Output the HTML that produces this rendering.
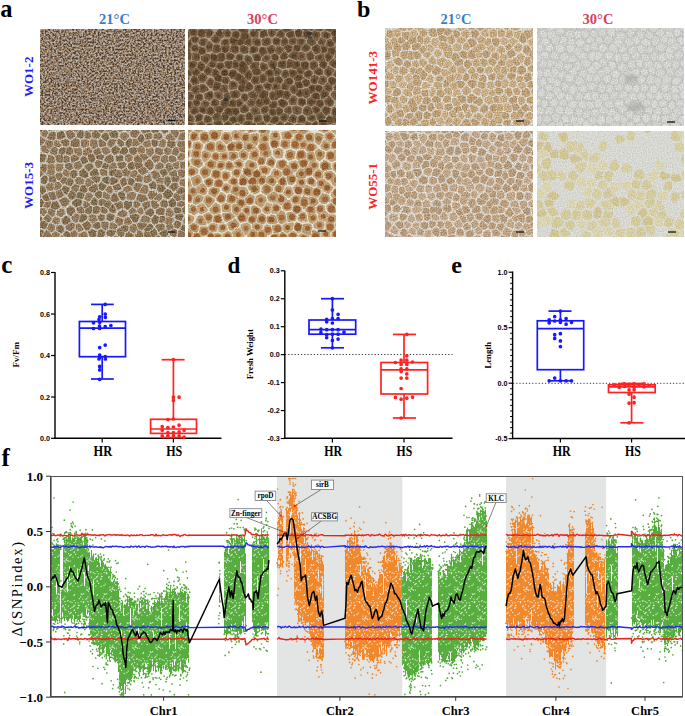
<!DOCTYPE html>
<html><head><meta charset="utf-8"><style>
html,body{margin:0;padding:0;background:#fff;width:685px;height:716px;overflow:hidden}
svg{display:block}
</style></head><body>
<svg width="685" height="716" viewBox="0 0 685 716">
<rect width="685" height="716" fill="#fff"/>
<filter id="sm" x="-50%" y="-50%" width="200%" height="200%"><feGaussianBlur stdDeviation="2.2"/></filter>
<filter id="nzA" x="40" y="29" width="145" height="96" filterUnits="userSpaceOnUse" color-interpolation-filters="sRGB"><feTurbulence type="fractalNoise" baseFrequency="0.55" numOctaves="2" seed="5"/><feColorMatrix type="matrix" values="2.4 0 0 0 -0.7 2.4 0 0 0 -0.7 2.4 0 0 0 -0.7 0 0 0 0 1"/><feComponentTransfer><feFuncR type="table" tableValues="0.30 0.46 0.58 0.66 0.74"/><feFuncG type="table" tableValues="0.22 0.36 0.49 0.61 0.71"/><feFuncB type="table" tableValues="0.16 0.27 0.39 0.56 0.70"/></feComponentTransfer></filter><rect x="40" y="29" width="145" height="96" filter="url(#nzA)"/><line x1="168" y1="120.5" x2="175.5" y2="120.5" stroke="#111" stroke-width="1.3"/>
<clipPath id="c2"><rect x="188" y="29" width="148" height="96"/></clipPath>
<filter id="Fc2" filterUnits="userSpaceOnUse" x="182" y="23" width="160" height="108" color-interpolation-filters="sRGB"><feTurbulence type="fractalNoise" baseFrequency="0.15" numOctaves="2" seed="2" result="t"/><feDisplacementMap in="SourceGraphic" in2="t" scale="2" xChannelSelector="R" yChannelSelector="G" result="d"/><feGaussianBlur in="d" stdDeviation="0.6" result="b"/><feTurbulence type="fractalNoise" baseFrequency="0.7" numOctaves="1" seed="13" result="n"/><feColorMatrix in="n" type="matrix" values="1 0 0 0 0 1 0 0 0 0 1 0 0 0 0 0 0 0 0 1" result="g"/><feComposite in="b" in2="g" operator="arithmetic" k1="0" k2="1" k3="0.3" k4="-0.15"/></filter>
<g clip-path="url(#c2)"><g filter="url(#Fc2)"><rect x="182" y="23" width="160" height="108" fill="#a89e8c"/>
<path fill="#745a3e" stroke="#745a3e" stroke-width="2.8" stroke-linejoin="round" d="M275.1 23.7l4.3 2.5-0.2 1.9-2.6 1.6-4.2-3.1 0.3-1.2zM285.6 31.4l-2.3-2.7 0.2-1.9 1.4-1 4.3 1.1 1.5 2.4zM303.7 24l-1.9 1.4-0.5 1.5 2.1 1.9 4.3 0.5-3.4-5.2zM312.6 23.4l-5 1 3.2 4.7 0.7 0.3 1.7-1 0.2-3.9zM329.5 24.9l2.2 0.4 0.3 2.1-1.9 3.4-4.1-1.6 1.2-3.6zM232.8 35.7l4.6 1.8 0.6-0.9 0.4-2.8-1.7-1.9-3 1zM304.7 31.8l-1.1 4.9 2.5 1 3.1-3.1 0.6-1.9-0.8-0.4zM206.4 40.3l-2.5 4.6-3.2-0.7-0.7-1.3 1.3-2.8 3.5-0.4zM217.9 42.1l1.3-2.3-4-4.4-3.1 3.9 2.4 2.6zM249.7 38.6l-2.7 1.8-1.9 2.9 4.2 1.8 1-1.2-0.2-4.9zM259 40.2l-0.3-0.3-5.1-0.5 0.2 4.6 5.1 1.2 0.7-0.6zM269.8 39.9l0.3 3.1-3.6 2-3-0.6-0.5-4.4 5.1-1.3zM273.8 39.8l1.9-1.2 3.7 1.2-0.5 4.3-2.8 0.1-1.9-1.4zM293.2 43.6l1.6-1.4 0.7-2.8-0.7-0.6-4.5 1.2-0.3 2.6zM328.7 46.2l-1.5-1.8 1.1-3.1 2.2-1.2 2.8 3.9-0.6 1.2zM337.3 37.4l-3.6 0-0.3 1.1 2.5 3.7 4.1-1.3 0.4-0.9zM185.5 54l-2.4-3.6 2.1-2 3.7 1.4 0.6 1.1zM192.9 49.8l-0.5-1 1.7-2.8 2.4-0.3 0.6 1.2-0.7 3.8-3.2-0.7zM227.1 50.9l1.3-4-6 0.1 0.6 3.8 2.3 1.1zM272 46.2l2 1.5-0.9 3.9-2.3 1.5-1.6-0.7-1-4.1zM286.1 49.6l2.3 2 2.8-1.9 0-3.1-3.1-0.9-2.7 2.2zM294.7 49.6l3.5 0.7 0.8-0.6 0.2-1.7-2.8-3-1.7 1.5zM189.9 58.9l0.6-5.1-0.3-0.2-3.6 2.8 0.2 2.4 1.4 0.7zM232.8 57.8l0.7-2-4.4-2.1-1.7 1.1 0.2 3.6 3.9 0.5zM259.1 59.9l0.3-0.3 0.3-2.1-1.6-2.9-4.5 1.1 1.7 4.2zM277.1 56.5l-2.4-1.7-2.2 1.4 0.4 2.1 3.7 1.5 0.9-0.9zM322.4 55.2l1.4 5-5.5-0.2-1.6-1.4 0.6-2.2 2.9-1.4zM328.2 60.6l-0.9-0.7-1.4-4.7 1.8-1.2 3.9 2.6-0.1 0.5zM338.9 59.7l3.5-2.7 0.5-2.6-0.1-0.2-5-0.1-1.9 2-0.1 0.5zM191.3 62.2l4.5 0.5-0.8 3.4-3.4 2.4-1.9-1.4-0.2-4.2zM220.2 69.1l-3.1-2.4 1.2-2.3 0.7-0.5 3.2-0.1 1.4 3.5zM239.8 66.9l6.7-1-3.3-4-2.7 1.8zM257.8 63.2l-4.1 0.1-2.7 3.2 0.3 0.9 0.4 0.5 5.8-0.6zM261.7 63.9l0.3-0.3 3.8 1.4 1.3 3-3.4 2.2-0.9-0.1-1.3-2.5zM272.4 67.8l-1.5-0.4-1.5-3.4 2.3-2.8 4 1.6-0.3 3.2zM296.3 67.7l-3.2-0.2 3.5-5.5 1 0 1.4 0.9-0.2 2.6zM313.3 69.1l-1.9-1.5-0.2-4.4 3.2-1.6 1.6 1.3 0.7 3.2zM334.8 66.7l-4.3-2.7-0.2-0.7 3.3-3.4 2.8 2.9 0 3.5zM196.6 74.8l2.6-2.3-2.8-3.4-3.3 2.3 0.6 2.6zM211 69.2l-1.5 4.7-1.1 0.2-3.2-2.5 1.9-4.2 0.1 0zM218.1 73.5l0.1-1.5-3.1-2.4-0.9 0.4-1.5 4.9 1.5 0.9zM222 73.6l0.1-1.5 3.4-1.9 1.7 1-0.4 3.2-3.5 0.5zM249.1 71l-4.3 4.6 0 0.1 3.9 3.3 0.5 0 2.1-3.9-1.7-3.7zM282.4 74.9l1.8 2.2 3.8-1.5-0.7-3.9-1-0.6-2.1 0.3zM297.7 70.3l1.6 2.5 2.6 0.2 0.7-1.3-2.5-3.5zM182.5 80.1l0.6 1 4.3-0.5 0.9-3.1-4.7 0.1-1.1 1zM216.1 79.6l-0.7-1.4 4-2.4 1.4 1.4-0.5 3.5zM252.1 80.8l2.4 2.6 4-1-0.8-5.2-3.7 0zM268.7 80.7l0.3-1.9 4.2-1 0 0 0 3.3-1 0.9zM276.4 77.9l0 3.5 3.9 1.2 0.9-1.4 0.5-1.2-1.9-2.4zM303.4 81.8l1.8 3.8 1.8 0 2-2.1-0.8-2.3-3.3-1.5zM339.3 82.2l3.6 1.8 1.7-2.3 0.1-2.5-1-0.8-4.6 1.5zM224.3 91.5l-4.2-1.4 3.4-4.3 2.9 0.6 1 4.1-0.1 0.1zM299 87.2l-3.1-3.2 0.1-0.9 4.2-0.4 1.9 3.9-0.6 0.3zM187.7 99.2l1.2-5.7 1.6-0.3 2.3 2.3-0.2 1.8-1.1 1.7zM290 94.7l-2.8 3.6-3.4-1.4 0.9-4.7 3.3-0.3zM299.1 90.7l-2 3.5 1.4 1.3 2.4 0 0.8-5.1zM304.5 90.2l0.7-0.4 1.9 0.1 1.7 4.2-0.2 1.1-1.9 1.9-3-1.6zM312.6 96.3l0.1-1 3.1-1.5 2.4 1 0.7 3.2-1.8 0.3zM194.1 102l1.3 2.4 2.2 0.7 0.7-0.7 1.1-2.4-4.2-1.8zM214.2 99.8l-2.2 2.8 0.1 1.9 0.9 0.5 5.1-0.8-0.3-2.6zM184.4 115.8l3.9-2.9-0.3-1.6-3-2.2-2.2 1.5-0.1 3.2zM191.8 112.3l2.3 1.4 3.5-2.1-0.8-3.4-2.4-0.7-2.9 3.2zM247.6 110.3l0.4-1.9-2.7-2.6-0.6-0.2-3.8 2.9 0.8 2.9 3.1 0.5zM265 107l1.7 0.1 0.9 2.1-0.6 2-3.8 1.5-0.2-0.1-1-3.3zM281.7 111.9l-2.4 2.6-1-0.5-0.8-4.3 1.1-1.5 3.2 2zM290.1 107.8l0.4 4.4-1.2 0.8-3.8-1.7 0.2-1.7 3.2-2.5zM325.1 107.4l4.5 1-0.9 4.6-2.3 1.2-3.2-3.6 0.1-0.6zM196.6 120.4l-0.5-3.8 3.1-1.9 2.8 1.3-1 3.3-4.1 1.4zM241.3 122.8l2.3-3.1-0.3-3.8-3.2-0.5-2 2 1 3.5zM302.1 116.1l2 1.7 0.2 1.9-1.3 3.4-4.4-1.4 0.8-4.4zM313.4 115.7l-5 1.5 0.3 1.9 3.5 1.2 2.6-1.1-1.1-3.4zM317.2 115.2l3.6-2.1 3.5 3.8-0.6 1.4-5.2 0.7-0.1-0.1zM328.7 123l4.3-1.1-2.1-4.9-0.6-0.4-2.4 1.3-0.5 1.4zM197.8 123.8l4.2-1.4 1.9 2.4-0.3 1.6-3.4 1.2-2.1-2zM225.4 125.7l1.3 0.9 2.5 0.3 1.8-2.4-2.9-2.3-2.6 1.9zM254.7 124.5l1.2 2.3-2.7 3.2-2.1-3.1 2.6-3zM258.3 124.2l4.5-1.7 1.9 2-0.8 2.9-1.1 0.5-3.4-1.6zM301.8 126.5l-4.7-1.4-0.6 0.3-1.1 3.4 3.6 2.1 3.1-3.4zM305.5 125.9l1.2-3.4 3.6 1.3-1.1 3.9-2-0.2-1.4-0.8zM316.2 122.3l0.1 0.1 0.8 3.8-2.3 2.5-2.2-1.2 1.1-4zM325.8 126.4l0.5-1.2-1.3-3.8-5.1 0.6 0.8 4.1 4.6 0.5zM329.5 127.9l2.8 3.4 0.1 0 4.4-2.1-2.4-3.6-0.1 0-4.3 1.1z"/>
<path fill="#70583c" stroke="#70583c" stroke-width="2.8" stroke-linejoin="round" d="M222.8 22.8l-3.5 4.7 0 1.1 2.5 0.4 3.9-1.6 0-1.3zM233.2 22.9l3.9 1.5 0 0.1-1.5 3.8-2.9 0.9-2.4-2.2 0-1.2zM247 30.2l-5.8-4.5-0.3 0-1.5 3.9 1.7 1.8 5.5 0.4zM323.3 25.4l-1.3 3.8-1.8 1-3.6-1.5 0.3-4.2 3.8-1zM337.9 22.5l3.8 3.1 0.2 2.7-3.1 0.4-2.9-1.7-0.3-2.2zM184 32.7l-1.5 3.8 2.5 1.7 2.8-1 0.9-1.4-1.2-4.1-1.1-0.1zM196 30.8l-0.3 3.5-4.1 0.4-1.2-4.3 1.4-1.1zM201.3 29.7l1.1 0.5 1.7 5.7-3.6 0.4-1.6-1.6 0.3-3.4zM248.3 36.5l-2.6 1.8-4.2-1 0.4-3 5.9 0.3zM251.5 32.2l-0.4 1.6 0.6 1.6 0.4 0.4 4.8 0.5 0.4-3.7-4.5-2.1zM266.6 35.4l-0.8-4.1-2.5-0.2-1.7 1.6-0.4 3.7 0.4 0.3zM277.5 35.4l1.1-2.7 2.6-1.6 2.3 2.7 0 1.5-2 1.4zM299.3 30l-3.1 1.8 1 3.8 0.6 0.5 2.4 0 0.9-4.4zM337.3 31.3l-3.1-1.8-2 3.7 0.4 1.5 3.9-0.1zM230.6 39.4l1.2 4 4.5 0.4-0.1-3.7-4.6-1.8zM243.8 40.6l-3.9-0.9-0.6 0.9 0.1 3.7 0.1 0.1 2.5-0.9zM311.4 44.8l3.4-2.2 0-0.2-3.9-4.7-2.8 3 0.4 1.5zM218.5 45.8l-3.6-0.2-1.2 5.5 2.6 0.8 3.4-1.5-0.6-3.7zM244 52.6l3-0.8 0.4-3.6-4-1.6-2.4 1 0.8 3.8zM264.8 48.6l1.1 4.1-4 2-1.8-3.2 0.9-2.9 0.7-0.6zM309 48.5l-3.4 2.3-3-1.1 0.2-1.6 3.3-3.2 3 2.7zM313.1 48.8l2.8 4.3 2.9-1.4-0.2-5.2-1.8-1.1-3.7 2.4zM328.9 51.4l4.1 2.7 1.8-1.9-1.4-4.1-3.9 1zM336.6 46.9l0.6-1.1 4-1.4 1.2 3.3 0.2 3.1-4.6-0.1zM208.6 59.3l0.1-3.9-2.2-0.2-3.6 2-0.6 2.5 3.9 2.9 0 0zM215 55.5l1.5 5-0.7 0.6-4.1-2.2 0.1-4 0.6-0.2zM223.9 55l-2.3-1.1-3.5 1.5 1.4 5 3.5-0.1 1.1-1.6zM251.3 60.7l-1.8-4.3-0.7-0.4-2.9 0.8-0.1 3.1 3 3.8 0 0zM293.5 52.5l3.6 0.7-0.6 5.4-1 0-4.8-1.8-0.2-2.3zM199.3 63.4l-0.8 3.3 2.8 3.3 0.9-0.1 1.9-4.4-3.7-2.8zM236.6 67.6l-2.5-0.4-0.5-5 1.4-1.2 2.9 2.8-0.7 3.3zM282.6 67.6l2.3-0.4-0.1-5.5-4.6 0.1-0.9 1-0.3 3zM293.7 62l-3.4 5.3-1.2 0.4-0.9-0.6-0.2-5.4 1.2-1.3zM302 65.7l0.3-2.5 3.4-0.6 2 0.7 0.2 4.3-3.4 1.7zM326 63.7l-0.8-0.7-5-0.2 0.6 3 3 1.8 2.3-3.3zM190 74.8l-5 0 0.9-3.6 2.3-1 1.9 1.4 0.6 2.6zM235.4 71.2l0.5 1.3-2.8 5.2-1.3 0-1.4-2.8 0.4-3.3 2.2-0.8zM239.5 69.5l0.5 1.4 3 2.5 4.3-4.5-0.3-1-0.1 0-6.8 1zM258.7 69.7l1.4 2.7-1.7 1.5-3.7-0.1-1.6-3.5zM294.6 71.2l-3-0.2-1.2 0.4 0.8 4 1.5 1.3 3.4-3.1zM321.8 73.6l-2.5 0.7-3.8-1.6-0.4-0.9 3.5-3 3.3 2zM336.7 70.7l-2.2 4.2 2.7 1.6 4.7-1.5-1.6-4-2-0.8zM197.8 82.6l-4.3 1.2-1.8-2.6 0.9-3.4 0.6-0.6 3 0.8 1.7 4.5zM200.8 81.4l2.7-0.3 2.8-4-3.5-2.7-1 0.1-2.6 2.4zM223.3 81.5l0.4-3.2 3.6-0.5 1.3 2.7-2 2.4-2.7-0.6zM237.9 80.1l3.1-3.5 0-0.2-2.7-2.3-2.6 5zM239.4 82.1l0.6 1 4.6-0.3 1.9-1.5-3.8-3.1zM262.5 82.1l-0.9-0.3-0.8-5.4 1.8-1.6 1 0 2 3.4-0.4 2zM291.9 82.4l0.1-1-0.6-1.4-1.5-1.3-4.2 1.7-0.4 1.3 5.2 2.3zM298.6 75.6l-3.3 3 0.5 1.4 4.3-0.4 1.6-2.1-0.5-1.7zM313.9 76.1l-2.2 4 0.8 2.3 2.9 0.3 0.2 0 1.9-5.1zM332.5 84.2l-3-2.9 0.2-2.4 2.3-0.8 2.8 1.7 0.2 2.4zM187.4 89.5l-3.4-1.3 0.1-3.9 4.7-0.5 1.8 2.5-1.4 2.9zM202.7 91.6l4.6-2.3-3.7-3.8-2.4 0.2 0 0.1 0.2 5.1zM214.8 89.7l2.2-0.6 3.4-4.3-0.7-0.9-4.2-1.1-1.4 6.2zM239.7 86.1l-0.2 2.8 2.3 2.3 1.3-0.4 0.9-4.9zM249 83.4l0.4 0 2.6 2.7-0.4 2.2-4 2.1-1.4-0.2 0.9-5.3zM260.7 85.9l-0.8-0.3-4 1-0.4 2.2 2.7 3.8 3.8-4.3zM296.5 89.1l-3.1-3.2-1.3 1.4-1.3 2.3 2.1 2.8 1.6 0.2zM311 92.4l-1.6-4.3 2.2-2.3 2.9 0.3-0.1 4.5zM335.1 89l-0.2-2 2.5-2.2 3.8 2 0 0.1-2.5 3zM196.2 97.6l4.5 1.9 1.2-0.8-0.6-3.3-1.4-0.8-3.5 1.1zM225.3 94.5l-1.5 4 5 0.2 0.7-0.9-1.3-4.2zM244.7 100.6l0.6 0.2 2.2-3.3-1.7-2.7-1.3-0.1-1.4 0.4-0.8 2.2zM256.4 97.1l-0.1-1.3-2.8-4.1-4.2 2.2 2 3 4.6 0.7zM260.4 97l6.1-0.9 0.6-3.5-3.4-1.6-4 4.5 0.1 1.4zM272.1 92.4l0.9 0.3 4.1 5.2-1.3 1.2-4.2-0.6-1.2-2.1 0.6-3.4zM281 90.9l-5 1 3.8 4.9 1-0.4 1-4.8zM327.6 93.9l-4.3-3.5-1.7 3.7 0.7 3.6 0.4 0.2 4.7-3.3zM227.9 101.5l-0.7 4.3-3.2 1.7-1.9-2.8-0.3-2.9 0.8-0.5zM231.6 100.7l2.8 0.3 0.6 4.7-4.1-0.1-0.5-0.2 0.6-3.9zM258.9 100l3.9 4.1-3.1 2.3-3.2-2.1 1.4-4 0.5-0.5zM262 99.6l5.6-0.9 1.2 2-1.6 2.9-1.6-0.1zM271.6 102.1l4.3 0.5 0.2 2.8-1.2 1.7-4.2 0.2-0.8-2.1zM286.6 104l-1-2.2-3.7-1.6-1.1 0.5-1.3 1.2 0.2 2.7 3.5 2.1zM311.2 105.1l1.9-1.1 2.3-3.2-4.9-2.2-2 1.9-0.2 3.4zM316.7 104.3l4.2 2.6 1.7-2.7-1.4-3-0.4-0.2-1.9 0.3zM329.4 97.8l-4.3 3 1.4 3 4.5 1 0.7-0.3 0.9-2.8zM210.4 107.8l-1.1 1.1-1.8 3.8 3.7 1.6 2.4-2.4-2.3-3.5zM232.2 109l2.6 5.4 1.3 0.1 2-2-0.8-2.9-0.6-0.5zM304.3 112.4l2 1.9 5.3-1.7-2-4.2-2.8-1.1-2.2 1.8zM313.3 108.2l1.9 4.2 0.4 0.1 3.5-2.1 0.2-0.6-4.2-2.7zM338.7 114.6l0.3-0.7-1-3.6-3.7-1.8-0.7 0.4-0.9 4.7 0.6 0.4zM185.9 118.2l-0.1 0.5 1.5 2.4 5.3-0.3-0.6-4.1-2.3-1.3zM210.4 120.8l-3.5 1.4-1.8-2.4 1.1-3.4 0.1 0 3.8 1.6 0.6 1.8zM219.6 118.7l-0.3-4.4-3.1 0-2.6 2.6 0.7 2zM230.4 119.8l1-1.7 2.4-0.7 1.4 0.2 0.9 3.7-2.6 1zM277.6 117.9l-1.2-0.5-2.9 0.2-2.4 4 3.6 1 3.5-3.3zM292.6 115.9l3 1.2-0.8 4.5-0.6 0.3-4.3-1.8 1.5-3.4zM336 122l-2.2-4.9 5.4 0.5 0.2 1.1-3.4 3.3zM221.4 125.4l-2.8 1.8-2.2-1-1.7-3.3 0.3-1 5.2-0.2 1.3 2zM251.1 123.1l-0.3-0.6-4.5-0.5-2.1 2.9 0.3 1.2 4.1-0.2zM267.6 128.6l0.9-3.1 0.8-0.3 3.5 0.9 1.2 2.6-2.3 2.6-1-0.2zM292.4 125l-4.2-1.7-2 0.9-0.2 3.2 3.5 1.9 1.9-1.1z"/>
<path fill="#785e42" stroke="#785e42" stroke-width="2.8" stroke-linejoin="round" d="M199.5 26.3l-0.6-2.2-2.8-2.6-2.1 1.4-0.8 3.6 4.1 1.5zM254.8 27.8l0.7-2.4 4.1 0.6 1.5 2.3-1.7 1.7zM209.4 36.7l3.2-4.1 0.1-0.2-3.8-2.8-3 0.8 1.6 5.7 1.7 0.6zM223 36.1l-2.3 1.1-3.9-4.5 0-0.2 1.4-1.1 2.3 0.3zM228.2 36.3l1-1.1 0.9-2.7-2.4-2.2-3.6 1.5 2.5 4.4zM271.8 36.2l2-1.3 1.1-2.5-4.1-3-1.4 1.6 0.8 4.1zM287.4 35.3l1.9 1.8 4.3-1.1-1-3.9-0.4-0.1-4.7 2zM319 35.8l-0.4-2.6-3.7-1.6-1.8 1.2-0.6 1.9 4.3 5.1zM326.9 38.1l2.1-1.2 0.4-1.3-0.4-1.4-4.4-1.7-1.9 1 0.3 2.5zM185.9 45.8l-0.1-3.8 3.1-1.2 2.7 3.3-1.9 3.1zM196.6 41.9l1.3-2.8-1.6-1.6-3.8 0.3-0.9 1.4 2.6 3zM222 43.2l1.3-2.3 2.3-1.1 1.7 0.2 1.1 3.9 0 0.1-5.8 0.1zM283.8 45.3l-1.5-0.8 0.5-4.8 2.1-1.5 2 2-0.3 2.8zM304.2 42.2l-0.4-1.6-2.5-1-2.6 0-0.6 2.8 2.8 3zM323.7 43.7l-3 0-1.6-1 0-0.2 2-3.6 3.6 1.9zM201.3 54.1l3.6-1.9-1.2-3.7-3.5-0.7-0.8 4.2zM211.7 44.9l-2.4-2.6-0.1 0-2.5 4.6 1.2 3.4 2.1 0.2 0.6-0.3zM235.3 52.8l2.7-1.6-0.8-4.1-0.2-0.2-4.8-0.4-0.1 0.1-1.4 4zM251.5 52.3l-0.7-0.4 0.4-3.6 0.9-1.2 5.1 1.3-0.9 2.7zM282.6 50.1l-3.7 3.4-2.5-1.9 0.9-3.9 3.1-0.1 1.4 0.8zM325.9 50.9l-1.9 1.3-2.1-0.3-0.2-5.2 3.2 0 1.5 1.8zM193.1 59.1l4.4 0.6 1.1-0.7 0.6-2.5-1.8-2.1-3.6-0.7zM239.3 60.6l2.6-1.7 0.1-3-2.1-1.1-2.5 1.4-0.6 1.9zM263.3 59.9l3.8 1.4 2.1-2.6-0.3-2.2-1.5-0.7-3.8 1.9zM284.4 52.9l-3.3 3.1 0.4 2.3 4.2-0.1 1.1-1.3-0.2-2zM299.4 58.7l1.5 0.9 3.5-0.6-0.5-4.9-3.1-1.1-0.8 0.5zM310.9 52l2.6 4-0.5 2.1-3.1 1.5-1.9-0.7-0.4-4.6zM212.9 66.7l-3.9-1.9 2.2-3 3.9 2.1-1.3 2.4zM231.2 67.1l-2.2 0.9-1.9-1.1-1.4-3.6 1-1.5 4 0.5zM272.5 75.1l-4.5 1.1-2-3.3 3.7-2.4 1.5 0.4zM275.5 74.6l3.2-0.2 1.7-3.5-3.4-1.6-2.6 1.5 1.1 3.8zM305 74.1l0.5 1.8 3.6 1.7 2.4-4.2-0.4-0.9-1.9-1.5-3.5 1.7zM332.9 70.1l-2.4 4.4-2.4 0.9-2.5-1.8 0.1-2.8 2.5-3.6zM211.5 86.9l-0.8-0.2-3.6-3.8 2.5-3.6 1.1-0.2 1.4 0.9 0.8 1.3zM325.5 81l-2.8 2.8-3.4-1.3 1.8-4.8 2.3-0.7 2.3 1.8zM192.3 90.4l1.5-3 4.4-1.3 0.2 5.7-3.5 1.1zM235.7 83.3l0.6 1-0.2 3.1-5.3 1.3-1-4 2.1-2.5 1.4 0zM264.4 85.3l1.3 2.5 3.3 1.6 1-0.6 0.8-3.9-3.8-1.4zM274 85l1-1 3.8 1.3 0.6 2.7-5.2 1.1-1-0.3zM288.5 86.1l-5-2.2-1 1.4 0.5 2.7 0.8 0.8 3.5-0.3zM321.1 87.3l-3.7-1.4-0.2 0-0.2 4.5 2.5 1.1 1.8-3.6zM329.1 91.1l-4.2-3.4-0.2-0.6 3.1-3.1 3.2 3.1 0.2 2zM211.9 93.1l0.3 3.4-2.4 3-3.9-1.5-0.5-3.3 4.9-2.5 0.9 0.2zM221.6 94l-4-1.3-2.1 0.6 0.3 3.3 3.7 1.9 0.7-0.5zM231.2 92.6l0.1-0.1 5.5-1.3 2.5 2.5-1 2.6-2.6 1-3.1-0.3zM332.2 94.1l1.9-1.9 3.4 0.9 1 3.3-0.1 0.3-3.2 1.9-3.2-3.9zM186.6 102.7l-0.1 0-0.1 3.5 2.9 2.2 2.9-3.2-1.4-2.7zM204.4 101.4l3.7 1.5 0.2 2-1.1 1-5.2-1.2 1.2-2.4zM237.5 100.9l2.4-1 2.4 3.4-3.6 2.8-0.6-0.4zM255.1 100.4l-4.7-0.7-2.5 3.6 2.9 2.8 2.8-1.6zM292 103.9l3.1-0.8 0.8-4.7-1.5-1.4-1.7-0.1-3.1 3.9 1 2.4zM302.5 105.4l2.1-1.8 0.2-3-2.8-1.4-2.4 0-0.7 4.3zM200.8 107.3l-0.9 0.7 0.9 3.3 3.1 1.4 0.2 0 2.1-4.2zM214.8 107.8l2.6 3.7 3.1 0.1 1.6-1.6 0.1-0.3-1.9-2.8zM229.3 108.9l2.6 5.4-2.4 0.7-4-4.4 0.1-0.3 3.2-1.6zM255 107.5l-2.8 1.6-0.4 2 2.5 3 4.9-1.1-1-3.4zM270.7 110.3l3.8-0.2 0.7 4.3-2.7 0.2-2.3-2.4zM293.6 107.7l3.1-0.8 3.9 2-0.3 3.4-3 1.4-3.2-1.3zM224.2 120.7l-1.3-1.8-0.3-4.1 1.6-1.5 3.6 4-0.9 1.6zM251.6 119.3l-4.5-0.5-0.3-3.7 2.8-1.5 2.3 2.8zM256.2 121.5l4.9-1.9-0.8-3.3-0.2-0.1-4.8 1-0.3 3.1 0.2 0.6zM264 116.1l0.8 3.3 2.1 2.1 0.8-0.4 2.5-3.9-2.4-2.6zM283.7 114.4l-2.7 2.9 0.7 1.4 2.4 2 2.1-0.9 1.5-3.7zM187.2 128.2l4 0.3 2.6-2.5-0.2-1.9-0.4-0.3-5.2 0.3-1 3.7zM212.7 127.1l-1.6-3.1-3.5 1.4-0.3 1.5 1.6 2zM235.3 125.4l2.5-0.9 2.1 1.8 0.3 1.1-0.3 0.9-2.9 2.8-3.5-3.2zM280.2 121.8l-3.4 3.2 1.2 2.7 3.8-0.2 0.5-0.4 0.2-3.3z"/>
<path stroke="#5e452d" stroke-width="6" stroke-linecap="round" d="M196.5 24.9h0M236.2 34.8h0M276.3 41.6h0M186.4 50.7h0M201.9 50.9h0M225.2 49.5h0M297.1 48.2h0M230.3 56.6h0M220.1 65.9h0M323.7 64.5h0M216.9 86.5h0M249 86.7h0M318.9 88.2h0M235 94.4h0M279.9 93.5h0M210.5 110.7h0M235.9 111.5h0M198.6 117.9h0M224.8 117.3h0M249.4 116.6h0M237.7 127.3h0M298.7 127.4h0"/>
<path stroke="#5a422c" stroke-width="4" stroke-linecap="round" d="M222.4 26.9h0M300.3 71.2h0M263.1 78.3h0M314.4 80.3h0M323 80.1h0M187.3 86.9h0M275.8 86.7h0M218.4 95.5h0M306.4 93.1h0M251.6 102.8h0M293.1 118.9h0M336.9 119.5h0"/>
<path stroke="#5a422c" stroke-width="5" stroke-linecap="round" d="M233.8 26h0M286.2 28.2h0M320 26.9h0M338.6 26.2h0M186 34.8h0M326.4 35.2h0M334.5 32.7h0M194.8 39.6h0M233.3 41h0M240.6 42.2h0M257.3 42.2h0M330.1 43.5h0M316 48.9h0M294 55.7h0M328.7 57.3h0M192.2 64.9h0M263.5 66.9h0M272.6 64.9h0M281.8 64.5h0M296.9 64.6h0M195.8 72.4h0M208.1 70.6h0M328.5 71.9h0M184.6 79.3h0M194.7 80.5h0M238.8 77.3h0M267.8 86.6h0M312.2 88.6h0M338.1 87.4h0M299.5 93.3h0M324.2 94.8h0M188.6 104.6h0M196.7 103h0M239.3 103.2h0M329.4 102.2h0M202.6 110.1h0M316.3 110.1h0M233.4 119.4h0M275.2 119.4h0M209.5 126.5h0M253.7 126.4h0M270.6 128.1h0M280.2 125.5h0M288.9 126.2h0"/>
<path stroke="#624830" stroke-width="6" stroke-linecap="round" d="M242.7 29.1h0M303.7 26.4h0M311.5 26.5h0M201.1 33h0M245 36.2h0M263.3 33.9h0M290.4 34.4h0M336.8 39.4h0M234.7 48.8h0M262.6 50.7h0M271.2 49.9h0M288.4 48.5h0M221.7 57.3h0M275.2 57.4h0M284.4 56.2h0M310.5 56.5h0M201 66.4h0M228.4 64.9h0M243.4 69.6h0M248.2 75.3h0M257 72h0M289.5 81.2h0M306.3 82.9h0M332.2 80.7h0M241.6 88.6h0M273.2 105h0M320.2 103.2h0M219.5 109.6h0M272.6 112.3h0M279.5 111.4h0M326.1 110.6h0M266.9 118.3h0M218.3 124.1h0"/>
<path stroke="#5e452d" stroke-width="5" stroke-linecap="round" d="M258 27.5h0M193.1 31.9h0M209.5 33.5h0M253.3 33.8h0M315.8 34.6h0M215.8 39.7h0M225.4 42.3h0M194.6 48.3h0M217 48.6h0M324.1 49.5h0M331.9 51h0M339.7 47.7h0M239.5 57.4h0M339.5 56h0M212.4 64.7h0M235.7 64.8h0M313.8 65.1h0M333.7 63.9h0M188.3 72.8h0M215.4 72.7h0M292.8 73.2h0M318.7 72h0M202.4 77.6h0M255.4 80.2h0M271.6 79.7h0M279.3 80.1h0M298.8 77.8h0M342.4 80.9h0M195.5 89.7h0M233.4 84.7h0M258.7 88h0M284.8 86.8h0M328.1 87.7h0M199.4 96.9h0M286.8 94.8h0M214.5 103h0M232.2 103.3h0M266.2 101.2h0M194.4 110.7h0M244.7 108.9h0M264.9 109.9h0M188.9 118.5h0M207.9 119h0M240.9 118.7h0M284.1 117.9h0M329.7 119.3h0M190.6 126.1h0M247.6 124.1h0M315.1 125.1h0"/>
<path stroke="#624830" stroke-width="4" stroke-linecap="round" d="M275.9 26.6h0M293.1 41.1h0M311.4 41.7h0M321.4 42.1h0M188.7 56.8h0M266.6 58.3h0M301.6 56.3h0M276.9 72.4h0M242.6 81.5h0M224.8 89.2h0M293.4 89.5h0M190.7 96.3h0M227.1 96.6h0M253.8 95.5h0M205.5 103.7h0M255.1 110.7h0M288.3 110.2h0M216.6 116.6h0"/>
<path stroke="#5a422c" stroke-width="6" stroke-linecap="round" d="M329.4 27.2h0M219.3 33.6h0M298.6 33.6h0M307.1 34.3h0M253.2 49.8h0M213.9 57.6h0M257.5 57.9h0M242.5 64.6h0M305 65.3h0M224.5 72.7h0M232.9 73.8h0M269.5 73.1h0M308.1 73.9h0M218.4 78.3h0M299.1 85.1h0M209.5 95.2h0M262.9 94.9h0M315.9 96.1h0M282.5 102.8h0M302.1 101.9h0M185.2 112.3h0M228.5 111.3h0M335.7 112h0M301.9 119.3h0"/>
<path stroke="#624830" stroke-width="5" stroke-linecap="round" d="M227.7 33.7h0M271.8 33.2h0M281 34.2h0M188.4 44h0M202.9 42h0M248.6 41.7h0M266.8 41.8h0M284.5 41.8h0M301.2 41.6h0M209.3 46.8h0M244.1 49.7h0M305.9 48.3h0M196.6 57h0M205.9 58.9h0M253.8 65.9h0M289.8 64.4h0M285.4 73.6h0M210.6 82.3h0M225.5 80.5h0M202.9 88.1h0M244.7 97.3h0M273 95.7h0M224.3 103.8h0M259 102.5h0M292.9 100.5h0M311.2 102.2h0M257.6 118.9h0M227.6 125h0M307.4 125.7h0M323.8 124.6h0M332.8 128.2h0"/>
<path stroke="#5e452d" stroke-width="4" stroke-linecap="round" d="M279.6 49.8h0M248.4 59.6h0M319.8 57.6h0M338.2 73h0M335.4 95.1h0M297.1 110.3h0M307.2 110.7h0M311.9 117.9h0M320.5 116.9h0M200.9 125.1h0M262 125.5h0"/>
</g>
<line x1="319" y1="121" x2="327" y2="121" stroke="#111" stroke-width="1.3"/><ellipse cx="226" cy="99.8" rx="2.4" ry="1.8" fill="#2e3236"/><ellipse cx="310" cy="33.5" rx="2.6" ry="1.4" fill="#3a3632"/><ellipse cx="310" cy="37.5" rx="2.2" ry="1.2" fill="#4a4038"/><ellipse cx="274.5" cy="68" rx="1.2" ry="1.8" fill="#3e3832"/>
</g>
<clipPath id="c3"><rect x="40" y="130" width="145" height="107"/></clipPath>
<filter id="Fc3" filterUnits="userSpaceOnUse" x="34" y="124" width="157" height="119" color-interpolation-filters="sRGB"><feTurbulence type="fractalNoise" baseFrequency="0.15" numOctaves="2" seed="3" result="t"/><feDisplacementMap in="SourceGraphic" in2="t" scale="2" xChannelSelector="R" yChannelSelector="G" result="d"/><feGaussianBlur in="d" stdDeviation="0.55" result="b"/><feTurbulence type="fractalNoise" baseFrequency="0.8" numOctaves="1" seed="14" result="n"/><feColorMatrix in="n" type="matrix" values="1 0 0 0 0 1 0 0 0 0 1 0 0 0 0 0 0 0 0 1" result="g"/><feComposite in="b" in2="g" operator="arithmetic" k1="0" k2="1" k3="0.5" k4="-0.25"/></filter>
<g clip-path="url(#c3)"><g filter="url(#Fc3)"><rect x="34" y="124" width="157" height="119" fill="#c4c0b6"/>
<path fill="#8e7456" stroke="#8e7456" stroke-width="2.0" stroke-linejoin="round" d="M121.1 123.9l-3.5 1.7 0 2.8 2 2.4 3.2-0.9-0.3-5.3zM68 136.6l-1.4-4.2 3.7-1.6 3.7 3.5 0 1.9-3.5 2.3zM90.1 137.1l-0.2-3.5-2.4-1.4-1.7 0.1-0.3 5 3.6 0.6zM133.1 136.3l-1.1-0.7-1-2.4 2.1-2.8 5 0.8 0.4 1.6-2.9 3.8zM150.8 137.6l0.3-2.8-1.1-1.2-4.5 1.1 1.2 3.9 3.5-0.3zM177.7 132.1l0.4 0.6-1.8 4.2-4.4-4.7 0.1-0.4zM179.3 138.3l1.9-4.4 3.4-0.5 1.3 0.5 0.4 2.7-3.3 2.8-3.7-0.7zM43.1 142.4l1.2-2.4-0.1-0.1-3.3-2.3-3.9 3 1.5 3.5 1.7 0.7zM51.9 145l-2 2.7-3.8-4.4 1.3-2.4 4.6 1.3zM100.1 146.1l-0.6-5.3 1.5-0.9 3.8 3.2 0.4 2.1-4.4 1zM108.7 145l1.9 1.5 3.2-2.7 0.6-3.2-3.8-0.6-2.2 2.9zM178.7 141.9l3.7 0.7 3.7 3-0.1 0.1-7 0.4-0.7-0.7 0.1-3.1zM189 139l3.3 4-0.2 1.3-2.6 0.8-3.9-3.2zM56.8 150l-0.3 2.9-2 1.3-3.5-1.6 0.6-2.2 1.9-2.6zM162.4 153.1l-2.1 1.2-4.3-1.8 0.1-3.1 2.2-1 3.2 1.4zM172.6 153.1l3.7 1.8 2.2-3.3-1.7-2.8-0.8-0.7-2 1.7zM53.2 157.4l-3.4-1.5-0.8 0.3-1.3 5.3 1.1 0.9 4.5-0.1 0.7-0.7zM56.4 156.7l0.9 4.6 4.5 0.4 0.3-5.5-3.7-0.7zM65.4 156.2l-0.7 0.5-0.3 5.2 0.4 0.4 3.9-1.2-0.2-3.5zM140.6 155.6l3.4 4.3 3.2-2.4-2.1-2.7zM175.7 159.8l-0.7-1.8-3.8-1.8-1.3 0.6 0.1 4.1 1.8 0.7zM45.1 171.7l1.1-3.1 0-2.8-1.1-0.9-3.2 0.5-1 3.2 4 3.1zM101.2 162l-4.3-0.8-1.1 2.3 0.8 2.7 2.1 0.7 1.3-0.8 1.5-3.3zM158.4 168.7l4.4-1.9 0.1-1.4-3.3-2-3 1.3-0.5 3.2zM166.5 167.1l2.1 3.6 3.8-2-1.9-4.1-1.8-0.7-2.1 1.7zM186.3 168l-5-0.5-0.3-4.4 2.8-0.7 2.8 4.5-0.3 1.1zM42.8 173.8l-3.9-3-1.2 0.6-0.4 3.4 2.6 1.2zM56.9 174.2l-0.5 0.8 1.6 3.9 1.2 0.4 2.6-3.5-1.2-2.2zM102.4 175.1l4-0.9-0.1-2.9-0.1-0.2-4-1.4-1.4 0.8 1 3.9zM118.7 170.9l-3.7 4.6 4.3 2.3 2.4-2.1-1.6-4.1zM129.6 172l-3.2-2.9-3.5 1.9 1.7 4.3 2.1 0.3 1.1-0.4zM147.1 171.5l-4-3.9-4.1 2.8 1.2 2.2 2.6 1.4zM159.1 175.4l-2.3-3.4-2.4-0.8-2.2 1.6 1.9 5.3 0.6 0.2zM171.3 175.7l4.9-0.6-0.7-3.7-1.7-0.1-3.7 1.9-0.2 0.8zM185.3 171l-1.9 5.4-2.9 0.4-1-1.6-0.8-3.8 1.3-1zM38.9 179.1l-2.8-1.2-2.3 1.6 0.8 3.3 2.2 1.3 2.2-0.6zM49.9 177.3l4-0.9 1.5 3.6-1.9 1.4-3.6-0.5zM63.6 183.2l3.1-4.5-3-1-2.5 3.4 2.1 2.1zM141.5 176.8l-2.7-1.5-2.9 3.9 0.7 1.4 4.7 0.7zM77.2 190.2l-1.4 1.1-3.5-3.2 0-0.2 2.5-2.6 3.6 1zM140.7 184.6l-4.5-0.7-1.9 3.2 0.9 2.2 2.1 1.8 0.2 0 3.6-6zM60.4 190.7l-3.9 1.4 1.9 5.4 4.6-2.4zM138.8 194.9l6.3 1 1.7 3.3-5.5 2.2-3.9-2.5 1.3-4zM154.9 192.3l-4.6-0.4-1.4 3.3 1.7 3.3 0.2 0.1 1.2-0.4 4.2-4.4zM175.3 194.1l-0.3 0.1-0.7 2.3 2.6 3.8 3.2-1.1-1.7-3.8zM49.1 206.6l-1.3 0.6-3.3-0.8 1.9-3.7 3.3-0.2 0.3 0.2zM68.5 201.2l-2.6-2.9-1.2-0.2-4.3 2.3-0.1 0.3 2.2 4.5 2.3 0.6 3.3-2.6zM84.7 202.3l3.6 1.2 0.9 1.4-3.9 2.6-1.3-2.3zM102.2 199.6l-2.5 1.2-0.1 3.3 1.2 0.9 1.3-0.2 3.4-3.5zM135.9 201.6l-1 0.6-0.4 3.3 2 1.8 3-2.1-0.1-1.3zM145.1 208.7l-1.7-3.3-0.2-1.4 5.3-2.1 0.2 0.1 0.6 4zM154.9 208.1l-2.5-2.1-0.6-4.2 1.2-0.3 4.8 1.5 0.4 2.9zM161.7 205.7l-0.4-2.9 2.4-2.4 2.8 1.4 0.6 4-1.6 1.1zM177.8 205.3l3.4 1.1 2-1.9-0.8-2.2-0.9-0.3-2.9 1.1zM189.2 205.2l1.1-1 1.5-3.2-3.6-1.6-2.5 2.3 0.7 2.2zM54.2 211.4l-0.5 3-1.6 1.4-3.2-2.9 0.2-2.8 1.3-0.6zM81.7 207.3l1.5 2.6 0.2 2.2-2.8 0.6-2.6-1.5-0.4-2.1zM101.7 207.9l-0.3 3.8 3.7 1.4 1.9-1.6-0.3-1.2-3.7-2.6zM119.7 212.4l3.2-1.6 2.7 1.7 0.5 1.6-0.1 0.7-2.4 1.5-4.9-1.6-0.1-0.5zM49.5 221l-1.1 0.3-3.5-2.1-0.3-1.2 2.9-2.5 3 2.7zM119.4 224.9l-0.3 0-2.9-3.7 0.9-3.2 5.3 1.7-0.8 4zM125 223.3l0.7-3.7 2.5-1.6 2.9 4.3-2.6 1.6zM186.4 216.9l-2.4 4 0.4 1.3 3 1.1 4.1-5-0.3-0.9-1.9-1.1zM73.4 227.9l0.5-3.3-2.3-1.3-4.9 3.3 0.2 2.1 3.2 1.5zM102.1 223.2l0.6 3.9 2.8 2 1.5-1.2 0.7-4.4-2.5-1.3zM162.8 224.7l-3.7 0.3-2.4 1.2 0.1 0.6 2.1 3.9 4.9-2.7-0.2-2.4zM50.2 236.9l-0.4-2.8-3.2-2.8-0.4 0.2-2.8 5 6.8 0.4zM72.9 237.7l-1.5-4.5 3.3-2.2 1.8 3-0.9 2.9-2.2 1zM119.8 228.7l-0.3 0-1.8 2.6 0 1.9 3.4 2.9 1.8-0.9 0.8-2.5zM170.6 231.7l0.4 2.6 3 1.7 1.3-0.4 0.9-4.6-2.1-1zM185 234.1l0.1 0.7-3.2 2.7-3.2-1.5 0.8-4.6 0.6-0.3zM108 243.9l-4.2-1.8-0.5-1.8 2.7-2.7 3.7 1.4 0.8 3.9zM119.3 239.2l-0.8 3-2.8 0.8-1.2-0.4-0.8-3.9 2.6-2.2zM150.5 238.8l0.9 0.5-0.1 1.8-1.4 1.5-4.8-0.7-0.7-1.5 1.2-2.3zM159.4 243.2l-4.3-2.2 0.1-1.8 3-3 3.4 2.9 0.1 3.1z"/>
<path fill="#886f50" stroke="#886f50" stroke-width="2.0" stroke-linejoin="round" d="M43.3 125.8l-2.1-1.4-2.5 0.6-0.8 3.8 2.8 2.5 2.8-3.6zM88.9 129.1l0.8-4.2 1.1-0.1 2.6 2.3-0.1 1.1-2.1 2.3zM97.1 128.6l0.1-1.2 3.9-2.3 1.5 1.3 0.9 3.9-2.2 1.6zM148.3 131.1l-0.4-3.2-1.7-1.2-3.7 2-0.5 1 0.4 1.5 1.5 1zM167.8 126.6l-0.7-0.9-4.2 0.4-0.3 0.3-0.2 4.1 1.9 2.5 3.5-2.7 0.1-0.4zM52.9 139.4l-4.6-1.2-0.1-0.2 2.2-4.6 3.4-0.6 1.1 0.8-0.5 4.8zM93.2 137.2l4.2 0.4 1.5-0.9 0.9-2-4.5-3.6-2.3 2.5zM63.9 145l2.4 0.4 1.7-0.9 0.5-2.9-2.3-1.7-4.8 1.6zM71.6 144.6l1.9 1.6 5.1-0.7-0.1-4.9-2.9-1.5-3.5 2.3zM117.6 143.7l3.4 2 2.2-0.8-0.2-2.3-3.9-2.8-0.9 0.8zM172.3 147.2l2-1.7 0.1-3.1-5.9-0.6-0.5 3.7zM62.5 148.2l2.6 0.5-1.1 4.3-0.7 0.5-3.7-0.7 0.4-2.9zM69.7 147.5l1.9 1.6 0.8 3.4-2.5 1.9-3.2-1.4 1.1-4.4zM98.2 149.1l-3.5 1.8-0.2 1.6 1.1 1.7 4.7-1.3-1.4-3.6zM112.1 149.4l0.5 2.7 2.3 1.8 2-1 2.2-4-3.7-2.2zM130.4 152l-0.4-2.5 2.1-1.1 4.3 0-0.8 4.6-2.4 1.3zM74.2 155.5l3.9 2.4-0.3 1.3-4.6 2.1-1.2-0.5-0.2-3.5zM110.2 155.3l-3.4 1.8-1.5 2.7 0.4 0.9 3.4 1.5 3.8-1.8-0.4-3.3zM135.1 157.5l2.3-1.3 0.5 0.2 3.3 4.2-0.1 0.3-6.1-0.5-0.2-0.3zM71.1 164.3l1 3.8-2.4 1.4-3.3-2.1-0.3-2.4 3.8-1.2zM85.4 166.3l3.9-1.9 2.4 0.1 0.8 2.8-3.7 3.1-3.5-3.5zM125.4 164l-0.7 2.3-3.5 1.9-1.4-0.8-0.3-0.4-1.1-3.4 5.2-0.9zM136.9 168.1l-1.7-5.1 6.6 0.6 0 1.9-4.3 2.8zM149.8 169.1l2.2-1.7 0.6-3.3-2.9-3.7-0.7 0-3.3 2.4-0.1 0.4-0.1 1.9 4.1 3.9zM73.7 177.4l-2.6-1.5 0.3-3.5 2.5-1.5 2.5 0.8 0.1 3.2zM70.5 185.2l-4.2-1.7 3.1-4.4 0.4-0.1 2.3 1.3 0.6 2.5zM97.3 182.1l1.5-1.7 0.6-2.4-0.7-0.7-7 0.2-0.1 0.2 4.5 4.1zM122.6 185.5l-1.6-3.8 0.1-0.9 2.4-2.1 1.8 0.4 0.8 4.7zM165.3 182.9l0.3-4.5 2.3-1.3 1.3 1.7 1.1 3-2.6 3.7-0.2 0zM172.3 177.9l5.2-0.6 1 1.6-1.2 2.1-3.9 0zM45.3 190.8l-1.5-3.3-2.7-0.7-2.1 0.6-0.6 3.1 3.8 2.9 2.8-2zM90.1 190.2l3.8 1.5 3.2-2.5-0.6-3.7-1.4-0.3-5.5 3.1zM113.7 186.9l4.9-2.6 1.7 4.1-0.1 0.3-3.5 1.9-1.1 0zM170.3 187.7l3.9 3 0.2-0.1 3.1-3.8-0.8-2.7-3.8 0zM184.9 191.6l-4.5 1.6-3-1.2 3.1-3.8 3.7 0.9 0.8 2.1zM55.4 198.4l0.1-0.3-1.6-4.9-0.3-0.1-4 0.3-0.3 0.7 2.3 4.9 0.2 0.2zM74.6 197.2l0.2-3.3-3.5-3.2-2.4 5.1 2.7 3.1zM112.9 200.9l-1.5-1.6 0.7-2.9 2.1-2.1 1.2 0 2.9 5.4-5.1 1.3zM41.5 206l1.9-3.6-2.3-2.7-3.3 3-0.2 2.6 1.2 1zM108 201.8l1.2-0.2 1.5 1.5-2.5 4.6-3.5-2.4zM115.6 203.7l4.7-1.3 1.3 0.5 0 4.2-3.3 1.6zM73.8 209.3l0.5 2-3.4 3.8-2.9-2.3-0.7-3.3 3.4-2.6zM86.3 212.1l2.1 1.4 2.1-1 0.8-4.9-0.8-0.6-4.4 2.9zM94.2 207.5l3.4-0.6 1.2 0.9-0.3 3.7-1.7 1.6-3.4-0.9zM110 209.7l2.4-4.5 0.3 0.1 2.7 5.1-1.1 1.8-4-1.4zM163 214l1-4.3-3.8-1.2-3.4 2.2 0.3 2.1 2.7 1.3zM103.8 215.9l-0.2 3.4-2.9 0.9-1-0.5-1-3.5 1.6-1.5zM163.6 221.6l0.7-3.8-0.6-0.9-2.8 0.1-0.7 4.8zM63 227.6l0.2 1.9-1.8 2.6-0.4 0.2-3.5-2.6 0.1-2.9 3.3-0.7zM83.1 224.5l4.5-2.5 2.8 3.1-0.2 1.7-2.7 3-1.5-0.7zM138.2 224.4l1-1 6.9 1-4.2 4.7-2.5-1.2zM174.5 223.8l1.1-2.7 4.5 2 0.4 1.2-2.1 3-0.6 0.4-2.1-1zM42.9 231.4l-4.1-1.6-1.9 2.4 1.7 4.3 0.7 0.3 0.9-0.7zM100.9 237.7l-2.3-1.1 0.1-5.1 2.7-1.4 2.7 2-0.2 2.5zM109.1 230.7l-1.5 1.1-0.2 2.4 4 1.5 2.7-2.3 0-1.8zM128.9 232.9l3.7 2-0.1 2.2-2.2 1.3-4.1-2 0.8-2.5zM138.9 231.4l2.5 1.2 0.6 0.8 0.3 2.8-1.2 2.3-3.4-0.5-1.6-1.1 0.1-2.1zM150 236.7l-4.9-0.7-0.2-2.8 3.1-0.4zM156.6 233.5l0 0.2-3.2 3.2-0.8-0.5-2-3.9 3.7-3.1zM48.7 239.4l-1.3 3.5-3.3 1.1-2.5-2.7-0.5-1.6 1-0.7zM165.5 242.5l2.5 1.6 2.4-0.9 1.6-4-3.1-1.8-3.5 2.1z"/>
<path fill="#947a5a" stroke="#947a5a" stroke-width="2.0" stroke-linejoin="round" d="M176.2 127.3l-4.8-0.8 0.1 3.4 5.8 0.3zM47.3 132.5l-1.9 4.2-3.1-2.1-0.1-0.8 2.7-3.4zM121.4 134.4l-0.6 2.4 3.9 2.9 3.4-3.3-1-2.3-2.5-0.6zM161.7 137l-2.5 2-4.8-1.4 0.3-2.7 4.9-1.3 2 2.6zM174.3 138.9l-4.4-4.6-3.4 2.6 0.1 0.8 1.6 1.4 5.7 0.6 0.3-0.4zM60.4 145.4l-2.6-3.6-1.5-0.5-1.4 1-0.2 2.7 3.2 2.1zM87.9 141l0 4.3-4.9 1.3-1-1-0.1-4.9 2.3-0.4zM92.1 140.2l4.3 0.5 0.6 5.5-3.7 1.9-2.2-2.7 0-4.3zM133.7 139.8l-0.4 5.3 4.2 0 1.3-1.2-2.7-3.8zM149.2 141.3l0.9 4.3-4 0.7-2.7-2 2.6-2.7zM164.5 145l0.4-3.7-1.6-1.5-2.5 1.9-1 3.7 3.1 1.2zM47.8 152l0.6-2.1-3.7-4.3-2.9 2.4 1.2 3.1 3.9 1.3zM74.8 149.4l5.1-0.8 1 1-0.2 4.9-1 0.9-4-2.5zM91.2 151l-2.2-2.7-4.8 1.3-0.3 4.9 3-0.1 4.1-1.8zM102.4 149.1l1.4 3.5 1.9 1.3 3.4-1.7-0.5-2.6-1.8-1.5zM139.2 152.8l-0.5-0.2 0.8-4.9 1.3-1.3 0.1 0 3 2.2 0 3.4zM147.3 153l-0.1-3.4 4.4-0.7 1.2 0.8-0.1 3.2-2.5 2.9-0.7 0zM169.4 153.3l1.4-3.4-4.5-1.8-1.6 1.7 0.9 3.3 2.4 0.9zM181.4 151.2l-1.9-2.9 7.6-0.5-2.4 4.2zM128.7 154.7l2.9 2.4-0.4 2.8-3.1 1.3-1.9-1.4-0.1-3.4zM155.2 161.7l-2.8-3.6 2.5-2.7 4.2 1.7-0.8 3.3zM161.6 160.7l0.8-3.5 2.1-1.2 2.5 0.8 0.1 4.3-2.1 1.7zM179.8 159.6l-0.6-0.5-0.7-1.8 2.3-3.4 3.1 0.9 0.6 1.5-1.8 2.6zM188.3 164.8l2.3-2.7-0.8-3.3-2.6-1-1.7 2.5zM53.6 165.2l-4.8 0.1 0 2.9 4.9 1zM57.5 164.8l-0.7 0.7 0.1 3.7 0.3 1.4 3.6-0.5 1.6-2.4-0.3-2.2-0.4-0.4zM74.5 164l1 4.1 2.5 0.8 3.3-2.3 0-0.6-1.9-4.2zM114.3 163.1l0.6 0.6 1.1 3.5-6.2 1.7-0.1-0.3 0.8-3.7zM177.9 162.8l-0.6-0.4-3.9 1.8 1.9 4 1.6 0.1 1.3-1zM53.9 172.9l-0.5 0.8-4.2 1-1.4-1.1 1.1-3.1 4.6 0.9zM68 175.9l-3.4-1-1.2-2.3 1.8-2.6 3.5 2.3-0.3 3.5zM137 173.4l-1.2-2.1-0.6-0.3-2.6 1.1-1.7 3.2 3.4 1.7zM79.9 183.7l-3.5-1-0.6-2.6 2.8-2.4 4.7 2.4-0.8 3zM87.7 186.1l5.5-3-4.7-4.2-1.7 1.6-0.9 3.1zM147.5 182.3l-2.6-0.7-0.3-0.5 0.1-4.1 4.2-2.5 0.2 0 1.8 5.1zM158.2 182.2l-1.6-1.8 4.4-3 1.8 0.4-0.4 4.6zM184.7 185.7l1.6-3.1-0.2-0.9-1.9-1.8-2.7 0.4-1.1 1.9 0.8 2.6zM52.6 189.4l0-5.1-4-0.5-1.9 2.5 1.6 3.5zM60.9 185.3l-2.1-2.2-1.2-0.4-2 1.4 0.1 4.8 0.3 0.1 3.6-1.3zM108.8 187.2l-2.7 3 4.3 2.6 2-1.9-1.8-3.5-0.8-0.5zM130.4 187.7l-2.5-0.9-3.8 1.8-0.2 0.4 2.2 2.8 5.3-1.9zM146.6 186.5l-2.6-0.7-3.7 6 6.1 1.1 1.3-3.2zM86.7 195.1l-1.4 3.4 0.2 0.5 3.7 1.2 2.8-4.2-0.3-1.1-3.5-1.4zM104 197l0-4.1 0.5-0.1 4.7 2.9-0.6 2.8-1.3 0.2zM135.2 194.5l-1.3 3.9-1 0.6-4.8-0.6-0.3-3.9 5.3-1.8zM158.8 194.6l-3.9 4.2 4.5 1.3 2.2-2.3-1-2.9zM185.6 193.9l0.8 3.3-2.6 2.5-1.1-0.4-1.6-3.7zM42.6 214.9l-2.3-2.3-0.3-3.3 2.6-0.3 3.1 0.9-0.1 2.5zM61 209.6l2.2 0.7 0.7 3.1-2.9 2.6-3.5-1.7 0.4-2.7zM130.2 213.1l-0.5-1.8 3.1-3.2 2.1 2 0.8 2.1zM142.2 212.9l-1.5 0.8-1.8-1.3-0.7-2.1 2.9-2.1 1.6 3.1zM166.5 214.3l1-4.2 1.5-1 2.6 0.7 1.3 3.8-0.7 2.1-5.1-0.5zM59 219.4l-0.1 3.2-3.1 0.7-2.8-1.7 1-2.6 1.5-1.3zM75.8 221.5l-2.3-1.2-0.8-2.2 3.5-3.9 2.5 1.5-1.7 5.6zM89.7 216.4l-0.3 2.7 2.8 3.2 4.3-2.2-1.1-3.8-3.6-1zM148.7 218.9l-4.4-2.7-1.5 0.8-1.5 3.9 6.4 0.9 1.2-0.4zM166.3 222.5l0.7-4.2 5.3 0.5 0.3 0.7-1.2 2.7-4.3 1.2zM51.1 231.3l2.8-2.3 0.1-2.9-3-1.8-1.1 0.4-1.9 3.9zM76.6 227.9l0.5-3 1.1-0.3 1.7 0.4 2.6 4.2-4.2 1.6zM111 223.8l-0.7 4.1 4.7 0.8 1.6-2.3-2.7-3.5zM130.8 226.5l2.7-1.7 1.9 0.4 1.2 3.5-2.7 3.3-3.5-1.9zM167.2 225.7l4.2-1.1 1.3 3-3.8 1.8-1.5-1.3zM53.2 237l3.8 0.6 1.9-2.9-3.5-2.6-2.6 2.3zM79.1 237l4.6 2 3.1-2.6-0.9-3.3-1.4-0.6-4.6 1.6zM61.6 236.6l0.4-0.2 4.4 3.6-3.7 3.3-1.2 0.5-0.1-0.1-1.9-4z"/>
<path fill="#826c4e" stroke="#826c4e" stroke-width="2.0" stroke-linejoin="round" d="M50.3 124.4l-3.4 1.3 0.2 1.9 2.5 2.1 3.1-0.6-1.1-4.3zM75.9 131.3l-3.5-3.4 0.8-2.8 2.8-0.6 2.4 1.5 0.2 2zM84.4 128.9l-2.3-1.2-0.2-2 2.8-2 2.1 0.8-0.8 4.3zM113.8 125.5l-1.7-1.4-5.8 1.9 0.9 4.2 1.1 0.3 5.5-1.9zM126 124.5l3.3-0.5 1.1 1.5 0.4 2.4-2 2.6-2.5-0.6zM153.3 132.1l5-1.3 0.3-4.5-2.8-0.3-4 1.6 0.4 3.3zM184.7 124.4l-0.5 5.7-3.6 0.6-0.4-0.6-1.2-3.2 1.2-2.6zM59.2 138.5l5.2-1.8-1.5-4.2-1.1-0.5-3.7 1.2-0.4 4.8zM82.5 137l-2.1 0.5-2.7-1.5 0-1.7 2.7-3.3 2.3 1.2zM106.2 140.1l2.1-2.8-1.8-3.6-1-0.3-2.3 1.7-0.9 1.9zM111.8 136.8l-1.9-3.6 5.4-1.9 2.2 2.6-0.6 2.6-1.1 1zM143.6 139.5l-2.6 2.8 0 0-2.7-3.7 2.7-3.6 1.5 0.9zM130.9 139.8l-1-0.6-3.5 3.5 0.2 2.5 1.8 1.3 2.1-1.2zM152.9 140.5l4.5 1.3-1 3.5-2.1 0.9-1.1-0.8-0.8-4.2zM122.5 148.9l2.5-0.9 1.8 1.4 0.3 2.6-2.6 1.7-4.2-0.7zM45.2 155.7l-1.3 5.1-3 0.5-1.8-1.9 0.5-2.7 2-2.2zM82.5 157.5l-0.8 0.8-0.3 1.3 1.8 3.8 3.9-1.9-1.9-4zM92.6 155l-4.1 1.8 2 4.4 2.6 0.1 1.3-2.6-0.6-1.9zM101.5 155.1l1.8 1.2-1.4 2.6-4.3-0.8-0.6-1.7zM116.5 156.9l1.9-0.9 3.9 0.6 0 3.2-4.9 0.9-0.5-0.6zM104.4 163.6l-1.5 3.4 4 1.4 0.8-3.4zM134 167.9l-1.5-4.9-0.3-0.3-3.1 1.3-0.7 2.3 3 2.7zM80.4 175l-0.1-3.1 3.2-2.2 3.6 3.7 0.1 2.1-0.2 0.3-1.7 1.6zM91 174.8l0-2 3.8-3.2 2.1 0.8 1 4.1zM116 170.3l-3.6 4.5-1.3 0.1-0.9-0.6-0.1-2.9 5.6-1.5zM164.3 175l2.1-1.2 0.3-0.9-2-3.3-4.3 1.8 2.2 3.2zM45.2 176.2l1.4 1.1 0 3.7-1.8 2.3-2.6-0.7-0.1-4.2 2.9-2.2zM107.4 183.4l-4.5-2.7 0.6-2.3 4-0.9 1 0.6-0.1 5zM111.3 183.6l0.1-5.3 1.5-0.1 4.4 2.3-0.1 0.9-5 2.7zM133.8 181.5l-2 3.3-2.6-0.9-0.9-5.3 1.2-0.4 3.6 1.9zM68.7 188.6l-2.2 4.9-1.2-0.3-2.5-4.1 1.3-2.4 0.3 0 4.3 1.8zM85 192.1l-4.5-1.6 1.1-3.8 2.7-0.7 1.8 2.5 0.5 1.9zM100.1 188.7l-0.6-3.5 1.5-1.8 4.7 2.8-2.9 3.2-0.4 0.1zM155.1 188.1l-4.2-0.3-1-3 3.4-2.6 0.5 0.2 1.6 1.7zM158.3 189.7l0.2-4.2 4.1 0.2 2.2 2.5-3.5 3.2-1.8-0.3zM40.2 196.1l-0.3 0.8-3.2 3-1.5-2-1-2.7 2.2-1.9zM46.4 194.5l-2.9 2.1-0.3 0.8 2.3 2.6 3.3-0.2zM83.4 194.5l-1.5 3.5-4.4-0.9 0.1-3.2 1.4-1.1zM101 196.5l0-4.1-2.2-0.8-3 2.4 0.2 1.1 2.4 2.5zM122.1 192l-3.4 1.8 2.8 4.9 1.3 0.5 1.5-1-0.3-3.6zM163.9 193.5l1.1 3.2 2.8 1.5 3.4-2.6 0.7-2.4-4.2-3.1-0.1 0zM58.9 206.8l-2.3-4.7-3.9 0.9-0.9 4 3.7 1.8zM81 200.8l-4.4-1-3 1.7-0.4 2.1 3.2 2.6 4-1.7 0.9-3.2zM93.3 204.4l3.3-0.5 0.1-3.2-2.4-2.4-2.8 4.2 1 1.4zM127.8 208.8l3-3.1 0.4-3.4-4.6-0.6-1.6 1-0.1 4.3zM170.1 205.7l-0.6-4 3.3-2.6 2.5 3.7-0.9 2.5-1.7 1.1zM150.5 215.9l-4.3-2.6 0.5-1.6 4-2.5 2.2 1.9 0.2 1.9zM176 212.6l4.3-0.9-0.4-2.7-3.6-1.2-1.6 1.1zM185.6 213.6l-2.1-1.5-0.5-3 2.2-2.2 3 1.4 0.4 4.7zM41 218l-2.5-2.5-2.8 2.5 0.1 2.8 2.2 1.3 3.3-2.9zM66.1 216.7l2.8 2.2 0.8 2-4.5 3.1-2.2-1.4 0.1-3.3zM84.3 215l-2.7 0.6-1.7 5.4 1.8 0.4 4.2-2.4 0.3-2.6zM109.5 214.3l4 1.4 0.1 0.5-0.8 3-3 0.9-2.2-1.1 0.2-3.3zM134 221.2l-3.1-4.7 0.1-0.7 5.6-0.8 2 1.3-1.7 4.3-0.9 0.9zM157.1 222.4l0.7-5.1-2.6-1.3-2.7 3.1 0.2 2.6 1.9 1.9zM175.9 217.3l0.3 0.6 4.4 1.9 2.2-3.8-2-1.4-4.2 0.8zM45 227.9l1.9-4-3.8-2.3-3.3 2.9 0.3 2 4.4 1.6zM94 224.9l4-2 1 0.5 0.6 3.6-2.5 1.4-3.3-2zM121.9 227.3l3.4 3.7 1.8-0.9 0.4-3.3-3.6-0.6zM152.3 226.6l-1.9-1.8-1.3 0.4-4 4.5 0.7 0.8 3-0.3 3.5-3zM187.5 228.3l-1.2-1.7-3-1.1-2.1 3.2 5.2 3.2zM70.2 237.4l-1.9 0.3-4-3.2 1.7-2.5 2.9 1.3zM92 230l3.2 1.8-0.1 4.5-2.7 0.1-2-0.8-0.8-2.9zM165.3 230.5l1.5 1.2 0.5 2.8-3.7 2.1-3.4-3 0-0.3z"/>
</g>
<line x1="168" y1="232" x2="175.5" y2="232" stroke="#111" stroke-width="1.3"/>
</g>
<clipPath id="c4"><rect x="188" y="130" width="148" height="107"/></clipPath>
<filter id="Fc4" filterUnits="userSpaceOnUse" x="182" y="124" width="160" height="119" color-interpolation-filters="sRGB"><feTurbulence type="fractalNoise" baseFrequency="0.15" numOctaves="2" seed="4" result="t"/><feDisplacementMap in="SourceGraphic" in2="t" scale="2" xChannelSelector="R" yChannelSelector="G" result="d"/><feGaussianBlur in="d" stdDeviation="0.6" result="b"/><feTurbulence type="fractalNoise" baseFrequency="0.8" numOctaves="1" seed="15" result="n"/><feColorMatrix in="n" type="matrix" values="1 0 0 0 0 1 0 0 0 0 1 0 0 0 0 0 0 0 0 1" result="g"/><feComposite in="b" in2="g" operator="arithmetic" k1="0" k2="1" k3="0.3" k4="-0.15"/></filter>
<g clip-path="url(#c4)"><g filter="url(#Fc4)"><rect x="182" y="124" width="160" height="119" fill="#e2e0d6"/>
<path fill="#bc9e72" stroke="#bc9e72" stroke-width="3" stroke-linejoin="round" d="M201.8 129.9l-2.9 1.6-4.2-1.9 0-4.6 1.1-0.6 4.5 1.9zM214.3 123.7l6.6 0.5 0.8 5.4-0.6 0.6-7.2-2.3zM243.2 123.3l-5 1.9-0.7 3 5.4 2.7 1.6-0.7 0.5-5.8zM255.4 130.3l-4.7 0.9-2.4-1 0.4-5.4 2.8-0.7 3.8 1.6zM324.5 131.5l3.5-1.6 1-4.9-1.1-0.5-7.6 1.4-0.4 3.8zM212.1 131l7.8 2.5-2.1 4.6-2.8 1.2-2.8-0.6-2.1-5.6zM224.1 134l-2.1 4.5 4.7 4.4 4.5-3.8-2.3-5.1-4.1-0.6zM245.8 133.9l2.6 1-0.2 5.6-4.6 0.4-1.1-1.3 1.7-5zM325.9 137.4l4.7 3.9 2.8-4.7-0.1-0.4-3.4-3.1-3.6 1.6zM185.2 141.6l3.7-0.5 1.5 1.6-0.4 4.5-4.6-0.9zM206.5 145.4l-0.6 2.9 5.5 2.9 2.5-1.3-0.4-6.6-2.8-0.6zM224.8 149.9l-0.2-3.3-4.7-4.4-2.7 1.3 0.4 6.5 1.6 0.7zM254 146.7l-4.3-2.9-4.7 0.4-0.2 4 4.7 2.3 4.6-2.9zM278.2 142.2l-6.8-0.5-0.1 0.5 1.8 5.1 4.8-1.8zM288.4 146.6l-3.2 1.3-3.5-2.1 0.4-3.6 0.3-0.9 6.5-0.1zM304.6 141l-3.9 2.8 0.6 3.8 2.4 0.2 2.3-4.1zM309 144.8l4.3-0.1 2.6 2.2-3 2.9-4.5 0.9-1.8-1.8zM321.8 146.2l4.4 3.1 2.5-1.1 0.4-3.6-4.4-3.5zM203.6 152.3l0.7-0.6 5.2 2.7-0.5 2.8-4.2 3.5-1.9-3.5zM242.8 151.3l4.4 2.2-1.1 4.2-2.1 1.4-3.1-2.4-0.9-3.2zM269.9 154.6l-0.1-3.4-8.7 0 0.7 3.5 4.7 1.7zM224.1 163l-1.4 5-1.7 0.9-3.3-1.3 0.5-4.3 1.5-1.1zM272.2 166.2l-4.7-2.5 1.2-3.8 3.2-1.7 2.3 2.9-1.5 4.8zM285.8 162.9l-2.2-1.9-4.9 0.8-1.5 4.7 4.8 2 3.7-5zM215.1 177.6l4.5-0.3-0.2-5.2-3.4-1.3-2.1 0.5-1.3 4.3zM264.6 178.1l-1.9-1-4.5 2.7 2.2 3.6 1.1 0.7 2.5-2.1zM318.3 185.8l0-3.9 4.9-2 2.2 2.1-4 5.4zM336.9 176.4l-5.8 4.3 3.9 4.3 4.7-0.8-0.7-6.5-1.9-1.3zM203.1 185l-6 3.2 2.5 4.2 4.5 1.4 1.3-0.7 0.6-4zM230.1 186.6l-3.7-1.8-1.4 0.1-1.9 3.4 0.2 1 3.4 2.5 1.3-0.5zM243.1 196.8l4.2-4.1-2.5-4.2-4.2-0.1-1.5 7.4 0.1 0.3zM304.9 189.7l-0.2 3.7 3 0.9 0.3-0.1 4.1-5.1-5.5-2.7zM206.3 197.3l-1.6 3.9 3.9 5.1 4.9-5.5-0.5-1.1-5.4-3.1zM241.7 206.8l-4.3-4.3 1.5-2.9 3.7 0.7 2.7 4.2zM256.1 202.9l1.2-6 3.2-1.4 4 2.3 0.9 2.6-4.2 5.9zM219.2 211.7l-0.1 0.2-4.9 1.2-3.3-2.6 0.1-1 4.8-5.3 3.2 2zM241 221.3l-3-3.9 0-0.2 3.7-4.1 4.6 4.1-0.9 3.1zM315.8 216.7l0.2 2.5-3.8 2.8-1.9-0.7-1.4-6.9 6.1 0.9zM333.1 221.8l1.8-2.2-0.6-3.7-3.9 0.1-3.3 5.1 0.2 0.4zM264.9 229.4l2.9 4.2 0.7 0.2 2-1.4-1.1-5.5-2.8-0.9-1.2 1.3zM300.6 225.3l-0.8 5.8-1.1 0.5-3.4-2.8 0.8-4.9 0.7-0.4zM323.1 227.1l-2.3 2-5.6-2.4-0.3-2 3.7-2.7 4 1.5 0.2 0.3zM208.5 235.7l1.2 3.7 3.8 0.1-1.4-5.2-1.9-0.5zM228.6 241.8l-4.2-2.6-0.4-4.4 4-2.2 1.9 0.8 1.4 4.7zM242.8 236.1l-2.2 2-5.6-0.7-1.4-4.7 5.5-3.2zM258.5 236.1l2.8 2 4.3-2.4-3.2-4.6-3.3 1.8zM276 240.7l1.8-5.9-4.6 0.9-2 1.4 1.9 4.8zM289.1 235.3l4.2-2.9 3.2 2.7-1.3 2.2-3.2 1.6-1.4-0.4zM302 234.8l5.7 2.3 0.4 0.9-4.6 3.1-4.2-3.3 1.4-2.5z"/>
<path fill="#c0a276" stroke="#c0a276" stroke-width="3" stroke-linejoin="round" d="M293.8 132.9l-3.3-3.1 0.6-4.5 1.4-0.6 4.9 1.4-1.3 5.7zM332.2 129.9l0.9-4.8 1.5-1.1 5.4 2.2 0.4 3.2-4.9 3.5zM234.8 138.8l-2.4-5.3 3.1-2.2 5.6 2.7-1.8 5.2-3.7-0.1zM267.9 135.8l-6.6-0.5-0.7 6.7 7.1-1.8 0.1-0.5zM279.1 138.2l-0.3 0.8-7.2-0.5 0.1-4 1.2-1.1 2.9-1.2 0 0 1.8 1.1zM291.4 136l0.1-0.5-3-3-6.1 1.1 1.4 4.6 6-0.1zM303 138l-0.3-2.2-4.6-0.9-2.2 1.1-0.2 0.5 3.4 4.3zM194.4 143.8l4.3-0.9 2.9 2.5-0.5 2.7-0.7 0.6-6.4-0.4 0 0zM297.6 143.7l-3.3-4.2-1.6 2-0.5 5.1 4 1.9 2-1zM335.3 139.8l4.2 3.2 0.2 2.9-7 2-0.4-0.1 0.4-3.6zM181.6 152.1l3-1.8 4.7 0.9 0 0-1 5.1-0.5 0.7-3.5 0.1-1.7-2zM193.2 151.2l6.7 0.4-0.6 5-7.1-0.1zM217.9 158.8l-1.5 1.2-3.7-2.4 0.6-3 2.5-1.3 1.6 0.7zM225.5 159.5l-4.3-0.8-0.5-4.6 5.5-0.8 0.2 0.2 0.2 5.1zM255.8 150.5l-4.4 2.7-1.1 4.3 5.8 2.1 1.5-4.6-0.7-3.4zM282.1 151.1l-0.5 5.3-4.8 0.7-2.2-2.9-0.2-3.2 0.1-0.1 4.6-1.6zM327.9 153l-0.9 4.8 4.5 2.6 5.1-2.1-5.7-6.4-0.4 0zM334.7 151.6l6.9-1.9 1.5 1.5-1.6 6-0.7 0.4-0.7-0.1zM227.5 163.1l-1.4 4.8 4.3 1.4 2.7-2-2.2-4.1-2.4-1zM239.3 160.3l-4.3 2.5 2 4 3.7 0.4 1-1.2 0.5-3.4zM255.9 165.4l-0.5 1.7-1.3 0.9-7.7-1.7 0.6-3.6 2.2-1.4 5.9 2.1zM294.8 162l-4.3 1.5-0.1 0.6 3.8 6.8 0.2 0.1 3.3-4.1-1.9-4.2zM310.8 162.6l-1 2.5 4.2 4.3 3.3-2.5 0.1-2.9-1.7-0.9zM339 162.2l0.8 0.1 0.1 2.9-2.5 6.4-0.2 0-3.2-2.9-0.2-4.3zM188.3 171.8l-0.2 2.4 2.4 1 6-2.3 0.5-3-5.5-2.6zM224.9 179.8l-1.6-2.1-0.2-4.6 1.6-0.9 4.1 1.3 0.2 2-2.7 4.2zM233.3 172.1l2.6-2 3.7 0.5 0.2 1.1-2.1 4.7-4.2-2.3zM257.2 170.4l3.7 4.1-4.6 2.8-2.6-1.3 2.2-4.8zM269.4 169.4l-1.6 3.3-2.2 1.2-1.7-0.9-3.4-3.7 0.5-1.6 3.9-0.7zM274.2 170.3l-1.8 3.6 4.5 4.4 4.2-3.7-1.1-2.4-5.3-2.2zM307.6 167.5l4.4 4.4-1.5 2.3-2.4 0.6-2.5-5.6zM317.1 178.5l4.9-2-0.5-3.6-2.6-2.4-3.3 2.5-1.5 2.3zM186.2 178.8l-0.9 0.4-1.4 7.1 1.9 1.3 1.4-0.2 3.2-2-1.9-5.7zM236.9 183.9l-0.4-3.8-4.2-2.3-2.8 4.3 3.7 1.9zM241.1 184.2l3.8 0.1 0.7-0.8 1.6-3.9-4.8-4.5-2.2 5 0.5 3.8zM254.7 179.9l2.1 3.4-7.3-0.1 1.5-3.8 1.4-0.7zM297.6 182.5l5.2 3.9 1.6-3.3-0.3-3.1-5.4-0.4zM308 179.8l1.2-1 2.3-0.6 2.8 3 0 3.7-0.9 0.3-5.1-2.5zM283 187.4l-5.4-2-1.9 2.5 0.1 1.8 3.1 2.1 2 0zM287.8 188l2.7 0.5 1.9 5-3.5 2.9-0.7 0.1-3.6-3.6 2.1-4.3zM294.5 188l2-2.2 4.9 3.7-0.2 3.4-0.8 0.4-4.1-0.6zM315.6 189.3l-4.2 5.2 5.8 1.8 3.1-4.8-0.6-1-3.1-1.6zM324.1 190l4.4 2.2 3-4.4-3.8-4.2-0.1 0-4 5.4zM333.1 196.3l-0.7-2.3 2.8-4.3 4.4-0.8 1.6 1.3-2 5.2zM224 200.8l0.6-4.8-3.4-2.5-3.7 5.6 0.4 1 3.1 1.9zM281.8 195.6l-1.9 0-2.3 5.8 3.6 2.4 4.2-4.6zM295.2 196.4l4.3 0.6-1.2 6.1-4.3-0.3-2.3-3.4zM332.8 199.7l6.2-1 1.6 2.8-5 2.8-3.1-3.5zM182 213l3.9-1.6 2.5-5.9-3.3-1-5.3 3.5 0.1 2.8zM200.1 212.3l-2-5.4 4.4-2.4 3.7 4.9-0.1 0.9-3.9 2.1zM229.6 205.4l-3.4-1-3 1.1 0.2 5.1 6.2-0.2zM243.9 209.7l-0.2 0.8 4.4 3.9 0.7-0.8 0-5.9-1.4-0.2zM270.3 205.2l-2.9-1.2-3.8 5.5 0.3 1.4 2.3 1.9 2.8-0.6zM275.7 204.8l3.6 2.5 0.2 1.4-3.7 3.6-3.2-0.3 1.4-7.3zM288.4 201.6l2.4 3.5-0.6 3.9-4.3 0.6-2.4-1.8-0.1-1.3 4.3-4.8zM318.7 212.9l4.8-3.4-0.3-3.1-3.5-0.6-1.9 1.9 0.1 3.9zM208.3 222.3l2.5-2.2 0.8-4-3.2-2.5-3.7 2zM299.4 215.6l-0.6 3.6 3.5 1.7 3.8-0.5-1.4-6.5-0.9-0.9-1.2-0.1zM319.7 216l0.2 2.5 4.1 1.6 3.4-5.2-2.5-2.7zM209.6 226.7l1.2 3.7 1.9 0.5 3-0.5 0.9-5.1-4.3-1.2-2.6 2.3zM222.2 231.2l3.8-2-1.3-4.5-1.5-0.9-2.6 1.4-0.9 5.1zM246 233.6l3.8-5.3-0.5-2.5-2.4-1.5-4.3 0.9-0.6 2.1 3.5 6.3zM254 227.8l3.6 2.2 3.2-1.8 0.5-2.1-5.1-1.8-2.7 1zM273.2 226.3l1.1 5.8 5-1 1.2-0.7-0.2-3.8-1.7-1.1zM284.1 229.9l2.8 2.1 4.6-3.1 0.8-5.1-5.2 0-3.2 2.3zM332.7 224.8l-5.8-0.3 0.3 3.3 3.3 2.8 2.8-2.8zM336.4 224.3l1.8-2.1 3.5 1.7 0.8 4.3-0.7 0.5-4.7-1.4zM217.4 241.2l3.2-1.9-0.3-4-2.5-1-2.9 0.4 1.4 5.1zM322.5 237.2l0.8-4.6 2.2-2 3.2 2.7 0.3 2.6zM335 237.8l4.1-2.3 1.3-3.3-4.8-1.5-2.7 2.7 0.3 2.6z"/>
<path fill="#b69a6e" stroke="#b69a6e" stroke-width="3" stroke-linejoin="round" d="M187.4 123l-3.3 2-0.5 4.4 6.2 1.3 1.4-1.3-0.1-4.8zM268.6 131.4l-1.3 1.1-6.9-0.6-0.7-0.8-0.1-5 3-2.6zM299.5 131.9l1.3-5.7 2-1.4 2.1 0.5 2 5.5-2.6 1.9zM183.4 138.5l3.9-0.6 0.7-4-5.7-1.2-2 2.2 0.2 2zM191.2 138.2l0.8-4.2 1.3-1.2 4.3 1.9-0.2 4.2-4.6 1zM204.3 133.1l-3 1.7-0.2 4.4 3.2 2.8 4.4-2.8-2.2-5.7zM256.9 142.1l0.7-6.9-0.7-0.8-5.1 1-0.1 5.5 4.2 2.9zM306.8 138.1l-0.2-2.2 2.4-1.9 3.2 0.3 0.4 6.4-4.3 0.2zM316.3 141.2l2.5 2.2 0.1 0 2.9-5.2 0.3-2.5-4.4-1.7-1.9 0.9zM228.8 149.7l-0.2-3.1 4.2-3.6 0.7 0.2 0.4 6.6-4.9 0.1zM237 149.6l1.3 0.5 2.9-2.2 0.1-3.8-1.1-1.3-3.6-0.1zM260.1 145.3l6.7-1.7 1.7 4.9-0.1 0.1-8.1 0.1-1-1.1-0.1-0.8zM230 158.4l2.5 1.1 4.5-2.6-0.8-3.2-1.3-0.4-5 0.1zM294 152.6l-0.9 5.1-4 1.4-2.2-1.9 0.5-5.2 2.8-1.2zM300.5 151.3l-2.1 1-1 5.5 1 0.6 6.4-1.2-0.2-3.9-1.8-1.8zM312.8 153.3l1.7 6.7-5.1-0.5-1-1.4-0.2-3.9zM319.3 149.7l4.3 3-0.8 4.4-3.1 2.4-1.7-0.9-1.5-6.2 2.8-2.7zM184.4 161l3.3-0.1 1.4 3.4-2.9 4.1-3.5-4.6zM193.4 163.9l5.4 2.5 2.7-2.6 0-0.4-1.9-3.5-7-0.2-0.6 0.7zM214.6 162.9l-0.5 4.5-2 0.5-5.5-3.3 0-0.4 4.4-3.6zM263.5 163.2l-4 0.7-0.8-1.9 1.5-4.3 4.4 1.7zM299.3 161.7l6.6-1.3 1.1 1.4-1.1 2.7-2.2 1.8-2.4-0.2zM325 161.7l4.3 2.6 0.2 4-5.3 1.3-2.6-2.4 0.1-2.9zM201.8 170.1l2.7-2.6 5.3 3.2-1.3 4.1-4.4 2.2-2.8-4zM252.4 170.6l-7.6-1.6-1 1.3 0.2 1.2 4.9 4.6 1.4-0.8zM287.7 166.2l-4.2 5.6 1.2 2.4 0.8 0.5 6.1-1.4zM297.1 174l1.5 2.4 5.5 0.4 1.3-1.1-2.6-5.7-2.3-0.2zM333.9 175l-5.6 4.1-0.1 0-2.1-2-0.5-3.6 5.3-1.2zM192.4 178.6l2 6.1 0.8 0.1 5.9-3.1 0.1-1.3-2.9-4.1zM212.2 180.6l-1 4.2-3 1.1-2.6-3.8 0.1-1.2 4.2-2.1zM222.1 182.9l-1.6-2.2-4.3 0.3-1 4.3 5 1.1zM270.6 176.6l4.5 4.4-0.1 1.4-1.9 2.5-5.6-2.8 0.7-4.1zM285.5 183.8l-1.5-5.7-0.8-0.3-3.9 3.3-0.1 1.4 5.2 1.9zM289.3 183.1l-1.5-5.7 5.7-1.2 0.1 0 1.5 2.3-1.1 2.8-2.1 2.3zM196.3 192.7l-2.5-4.2-0.8-0.2-3.4 2.1 3.6 5.3zM218.4 190.6l-3.6 5.5-4.9-2.8 0.5-3.7 3-1.1 4.9 1.1zM238.2 187.3l-1.5 7-4.9-2.3 2.2-4.9 3.8-0.1zM254.9 192.7l3.1-1.3 0.5-4.2-1.1-0.7-7.5-0.1-0.7 0.8 2.4 3.9zM265.9 185.3l-2.5 2.1-0.5 4.2 3.7 2.2 4.7-4-0.1-1.8zM189.9 201.4l0.5-0.1 0.8-3.2-3.3-4.9-1.5 0.2-0.7 3.9 1.2 3.1zM194.1 202.1l0.8-3.3 3-2.8 4.2 1.3-1.5 3.6-4.3 2.3zM234.1 201.1l-2.1 1.1-3.9-1.1 0.7-5.2 1.5-0.5 5.2 2.4 0.1 0.3zM248.7 203.5l1.4 0.1 2-0.8 1.1-5.6-3.2-1.6-3.9 3.8zM274.4 200.9l2.4-5.9-3.2-2.2-5 4.2 1 2.6 3.1 1.2zM301.5 204.2l1.7 3.2 1.3 0.1 2.8-3.3-0.8-5.7-2.9-0.9-0.9 0.4zM310.1 197.9l-0.3 0.1 0.8 5.7 4.4 0.9 2-2-1.2-2.9zM323.2 194l4.6 2.4 0.9 2.6-0.3 1-3.2 2.6-3.9-0.7-1.3-3zM189.7 211.4l5.3 2.4 1.5-1.6-1.8-5.2-2.3-1.1-0.5 0zM240 209.2l-0.2 0.8-3.7 4.1-2.6-2.8 0-5.4 2.1-1.1zM252.5 213.5l4.8-0.5 2.2-1.6-0.3-1.3-4.7-3.2-2 0.8zM298.8 206.7l1.7 3.2-3.5 2.8-3.2-2.5 0.7-3.8zM314 212l-6.1-0.9-1-1 2.8-3.1 4.3 0.8zM330.7 204l-2.8 2.3 0.3 3.1 2.3 2.5 3.7-0.1 0.6-0.7-1-3.8zM184 216.8l0.6 3.6 3.5 2.7 3.6-2.2 1.1-3.3-5.2-2.3zM204.9 223.8l-4.4 0-3.5-2.3 1.1-3.2 1.5-1.5 2 0.1 3.4 6.6zM214.4 220.7l4.3 1.2 2.5-1.4-1.4-5-4.6 1.2zM232.8 216.8l-2.4-2.7-6.6 0.3-0.1 0.2 1.5 5 1.6 0.9 6.1-3.5zM251.5 222.5l2.7-1 1.7-5-5.1 0.5-0.8 0.8-0.9 3.1zM257.9 221.3l1.7-4.9 2.4-1.7 2.4 2 0.1 4.9-1.4 1.4zM274 216.4l2.2 5.7-5.3 0.7-2.9-1-0.1-5 2.9-0.7zM277.8 215.7l2.2 5.9 1.7 1.1 3.3-2.4-1.1-6.5-2.4-1.9zM291.9 213.3l-3.9 0.6 0.9 5.8 4.9 0.1 0.7-0.4 0.5-3.6zM197.7 226.6l-1.1 4.2-3.1-0.4-3.3-3.9 0-0.1 3.8-2.3zM206.5 227.9l1.3 4-1.8 1.9-3.5 1.4-2.2-2.9 1.2-4.4zM237.9 224.1l-2.9-3.8-6.1 3.5 1.3 4.7 1.8 0.7 5.3-3zM304.1 225.5l-0.8 6.1 5.9 2.4 1.4-6.1-0.3-2.2-2-0.7zM185.2 234.6l2.9-5.4 3.4 4-0.8 4.9-3.2 1.3-2.1-1.9zM199.7 236.8l-1.3 2.3-4.3-0.8 0.7-4.4 2.9 0.4zM248.5 236l3.2 1.7 3.7-1.6 0.6-3.3-3.7-2.2zM279.4 240.8l5.1 1.4 2.5-2.9-1.6-3.6-2.9-2.2-1.2 0.8zM318.3 238.3l-3.6 0.8-2-1.5-0.3-0.9 1.2-5.4 5.4 2.3-0.7 4.6z"/>
<path stroke="#9a6234" stroke-width="5" stroke-linecap="round" d="M187.9 127h0M241.9 127h0M183.6 135.8h0M275.4 135.2h0M326.1 145.9h0M224.4 156.3h0M277.6 152.9h0M319.9 154.2h0M314.2 165.2h0M301.4 173.8h0M321.3 183.4h0M235.7 189.6h0M266.8 209.1h0M313 218.1h0M323.2 216.3h0M307.6 228.3h0M238.2 234.7h0"/>
<path stroke="#9a6234" stroke-width="6" stroke-linecap="round" d="M197.7 127.8h0M309.3 137.3h0M220.6 147.1h0M196.2 154h0M254.7 154.6h0M210.8 164.6h0M271.2 162.5h0M192 171.9h0M205 172.2h0M236.6 172.5h0M318.2 174.5h0M328.9 176h0M233.7 181.6h0M214.2 191.3h0M307.3 191.2h0M232.1 198.8h0M295.7 199.8h0M215.6 209.6h0M276.2 208.3h0M310.5 209.6h0M251.9 219.4h0M292 217h0M331.2 219.3h0M233.6 225.4h0M336 234.3h0"/>
<path stroke="#a0683a" stroke-width="6" stroke-linecap="round" d="M218.4 127.1h0M251.6 127.7h0M329.9 136.5h0M188 143.8h0M197.7 146.5h0M284.8 144.2h0M215.6 156.4h0M290.1 154.9h0M340.3 154.1h0M197 162.5h0M229.4 165.5h0M261.3 161.2h0M225.7 175.9h0M264.7 170.4h0M278.6 189h0M209 200.3h0M325 199h0M320.1 209h0M208.7 217.5h0M281.7 217.7h0M302.5 216.6h0M193.7 227.5h0M212.5 227.7h0M267.6 229.9h0M217.9 237.4h0M261.4 234.8h0"/>
<path stroke="#945e32" stroke-width="6" stroke-linecap="round" d="M263 129.4h0M194.1 136.4h0M226.3 137h0M245.4 137.4h0M239.1 146.2h0M186 153.8h0M186 163.7h0M294 165.9h0M208.8 182.2h0M261.9 180.7h0M282.6 181.3h0M292.2 179.5h0M311.3 181.6h0M242.4 193h0M254.2 188.9h0M327.2 187.7h0M241.2 202.7h0M250 200.4h0M281.2 199.1h0M255.9 210.4h0M227.9 216.7h0M261.9 219h0M271.3 219.4h0M188 235.3h0M197 236.5h0M210.8 236.5h0M227.7 236.7h0"/>
<path stroke="#945e32" stroke-width="5" stroke-linecap="round" d="M293.6 128.4h0M303.2 128.6h0M236.5 136h0M255.1 138.6h0M265.1 138.6h0M249.5 146.8h0M233.4 155.9h0M243.5 155.3h0M310.6 157h0M220.5 165.5h0M239.3 164.3h0M251.9 164.9h0M271.6 180.8h0M301.5 182.3h0M202.5 190.3h0M226.1 188.2h0M288.4 192.1h0M313.1 201.1h0M202.5 209.3h0M226.4 207.2h0M236.4 209.2h0M246.8 210.5h0M222.8 227.4h0M257.2 227h0M287.6 227.4h0M339.6 225.8h0M252.8 234.6h0"/>
<path stroke="#9a6234" stroke-width="7" stroke-linecap="round" d="M324.9 127.7h0M204.4 137h0M301 154.6h0M330.7 155.6h0M303.8 163.5h0M216.1 174.1h0M252.9 180.9h0M336.8 192.4h0M188.3 197.9h0M217.9 219.1h0M241.7 217.8h0M283.4 237.6h0M315.6 236.4h0"/>
<path stroke="#a0683a" stroke-width="5" stroke-linecap="round" d="M336 127.9h0M318.8 138.7h0M303.2 144.8h0M205.7 155.6h0M265.8 153.6h0M276.5 173.2h0M186.7 183.5h0M197.1 181.1h0M336.5 180.1h0M193.1 191.1h0M197.6 199.7h0M260.8 200h0M272.6 197.7h0M183.5 208.9h0M193.4 209.4h0M188.1 219h0M200.9 220.7h0M246 228.3h0M319.7 225.3h0M303.5 237.4h0M325.8 233.9h0"/>
<path stroke="#945e32" stroke-width="7" stroke-linecap="round" d="M214.5 135.6h0M231.1 147h0M274.4 143.8h0M325.2 165.9h0M247.4 172.1h0M256.8 173.9h0M308.8 171.5h0M243.2 181.5h0M298.4 190.4h0M316.8 191.9h0M296.9 209.2h0M297.9 227.4h0M274.3 238h0"/>
<path stroke="#a0683a" stroke-width="7" stroke-linecap="round" d="M287.9 135.6h0M299.1 137h0M210.3 146.8h0M263.2 147h0M295.2 144.5h0M311 147.6h0M335.4 144.7h0M282.2 164h0M337.3 166.6h0M286.6 172h0M218.8 183.2h0M266.9 189.3h0M221.1 198.6h0M304.2 202.5h0M336.1 201h0M287.1 205.9h0M331.4 208.8h0M204.1 231.5h0M277.7 228.7h0M330.1 227.1h0M292.8 236.3h0"/>
</g>
<line x1="318" y1="231" x2="326" y2="231" stroke="#111" stroke-width="1.3"/>
</g>
<clipPath id="c5"><rect x="385" y="28" width="148" height="98"/></clipPath>
<filter id="Fc5" filterUnits="userSpaceOnUse" x="379" y="22" width="160" height="110" color-interpolation-filters="sRGB"><feTurbulence type="fractalNoise" baseFrequency="0.15" numOctaves="2" seed="5" result="t"/><feDisplacementMap in="SourceGraphic" in2="t" scale="2" xChannelSelector="R" yChannelSelector="G" result="d"/><feGaussianBlur in="d" stdDeviation="0.55" result="b"/><feTurbulence type="fractalNoise" baseFrequency="0.8" numOctaves="1" seed="16" result="n"/><feColorMatrix in="n" type="matrix" values="1 0 0 0 0 1 0 0 0 0 1 0 0 0 0 0 0 0 0 1" result="g"/><feComposite in="b" in2="g" operator="arithmetic" k1="0" k2="1" k3="0.45" k4="-0.225"/></filter>
<g clip-path="url(#c5)"><g filter="url(#Fc5)"><rect x="379" y="22" width="160" height="110" fill="#d6d3ca"/>
<path fill="#c4a67c" stroke="#c4a67c" stroke-width="2.2" stroke-linejoin="round" d="M399.7 27.5l2.1-2.3 2.2 0.5 1.6 3.8-3.8 0.6-2.2-2.4zM464.6 24.6l-1.3-0.9-4.3 1-1.4 3.4 3.3 1.6 4.5-2zM506.5 29.2l-2.4-2.3 0.5-2 3.8-1 0.1 0.1 0.1 4zM512 28.3l2.5 1.3 3.9-1-1-2.5-3.1-2.6-2.4 0.6zM397.7 30.1l2.2 2.4-0.2 2.5-2.2 1.4-1.8-1-1-4.2zM467 30.7l-4.6 2.1 0.8 2.7 3.4 1.6 1.5-1.2 0.1-3.9zM490.9 35.7l-0.1-4.4 3-0.9 1.5 1.1 0.7 4.1-3.9 0.6zM503.3 35.3l0.9-2.9-2.6-2.4-2.9 1.4 0.7 4.3 0.8 0.5zM508.9 37.2l2.5-1.1 1-3.4-2.6-1.4-2.3 1.3-0.9 3.1zM393.3 43.8l-1.8-2.2-0.1-1.4 2.8-1.8 1.8 1-0.1 3zM429.5 39.2l-1.3 2.9-2.8 1.3-0.7-0.1-0.2-0.4 0.3-3.8 2.9-1.4zM464.5 40.6l0.3-1-3.3-1.6-3.6 1.9-0.3 1.6 4.7 1.1zM484.5 38.9l-3.9-2.3-2.4 3.1 0.9 2.1 3.5 0.3zM488.8 39l-1.3 0.5-2 3.4 1.3 1.8 3.5-1.4-0.2-3.8zM391 48.2l-0.9 1-4.7-0.1-0.5-3.7 4.7-1.6 1.9 2.4zM446.1 44l-5.3-1.3-1.1 4.6 2.5 1.1 4.6-3.5zM448.7 46l1.7 0.5 1.3 3.9-7.4 0.1-0.4-0.8zM466.4 43.3l2.7 4.5-2 1.5-2.7-1.2-0.1-2.9zM476.5 47.1l-2.2 1.8 1.5 2.9 2.8-1.7zM484.3 47l0.1 1.1-2.2 1.9-1.4-0.7-2.2-3.2 0.6-1.3 3.9 0.3zM502.9 47.7l1.3 3-0.3 0.8-3.7 0.6-1.8-1.6 0.3-1.5 1.7-2.1zM518.2 44.4l3 1.6-1 4.1-2.9 0.6-2.3-2.8 0.1-0.9zM398.4 52.3l-4.7-1.5-0.9 0.9 1.1 4.3 3.9-1.1zM430.2 54l-3.1-1.5-2.9 2.7 0.1 0.8 2.9 1.6 2.9-3zM445.6 55.7l2.3 1.5 1.4-0.1 2.4-4.1 0-0.1-6.8 0.1zM380.4 64.3l3.2-0.5 1-2.2-3.5-3.5-3.3 2.7 0.6 3zM413.4 62.6l0 2.6 3.3 0.9 1.3-0.4-1.1-3.9-1.7-0.4zM425.4 61.4l0.3 1.9-2.4 3.1-0.2 0-1.8-0.8-1.2-4 2.4-2zM432.6 57.4l2.5 2.8-0.2 3.2-0.5 0.1-4.5-1.2-0.3-1.9zM438.7 60.3l-0.3 3.4 2.9 1.9 3.6-5.6-2.4-1.5zM475.9 66.2l-1.8-1.5-0.4-3.2 2.4-1.3 1.8 0.2 1 4.3zM419.5 68.6l2 0.8-2 4.3-3.6-0.8 2.2-3.8zM454.1 72.3l0.8-0.9 0.6-3.1-2.2-2.3-3.8 3.5 3.3 2.6zM461.8 72.3l-3.4-0.8 0.6-3 3.3-1.1 2.7 3.5 0 0.3zM469.2 71.4l0-0.3 3.1-3.2 1.6 1.4 0.6 2.1-4.2 1.9zM495.8 70.9l-0.7-3.2 2.1-1.7 2.9 1.5-1.1 4.2-2.3 0zM503.1 68l-1.1 4.2 3.5 1.5 1.2-1.8 0.2-2.3-1.5-2zM389 78.8l-2.8-0.7 0-3 2.1-2.4 0.6 0.1 4.2 3-1 2.6zM396.1 79.4l0.9-2.6 1.3-0.8 3.6 1.3 0.4 1.4-4.4 3.8zM454 79.8l-0.7-4.3-1.3-0.1-5.2 2.8 0.2 0.5 4.7 2.3 2.3-1.1zM471.7 75.8l4.1-2 2 1.4-1.7 3.5-4.3-0.9zM498.3 74.7l2.2 0 3.2 1.4 0.1 0.5-2.4 2.4-3.7-0.6zM522.3 80.5l-0.6-3.3-3.2-0.1-1.3 2.5 1.1 1.4zM407.5 86.8l3.9 3.4 1.4-4.1-2-2.2-1.6 0.3zM441.1 83.5l-0.2 4-0.1 0.1-3.4 0.2-2.9-2.2 0-0.2 0.9-2.1zM454.9 82.8l-2.3 1.1-1.1 2.3 2 2.8 2.7-1.5zM404.7 93.5l4 2.6 2.1-1.1 0.1-0.2-0.5-1.9-3.7-3.1-2.2 0.9zM419 88.2l0.8 2.1-0.7 2.7-4.6 1-0.5-2 1.4-4.1zM445 89.6l-0.1 0.1 1.5 3.4 3.7 0.8 0.8-2.9-1.8-2.6zM463.3 90.3l0.7 2.5 2.5 1.8 3.2-3.3 0-0.8-3.1-3.9zM490.1 94l0.6-3 2.8-0.5 0.6 3.2-1.6 1.5zM518.8 93.6l-0.7 0.3-2.6-0.1-1.7-3.9 3.4-1.2 2.2 2.5zM400.9 98.2l0.8 2.8 1.8 1.7 1.8-0.6 1.4-3.2-3.9-2.5zM459.9 103.7l-4.3-4.5-1.6-0.2-0.6 3.1 1.4 3 4.8-1.1zM520.7 97.4l-0.8 0.3-0.9 4.3 1.7 2 3.2-2.2-0.3-2.5zM409 110.4l-3.7 1.7-1.6-4.1 0.9-1.7 1.8-0.6 0.1 0.1zM441.7 108.5l0.1 0 0.2-3.4-0.9-1.7-5.1 0.7 1.2 3.8zM498.1 109.9l0.4-4.7 1.4-0.4 1.8 0.6 0.5 4.4-0.5 0.5zM397.6 117.5l-3-4-3.3 2.3 2.7 4.2zM453.2 116.9l2.3-0.8-0.4-2.2-2.3-2.7-2.8 1.3 0.7 2.8zM469.1 110.4l1.9 4.4-0.7 1.3-1.4 1.1-2.2-0.2-0.3-1.9zM479 114l2.2 1.9 0.1 0.1-1.4 3.6-5.5-2.9 0.8-1.5zM492.7 116.2l-0.4 0.7-2.4 1-4-2.1 0-0.1 3.6-3.3 2.9 2.5zM512.3 117.6l0.9 0.9 5.6-0.9 0-0.1-3.2-4.5-2 0.2-1.4 1.8zM529.8 113l-2.7 1.2-1.5 2.8 5.6 1.7 1.9-3.4 0 0zM421.8 122.7l2.8 3.8 3.6-1.8-0.5-3.7-3.8-0.1zM446.3 123.5l-0.1-1.4 2.8-3.9 2.4 1.5-1.3 3.6-3.5 0.3zM453.5 123.2l3.5 2.1 3-3.9 0.2-0.6-3.1-2-2.3 0.8zM482.4 122.2l1.5-3.7 4.2 2.1-0.9 4.6-1.2 0.4-3.6-2zM496.2 117.9l-0.4 0.8 1.6 4.3 3-0.4 1.1-2.3-1.7-2.3zM392.5 132.2l2-0.6 0.5-4-1.7-1.8-3.5 2.2 2.5 4.2zM412 127.5l-1.6-0.9-4.4 1.3 0.5 2.7 4.5 1.5 0.6-0.6zM459.1 128.1l0.1 0.8 3.6 2.6 2.4-0.8 0.5-0.8-3.7-5.5z"/>
<path fill="#bea076" stroke="#bea076" stroke-width="2.2" stroke-linejoin="round" d="M411 23.4l-3.4 1.9 1.5 3.6 0.8 0.3 2.1-1.1-0.1-4zM478.1 24.6l1.4-0.9 3.5 1.9 0.3 1.5-3.1 2.7-2.7-1.6zM391.6 31.2l1 4.2-2.7 1.7-2.5-2.6 0.4-2.7 2.4-0.8zM426.4 34.1l-2.9 1.4-2.9-1.8-0.1-1.5 3.2-2.1 1.7 0.7zM436 35.2l-1-4.9-1.7-1.4-3.9 1.8 1 3.7 1.9 1.6 3.5-0.5zM528.3 31.3l-2.4 0-1.3 0.4 2.7 6.7 3.5-2.3zM422.2 38.2l-3.1-2-0.9 1.7-0.1 2.6 3.7 1.7zM449.5 42l-0.4-3.7 3.1-2.7 1.7 4.4-0.3 1.5-1.9 1.8-1.5-0.5zM423.3 46.7l-3.2 3.4 2.2 2.8 3.1-2.9-1.4-3.1zM509 44.6l2.3 2 0 1-3.6 2-1.4-3.2zM407.3 52.2l-4.6 0.1-0.8 0.6-0.7 2.8 2.6 2.9 1.4-0.8zM411.4 52.5l1.7 5.1-1.8 1.3-3.2-1.2 1.9-5.2 0.7-0.4zM495.9 53l1.9 1.8 0.1 3-1 1.3-4.7-2.9 0.9-2zM535.7 55.2l0.4-2.9-4-1.1-2.2 3.9 1.6 0.6zM484.3 65.9l2.4-2-0.9-3.4-3.3-0.9-1.6 0.6 1 4.2zM493.1 64.6l1.9-1.5 0.4-1.4-4.5-2.9-1.5 1.6 0.9 3.2zM519.2 63.7l-3.7-5-2.7 1.5 2.2 4 1.9 0.6zM529.5 58.4l-1.6-0.5-1 0.1-1.9 5.2 1.9 1.7 3.9-2.3zM402.7 67.8l-1.6 0.7-0.9 4.3 3.4 1.3 2.8-2.5-0.3-1.8zM415.2 69.2l-2.1 3.6-0.7 0.3-2.3-1.5-0.3-1.7 2.1-1.6zM433.1 66.7l-4.9-1.3-2.6 3.3 3.2 2.9 0.8 0.1zM515.8 67.8l-0.8 3.9-5.2-0.2 0.1-2.3 3.8-2.1zM535.8 66.1l-0.1 3.3-4.4 1.4-1.7-0.9-0.7-2.2 3.9-2.3 2.9 0.4zM442.5 78.8l-0.6 1.7-5.2-0.1 0.5-2.7 3.3-1.5 1.9 2.1zM485.5 79.5l-0.7-2.7-1.6-1.2-1.8 0.5-1.7 3.6 0.2 0.2 4.7 1zM538 78.9l2.2-3.6 0-0.1-2.8-2.5-4.5 1.4 1.5 4.6 2 0.6zM419.5 81l-5.1-0.1-1 1.5 2.1 2.3 3.5 0.3 1.4-3.2zM484.4 83.9l0.1 2.5-2.6 1.5-3-2 0.3-3.1zM533.5 86.2l-2.9 1.4-2.1-1.7 0.1-1.6 3.5-2.2 1.8 0.6zM427.2 91l-4.3 0.5-0.7 2.5 1.4 1.4 3.6 0.4zM441.7 96.5l1.8-2.3-1.6-3.6-3.4 0.2-1 3.4zM508.8 95.5l3-1.8-1.8-3.9-1.6-0.9-2.7 1.5 0 1.2zM529.5 94.2l-3.9 2.1-3.3-2.2 0.6-2.7 3.4-2.5 2.3 1.8zM390.2 97.3l-1.1 4-2.1 0.6-2.9-1.2-0.5-1.1 1.5-4.1 4.9 1.4zM393.2 98l-1 3.6 0.7 0.6 4.9-1-0.8-2.8zM450.1 97.9l-0.4-0.5-3.5-0.7-1.7 2.2-0.3 1.4 0.9 1.7 4.5-1.2zM474.3 102.6l5.1-4.1 0.6 0 1.6 1.3 0.6 2-2.9 3zM498.2 101.6l0-3.9-2.3-1.1-1.6 1.5 0.9 3.7 1.7 0.1zM533.3 98l-2-0.6-3.6 1.8 0.3 2.6 2 1.7 4.2-1.9zM387.5 109.9l2 2.5 0.2 0 3-2.2 0.3-0.7-2-3.5-0.7-0.5-1.9 0.6zM471.1 107.3l2 4.4 3.6-1.2-0.1-2.7-4.9-2.1-0.7 0.1zM481.4 110.8l2.2 1.9 3.5-3 0.1-2.8-3-1.7-2.9 3zM536.6 105.2l0.5 3.9-2 3.3-3.6-2.5-0.1-3.2 4.5-2zM380.4 113l-0.5 4.3 2.5 0.9 4-3-2.2-2.7zM518.2 112l3.2 4.5 0.5-0.3 1.5-2.9-2.9-3.2zM399.2 119.8l1.8 0.1 0.1 4.8-3.9-0.1-1.7-1.8 0.1-0.4zM431.3 124.1l1.8 0.9 2-2.2-1.1-2.9-1.5-0.7-1.7 1.4zM463.9 121.3l1.7-1.1 2.4 0.2 2.3 4.8-3 2.2-3.6-5.5zM471.6 120.5l2.2 4.7 1.9 0.3 2.8-1.9 0-1.3-5.5-2.9zM495 124.2l-1.8 1.9-2.9-0.7 0.8-4.3 2.3-1zM400.2 133l2.4-2.1-0.4-2.8-0.2-0.2-3.9-0.1-0.4 4z"/>
<path fill="#c8ac84" stroke="#c8ac84" stroke-width="2.2" stroke-linejoin="round" d="M419.2 22.7l-3.8 1 0.1 4.3 2.9 1.3 3.3-2.1-0.5-2.3zM436.6 27l3.7-1.2-0.6-2.7-3.4-0.3-1.2 1.1-0.2 1.7zM500.4 26.8l-3 1.4-1.5-1.1 0.1-2 2.4-3.1 2.6 2.6zM416.1 35.8l-4.7-0.2 0.1-3.4 2.3-1.2 3 1.4 0.1 1.7zM482.1 32.4l0 1.4 4.3 2.5 1.3-0.5-0.2-4.8-2.3-1.4zM514.7 35.9l1-3.2 3.9-1 0.4 0.3-2.1 6zM531.2 30.9l2.4 4.7 1.2 0.2 2.6-2-1-3.3-2.7-1.2zM387.8 41.3l0-1.4-2.6-2.6-3.4 3.1-0.1 0.1 1.7 2.3zM437.7 41.5l-1.1-2.3-3.5 0.5-1.4 3.1 4 3.9 0.9-0.3zM506.9 42.1l-2.6 1.8-2.6-0.9-0.1-3.6 3-0.8 2 1.3zM510.7 42.3l2.3 2.1 3.3-2.7-0.1-0.5-3.3-2.2-2.4 1zM532.4 39.4l-3.2 2.1-0.5 1.2 2.2 1.5 3.8-1.3-1.2-3.3zM429.7 45.2l3.6 3.5-1.9 2.3-3.1-1.6-1.4-2.9zM460.6 45.6l-4.8-1.1-1.9 1.8 1.2 3.9 0.1 0 2.2 0.5 3.2-2zM491.6 46.2l2.8 2.3-0.2 1.6-2.9 1.2-3.1-2.6-0.1-1.1zM533 48.8l4.1 1.2 0.1-0.2-0.3-4.2-0.3-0.3-4.2 1.5zM437.6 50.5l-0.8 0.3-2 2.2 0 0.7 2.6 2.8 3.6-1.7-0.7-2.6-0.4-0.7zM479.8 52.4l-2.8 1.7 0.4 3 1.6 0.2 1.7-0.6 0.3-3.6zM501.3 58.4l0-3.1 4-0.7 2.2 3.4-1.9 1.6zM523.9 56.9l-1.8 4.8-0.8 0-3.6-4.9 0.9-1.6 2.9-0.6zM393 65.1l-4 3.2-0.5-0.1-1.3-3.1 0.9-2 2.9-0.9zM451.1 63.7l-0.2-0.5-1.9-2.3-1.4 0.2-3.7 5.5 0.1 0.2 3.3 0.4zM507.5 62l1.9-1.7 0.6 0 2.3 4.4-3.8 2.1-1.5-2zM395.7 73.4l-4-2.8 4-3.3 2.1 1.1-0.9 4.3zM444.6 76l5.1-2.7-3.4-2.8-3.4-0.3-0.5 3.5zM485.7 72l0.7-3 2.4-2 2.8 1.1 0.7 3.1-4.9 2.1zM406.4 78.6l-0.4-1.3 2.7-2.5 2.3 1.5 0.1 2.8-0.9 1.5-1.5 0.3zM433 77.7l-2.7-2-0.8 0-2.4 4.2 4.5 2.3 0.9-1.8zM460.2 74.9l-3.3-0.8-0.7 0.8 0.6 3.9 3.9 0.1zM393.1 88.1l-2.5-1.3 0-4.4 3.2-0.5 1.9 3.3 0.1 0.6zM399.7 85.6l-0.1-0.5 4.1-3.5 2.1 2.2-1.6 2.4-2 0.9zM424.1 83.1l1-0.2 4.6 2.4 0 0.2-1.9 2-4.3 0.5-0.7-1.9zM489 82.5l3.6 0.4 0.9 3.7-0.7 0.7-2.8 0.5-1.9-1.5-0.1-2.3zM502.8 86.1l0.3-4.1 2.6-2.4 2 2.3-0.7 3.7-2.7 1.5zM515.7 85.4l-3.7 1.3-1.8-0.9 0.7-3.9 3.6-0.3 1.2 1.6zM521.6 88.3l-2.2-2.5 0-2 4.1-0.6 1.3 1.3-0.1 1.5zM390 93.8l-4.8-1.4-0.8-1.6 0.5-0.9 3.3-0.7 2.6 1.2zM430.5 90.6l1.9-2.1 2.6 2-0.9 3.4-2.5 2.1-1-0.7zM457.2 90.4l-2.7 1.5-0.9 3.1 0.4 0.6 1.6 0.1 4.3-2-0.7-2.5zM477.1 88.6l2.7 1.8-0.9 4.2-0.5 0-4.4-3 0-0.8zM487 94l-3.1 2.3-1.6-1.2 0.9-4.3 2.5-1.3 2 1.4zM419.5 96.1l-4.5 1-0.2 0.2 3.6 6.1 1.6-1.3 1-4.4zM488.6 97l-3.3 2.4 0.7 2.2 3.2 1.9 2.9-1.3-0.9-4zM501.3 101.5l-0.1-4 2.6-2.8 3.1 4-0.7 2.3-3.1 1.1zM401.5 105.2l-1.9-1.8-5.2 1.1 2.1 3.7 4-1.2zM505.1 109.9l4.2 1.8 1.4-1.9-1.3-4-1.6-1.4-3.1 1.2zM444.9 118.9l-2-3.4 1-3.5 0 0 3 0.7 0.6 2.6zM458.8 116.6l2.9 1.8 1.6-1-0.3-1.9-1.6-2.7-2.9 1.8zM495.8 115.6l3.7 0.1 1.2-2.9-3.6-0.4-1.6 1.8zM443.5 123.4l-0.4 0.3-4.5-1-1.2-3 3.8-1.3 2.2 3.7zM426.1 129.2l0 2.5 1.1 0.7 4.9-1.8-0.7-2.2-1.9-0.9zM509.5 128.1l0 2.3-2.8 1.8-1.3-0.3-1-4.5zM527.7 131.8l2 0.7 2.7-1.4 0.4-3-1.4-1.6-4.1 1.8z"/>
<path fill="#ba9c74" stroke="#ba9c74" stroke-width="2.2" stroke-linejoin="round" d="M470.1 23.7l4.2 0.9-0.6 3.4-3.5 0.8-1-1.3-0.7-3zM486.5 25.3l2.1-2.9 3.8 2.8-0.1 2-3.2 1-2.3-1.4zM407 38.9l-0.4-0.1-3.3-2.9 0.2-2.5 4-0.6 0.8 0.2-0.1 3.4zM438.9 34.5l3-1.3 1.9-4-1.9-1-3.9 1.3zM446.6 29.6l-1.9 3.9 3 1.3 3.2-2.8 0.2-1.1-3.6-1.5zM454.4 31.6l1-0.6 3.1 1.5 0.8 2.6-3.4 1.9-1.7-4.3zM471.9 32l-0.1 3.8 3.9 1.4 2.5-3.1-0.1-1.4-2.6-1.5zM404.1 40.8l-3.8 1.9-1.6-0.6 0.1-2.8 2.1-1.3zM415.3 38.4l-4.8-0.2-1.2 2.6 2 2.6 3.9-2.4zM445.6 41l-0.4-3.6-2.9-1.3-2.8 1.2-0.1 0.2 1 2.2zM474.9 44.4l-2.2 1.8-1.1 0.1-2.8-4.8 0.3-1 1.4-1.1 4 1.5 1 2.2zM493.1 39.6l4.3-0.6 0.8 0.5 0.1 4-1.9 2.4-3-2.4zM520.1 40.2l2.1-6.1 0.6 0 2.5 6.3-0.5 1.2-1.4 0.7-3.1-1.7zM399.6 50.1l-5.2-1.7 0.4-2.1 2.6-1.5 1.8 0.7 1.2 4zM409.2 48.3l-0.1-2.7-1.9-2.6-0.4-0.1-4.1 2.1 1.2 3.9 4.5-0.1zM420.4 45.6l-3.1 3.4-3.5-0.2-0.7-0.4 0-2.5 3.6-2.2 3.5 1.6zM526.5 53.5l-2.4-2.4 1-4.4 1.5-0.6 2.4 1.5 0.6 2-2.1 3.8zM390.2 57l-1-4.3-4.2-0.1-1.1 1.2-0.2 1.6 3.3 3.3 2.8-0.9zM420.1 55.4l-2.2-2.7-3.6-0.1 1.7 5.1 1.8 0.5 2.4-2zM456.6 54.2l-2.1-0.5-2.3 4.1 1.8 2.2 4.7-2.8zM463.2 51.5l-3.1 1.9 2.2 3.2 2.2 1.4 1.7-0.6-0.1-4.7zM471.5 50.8l1.1-0.1 1.5 3 0.4 3.2-2.4 1.2-2.8-0.9 0-4.8zM484.1 52.9l-0.3 3.4 3 0.9 1.6-1.7 0.8-1.8-3-2.5zM508.4 52.5l-0.4 0.9 2.2 3.4 0.6 0 2.8-1.5 1-1.8-2.5-3.1zM399 58.5l-4.1 1.2-0.4 0.8 2.2 3.1 2.2 1.1 1.6-0.7 1-2.8zM409.8 62.6l0 2.7-2.1 1.5-3.3-2 1-2.7 1.3-0.6zM457.7 65.3l3.2-1.1 1.4-3-2.1-1.4-4.8 2.8 0.2 0.5zM470.7 64.9l-3.1 3.1-2.8-3.4 1.5-3 1.5-0.6 2.6 0.9zM499 63.5l2.7 1.4 2.1-0.3 0.4-2.6-3.9-1.1-1 1.2zM537.9 59.3l-1.3-1.6-3.9 0.4 1.3 4.1 2.8 0.3zM381.4 67.3l0.7 4.4 1.9 1 2.2-2.5-1.5-3.4zM439.3 72.6l0.5-3.3-0.1-0.2-2.9-1.8-0.5 0.1-3.4 4.8 2.9 2zM482.2 72l0.7-2.9-2.3-1.4-2.9 1.4 0.6 2.1 2 1.3zM521.7 66.9l0.8-0.1 1.9 1.7 0.7 2.2-2.4 2.6-3.5-0.1-0.7-1.4 0.8-3.8zM418.9 78.6l-0.6-2.4-3.4-0.8-0.8 0.4 0.1 2.7zM421.9 78.2l-0.6-2.6 2-4.4 0.1 0 3.1 3-2.5 4.6-1.2 0.3zM463.5 75.1l0.6 4.4 2.3 1 1.8-2.1 0-2.3-1.3-2.1zM489.9 78.9l3.5 0.4 0.6-0.8 0.6-3.6-0.8-0.7-4.6 2zM514.8 75.8l-1.2 2.6-3.3 0.3-2-2.2-0.1-0.5 1.1-1.7 4.8 0.2zM530.7 79.2l-3.6 2.2-1.4-1.3-0.8-3.7 2.6-2.7 1.7 0.9zM387.5 82.1l-2.6-0.7-1 0.8 0.5 4.5 3-0.7zM445.3 81l4.2 2.1-1 2.1-4 1.2 0.2-3.6zM464.3 83l0.1 0.8-3.4 3.7-2-0.8-1.4-4.7 0.1-0.1 4.3 0.2zM468.8 82.8l0 0.8 3.2 3.9 3.3-2.4 0.2-3-0.1-0.3-4.8-1zM496.3 81.3l3.7 0.6-0.3 4-3.1-0.2-0.9-3.6zM394.1 94.6l3.9 0.4 1.9-1.9-0.2-2.6-2.6-1.5-2.4 2.1-0.7 3.2zM497 92.8l2.3 1.2 2.6-2.8-0.1-1.2-1.4-0.9-3.2-0.2-0.8 0.7zM536.7 93.2l0.6-1.5-2.3-2.2-2.7 1.3 0.8 3.1 2 0.7zM409.2 103.4l-0.2-0.1 1.4-3.3 2.1-1.1 3.4 5.8 0 0.2zM428.4 98.7l1.2 0.8 0.4 1.7-2.7 2.1-3.8-0.5 1.1-4.5zM433.5 100.8l-0.5-1.7 2.6-2.3 4.2 2.3-0.3 1.5-5.3 0.7zM465.2 101.2l-0.4-3.3-2.4-1.8-4.1 1.9 4.2 4.3zM469.7 102.1l0.9-0.1 5.3-4.2-4.6-3.1-3.1 3.2 0.3 3.4zM515.4 101.8l-3.9 0.8-1.6-1.4 0.8-2.3 3-1.7 2.7 0.2zM378.4 107.8l1.4 1.7 3.6-0.4 0.9-3.9-2.5-1-3.4 3.3zM412.4 111l-2.6-5 6.8 1.5 0 1.5-2.7 2.4zM419.9 108.5l2.7 1.9 2.5-0.7 0.1-3.6-3.7-0.5-1.6 1.3 0 0.1zM433.4 108.3l-1.3-3.9-0.6-0.6-2.6 2-0.1 3.6 2.7 1.1zM448.5 109.7l-2.9-0.7 0.2-3.5 4.7-1.2 1.2 2.8-0.6 1.4zM456.8 111.7l2.9-1.8 0.1-3-4.5 1-0.6 1.3zM467.5 106.8l-2.7 4.9-1.7-2.7 0.1-3 0.3-0.4 2.7-1.1 1.2 0.8zM493.9 111.9l-3-2.5 0.1-3 2.9-1.2 1.9 0.2-0.3 4.7zM516.7 104.8l-4.1 0.8 1.3 4.1 2.2-0.2 2.5-2 0.1-0.4zM527.5 106.8l-1.9-1.6-3.2 2.1-0.1 0.5 2.8 3 2.5-1.1zM401.3 110.5l-3.9 1.1-0.3 0.8 3 3.9 1.9 0.1 0.5-0.4 0.5-1.2zM409.4 118.5l-3-1.7 0.5-1.3 3.8-1.7 1.4 0.4 0.3 1.5zM419.3 119.8l-0.1 0-2.9-3.8-0.3-1.6 2.6-2.3 2.7 1.8 0 4.2zM425 117.8l0-4.3 2.4-0.6 2.7 1.1 0.3 2.4-1.8 1.4zM439.3 115.4l-3.8 1.2-1.6-0.7-0.3-2.5 2-2.3 4.8 0.6zM502.5 116.2l1.6 2.2 4.1-1-0.1-2.6-4-1.8-0.5 0.5zM391.7 122l-0.1 0.4-3.6 2.3-1.5-0.1-1.8-3.9 4.1-3.1 0.2 0zM408.7 123.6l-4.4 1.3-0.1-0.2-0.1-4.8 0.5-0.4 3.1 1.8zM413.7 124.4l-1.6-0.9-1.1-2.4 3.2-2.9 2.9 4zM504.2 123.6l0.4 0.6 5.1 0.7 0.5-1.4-0.2-2.1-0.8-0.9-4 1zM514.4 121.4l5.5-0.9 0.5 3.9-1.1 0.6-4.8-1.4zM523.2 119.9l-0.1 0.1 0.5 3.9 1.6 1.1 4.1-1.8-0.1-1.9-5.5-1.7zM419.6 125.1l-0.1 0-3.2 2.1-0.5 3.9 5.1 0.5 1.2-0.6 0.1-2.4zM435.3 127.8l2-2.3 4.5 1-1.8 3.4-2.1 1.5-1.9-1.4zM448.3 126.5l3.4 6 0.6-0.1 2.9-3.4-0.1-0.8-3.4-2zM500.6 125.8l0.5 0.7 1 5.1-1.7 0.7-4.4-3.4-0.2-0.6 1.8-2.1zM513.2 126.2l-0.4 1.4 0.1 2.3 2.2 1.1 0.5 0 2.2-3.5z"/>
</g>
<line x1="516" y1="121" x2="524" y2="121" stroke="#111" stroke-width="1.3"/>
</g>
<clipPath id="c6"><rect x="537" y="28" width="147" height="98"/></clipPath>
<filter id="Fc6" filterUnits="userSpaceOnUse" x="531" y="22" width="159" height="110" color-interpolation-filters="sRGB"><feTurbulence type="fractalNoise" baseFrequency="0.15" numOctaves="2" seed="6" result="t"/><feDisplacementMap in="SourceGraphic" in2="t" scale="2" xChannelSelector="R" yChannelSelector="G" result="d"/><feGaussianBlur in="d" stdDeviation="0.5" result="b"/><feTurbulence type="fractalNoise" baseFrequency="0.8" numOctaves="1" seed="17" result="n"/><feColorMatrix in="n" type="matrix" values="1 0 0 0 0 1 0 0 0 0 1 0 0 0 0 0 0 0 0 1" result="g"/><feComposite in="b" in2="g" operator="arithmetic" k1="0" k2="1" k3="0.3" k4="-0.15"/></filter>
<g clip-path="url(#c6)"><g filter="url(#Fc6)"><rect x="531" y="22" width="159" height="110" fill="#c4c4c0"/>
<path fill="#d4d4d0" stroke="#d4d4d0" stroke-width="2.6" stroke-linejoin="round" d="M619.7 25.2l0 3.9-2.6 0.9-1.2-3.9 0.3-0.5 1.8-0.8zM623.7 25l0 4 2 1 1.6-3.5-0.6-2.1-0.4-0.5zM635.5 28.8l0.9-3.1-5.3-1 0.6 2.1 3.4 2.4zM640.5 28.9l0.9-3.4 0.3-0.2 3.5-0.3 0.8 0.8 0.2 2.7-1.7 1.3zM680.7 26.1l2.1 3 3.8-1.3-0.8-1.5-3.2-2.1zM546.3 35.9l-1.3-4.2-0.1-0.1-0.8-0.3-2.3 0.6-0.9 2.1 1 2.1zM550.3 36.7l-1.3-4.4 4.2-0.1 0.9 2.4-3.3 2.6zM559 28.1l-1.4 2.4 0.8 2.2 2.2 0.4 1.5-0.6 0.7-1.6-2.1-2.3zM585.2 37.3l1.8-3 0-0.9-2.9-1.5-0.9 0.4 0.1 3.5zM617 37l5.3 1.5 1.6-2.1-0.8-1.5-2-1.1-2.7 0.9-1.4 2.3zM657.4 33.3l2.7-2.7 2.7 1.5 0 0-0.1 1-2.5 2.1-2.8-1.6zM672.2 35.8l-3.6 0.6-1.4-2.5 0.2-1 3.5 0.3zM565.1 42.5l0.3-2.4-1.3-2.6-1.6 0.6-1.2 4 3.7 0.5zM569.2 43l0.4-2.4 3.6-0.6 0.5 0.4 0.1 2.9zM598.5 42.4l-1.5-1.5 0.2-1.3 1.4-1.4 2.2 0.5 0.1 2.7zM632 43.7l-3.6 1.1-2-2.9 0-0.5 1.5-2.1 1.2 0.1zM638.5 40.8l-0.3 1.4-1.7 1.1-0.3 0-2.9-4.4 2.9-1.8zM610.6 47l2.4-2.1 2.6 3.5 0.1 1.9-1.1 0.5-4.2-1.5zM623.4 45.9l1.9 2.9-0.8 1.8-3 0.6-1-0.5-0.1-1.8zM638.7 47.5l0.4 1.7 1.8 3 1.6-0.9 0.9-3.5-3-1.4zM540.1 57.5l-1.9 3.5-2.3-1.5 0.5-4.2 1.2-0.4 1 0.2zM572.3 56.3l3.1 2.5 0 0.1-2 2.1-3.9-0.5 2.5-4.3zM582.1 52.7l3.2 2.4-0.2 2.5-4.3 0.5-0.6-0.3 0-0.1zM624 59.6l-0.7-4.1 3-0.5 1.6 2.1 0.3 1-1.7 2.4zM666.7 54l4.6 1.3 0 2.8-0.2 0-2.7-0.3-2-3.6zM589.4 62.9l-2-1.6-4.3 0.5 1.8 4.7 1.7 0.1 2.8-3.4zM651.2 64.3l-3.1 1.9-2.4-0.7 0.4-2.6 3.7-0.6 1.6 1.2zM655.7 64.8l1 3.2 4-1.3-0.6-2.5-2.5-1-1.7 0.8zM666.6 67.3l-1-1-0.5-2.4 2.3-1.7 2.8 0.3-0.9 2.4zM673.5 64.7l0.9-2.4 0.1 0 2.2 0.5 1.1 2.2-2.8 2.4zM550 74l-1.1-3.2-1.8-0.7-2.2 0.6 0 4.5 1.7 0.5zM554.8 74.1l3.3-3.2-4.2-1.4-1.2 0.8 1.1 3.1zM558.3 76l3.2-3.2 0.9-0.3 1.3 1.2-1.3 4.2-0.4 0.2-3.7-2.1zM575.7 73.6l0.3-0.5-1.9-4.4-3.4 3.4 4.4 1.9zM645.6 74.4l-3-1.8-0.3-2.1 1.4-1.1 2.3 0.6 1.2 3.5zM651.2 73l-1.2-3.4 2.9-1.8 1 3-0.6 2.2zM544.4 80.6l-1.6-0.4-1.5 1 0 2.5 0.5 1 1 0.2 2.4-2zM553.3 77.9l-1.1-0.8-3.5 1.7 0.9 2.5 2.3 0.6 1.4-3.9zM558.5 84.7l1.1-2.4-3.6-2-1.2 3.5 0.5 1.3zM590.6 76.2l0 3.6-3.2 0.7-0.7-1.5 2-3.4zM622.7 76.2l-1.9 2.6 0.3 1.9 2.4 2 1.4-1.7 0.5-1.8-2.4-3.1zM550.4 89.3l-2.4 0.1-1.8-1.9 2.3-2 2.1 0.6 0.6 1.3zM584.3 86l-4.6 1.7 0.4 1.6 3.9 1.9 1.5-1.3zM646.4 89l-1.6 1.5-2.4-0.9-0.2-3 2.8-1 1.8 1.5zM667.2 89.8l-2.5 0.4-2.8-1.8-0.1-0.6 2-2.3 4.5 0.1 0.1 0.1zM542.2 95.9l1.7-3.4-1.8-2-1-0.2-2.1 2.7 0.4 2 2.3 1zM594.4 98.9l2.6-2.5 0.3-1.6-1.4-1.6-2.6 0.6 0.6 4.7zM604 100l3.7-1.7-1-1.9-1.5-1.2-3.2 0.1-0.3 1.7zM640 99.4l-1.1-3.8 1.8-1.6 2.5 1 0.8 2.6-3.3 2.6zM652.6 95.2l-0.4 2.4-0.7 0.2-3.1-0.7-0.8-2.7 1.7-1.6zM669.7 98.1l-0.1-2.8-1.1-1.2-2.5 0.4-0.7 3.1 3 1.6zM538.4 103.7l0.9-3-2.5-1-2.6 1.8-0.1 3.5 0.7 0.5zM542.5 104l0.9-2.7 0.4-0.1 2.3 1.2 0.2 2-1.7 2.1zM588.9 106.9l-0.7-4.1 3.4 0.4 0.5 0.3 0.9 2.7-2 1zM605.9 104.2l3.2 2.9 2.6-1.5-0.4-3.1-1.4-0.7-3.7 1.8zM628.3 104.1l-1.4-1.3-0.5-1.8 1.8-2.6 2 2.7zM665.5 102.7l-2.7-1.5-2.7 1.5 0.6 1.9 1.1 0.7 3.2-0.2zM673.7 106.8l-2 1.4-0.2 0.1-1.9-2.2 0.6-2.4 1.3-1 1.8 0.7zM678.1 105.7l-0.4-3.3 3-1.2 1.4 0.8 0.4 1.9-2.4 1.8zM540.3 107.9l2.2 2.7-0.4 2.2-0.2 0.2-3.4-0.6-1.6-2.8zM546.7 112.7l3 0.3 1.9-1.4 0.1-1.9-2.8-1.2-1.8 2.1zM560.8 113.3l-3.8-2 0-2 2.3-2.1 2.8 1.5-0.1 3.9zM593.3 110.8l-0.6 3.7 3.3 0.1 1.8-1.8-1.2-2.3-1.4-0.7zM600.6 109.6l1.2 2.3 2.1 0.8 2.1-2.5-3.1-2.7zM608.1 113.9l0-0.1 2.3-2.8 2.6-1.5 1.1 1.1 0.7 1.5-2.2 2.1zM620.7 110.7l-0.7-1.3 4.5-2.4 1.2 1.2 0.4 0.8-2.7 2.5-1.4 0.2zM629.9 111.2l-2.9 2.7 3.4 3.1 0.6-0.1 1.3-2.8-0.7-2.3zM646.6 109.5l2.9-1.5 2 2.5-0.7 1.6-0.7 0.6-3.2-1.8zM659.8 113l-0.1 0.2-4.4-0.9 0.7-1.5 2.4-2.3 1.1 0.7zM668.6 110.9l-0.7 1.2-3.8 0.6-0.3-3.6 3-0.3zM576 118.4l-1.4 2.4-2 1.5-0.6-0.8-1.1-3.6 3-1.2zM607.9 121.8l-0.8-4 4.4 0.4 0 2.9-2.7 1.2zM621.8 121.1l0.2 0.3 2.6 0 2.1-1.7-3.2-3-1.4 0.2zM667.4 116.6l0.3 4.5-0.2 0.2-4.1 0-0.3-0.4 0.2-3.6 0.1-0.1zM683.1 122l-1.1 0.6-2.7-2 0.9-2.4 1.5-0.7 1.5 0.3zM587.8 127.1l-1.4 1.5-2.3-1.8 0.1-1.4 1.2-3.3 1.3 0.1 2.3 3zM597.6 129.1l0-1.8-1.6-1.1-2.3 0.3-1.2 1.9 4 1.6zM643.6 125.5l-0.6 2.7-2.3 1-3-1.2 0.2-3 3.4-0.9zM653 129.9l-3.6-4.2-1.3 0.7-0.6 2.6 1.3 1.5z"/>
<path fill="#d6d6d2" stroke="#d6d6d2" stroke-width="2.6" stroke-linejoin="round" d="M554.9 26.2l-1.5 2.4-4 0.1-0.1-0.1 4.1-4.5zM573.8 27.2l2.4-0.5-0.7-4.8-1.7-0.6-0.7 0.3-0.4 0.5-0.5 4.3zM581 22.7l-1.7 0.1 0.7 4.5 1.2 0.3 0.8-0.4 1.1-3zM654 30.4l2.9-2.7-0.6-2.2-1.6-0.5-3.4 0.9 0.2 2.7zM664.1 28.2l1.8-4.2-3.6-0.7-1.5 1.3 0.6 2.1zM532.8 27.4l-1.1 2.9 0.3 2.2 1.5 0.7 2.4-0.6 0.9-2.1-3.8-3.3zM576.5 36.8l3-0.8-0.1-3.8-1.3-0.3-2.5 0.5 0.5 4zM612.5 35l1.5-2.3-1.3-4.2-4.1 1.7 0.6 2.9zM677.3 29l-0.5 0.1-1.7 2.9 1.3 2.7 0.6 0.5 1.9-1.3 0.6-1.9zM684.9 32.6l-0.5 1.8 3.7 1.7 1.2-0.6 0.6-3.3-0.4-0.5-0.7-0.4zM545 43.9l3.2-2-0.3-1.4-0.5-0.4-4.5 0.3-0.5 1.5zM578 44.1l-0.1-3.2 2.9-0.7 2.2 1.6 0.2 1-2.2 2.4-2.8-0.8zM616.1 40.1l5.3 1.5 0 0.5-3.2 3.2-2.5-3.5zM645.3 40l3.3 1.4 0.5 2.4-3.1 0.6-3.2-1.5 0.4-1.5zM664.5 36.1l1.4 2.6-0.9 3-2.9-1.2-0.3-2.1zM681.3 43.4l-1.9-2.4 0-1.4 1.8-1.2 3.6 1.6-1.2 2.3zM535.6 50.5l-1.2 0.5-2.3-0.7-1-3.8 2-0.9 2.2 0.4zM539.8 50.4l-0.9-0.2-0.3-4.1 1.1-0.7 2.3 1.9-0.5 1.9zM549.4 50.2l2.4-1.7 0-1.6-1.7-1.6-3.1 1.8-0.5 2zM563.1 46.6l-4-0.5-2 0.9 0.1 1.8 2.5 2.9 3.4-1.9zM571.1 51.2l2.4-4.1-0.2-0.3-4.9-0.3-0.1 0.1 0 3.3 2.4 1.3zM600.4 49.2l2.9 1.6 2-1.8 0.2-2.3-2.4-1.4-2.5 1zM666.8 50.6l1.5-2.7 1.1 0.1 2.5 2.8-0.3 1.2zM682.9 48.7l1.9 2.9 2.1-1 0.5-2.5-1.9-1.6-2.4 1.1zM546.3 57.2l-2.6-0.7-1.4-2.4 1.9-1.2 3 1.1-0.4 2.8zM591.9 59.3l-2.1-1.7 0.2-2.7 1.7-1.6 2.4 0.2-1.7 5.5zM595.9 58.7l1.6-5.3 0.7-0.3 2.9 1.6 0 1.4-3.5 2.4zM608 53l4.1 1.5-1.7 3.4-2.2 0.5-2-2.3-0.1-1.4zM617.4 60.4l-2.3-1.7 1.7-3.4 1-0.4 1 0.5 0.8 4zM662.6 54.8l-2.2 0.4-0.7 4.2 2.5 1 2.4-1.8zM533.6 64.1l-3.3 1.1-0.6 1.4 3.5 2.9 3.4-2.5-0.7-1.5zM594.5 63.6l0.5-0.2 1.6-0.2 2.9 2.8-0.1 0.2-2.7 1.8-2.2-4.1zM614.2 67.1l-2.2 0.7-2.3-3 0.4-1.6 2.2-0.5 2.3 1.7zM641.6 62.8l-1.4-2.3-2.4 1.1 0.8 4 1.3 0.5 1.3-1zM592.2 72.4l2.2-0.9 0.1-0.4-2.4-4.4-2.8 3.4 1.1 1.8zM604.9 68.5l2-1.2 2.3 3-0.6 1.4-2.3 0.2-1.5-3.2zM615.9 71.5l-2.4 0.8-0.7 1.5 0.8 2 3.4 0.4 1.9-2.6zM635.8 75.5l-0.8-0.4-1.7-4.1 3.3-0.6 1.4 0.6 0.2 2.1zM572.6 76.9l-4.2-1.8-0.3 0-1.2 4.2 3.9 1.4 0.4-0.1zM604.1 78.7l2.2-2 2.3-0.2 0.7 1.8-1.3 3-0.8 0.2-3.2-1.2zM643.7 78.7l-3.1-1.9-2.4 2.5 0.7 2.5 1.3 0.8 2.9-1.1zM679.2 81.3l0.3-2.3-5 0-0.2 0-0.5 3.2 0 0.1 2.8 1.2zM686 84l2.4 0-0.3-4.3-2.8-1-0.4 0.3-0.4 2.5zM538.2 87.5l-2 2.6-2.8-1.3 1-2.2 3.3-0.1zM573.6 93.1l-3.3-2.3 2.4-4.3 0.4-0.1 1.9 1.4 0.4 1.6zM611.9 88.6l-0.6-1.3-1.8-0.9-0.7 0.2-0.8 4.2 1.4 1.2zM625.8 88.8l0-1.8 1.4-1.6 3.7 1.2-2.4 4-0.1 0zM636.4 91.5l-3.7-0.7 2.3-3.9 1.5-0.8 1.3 0.8 0.3 3zM656.3 88.5l-2.1-1.5-2.6 0.4-0.5 2 3.3 2.4 2.1-2.8zM676 88.3l-3-1.3-1.2 4 1.1 1.2 4-0.6 0.4-1zM683.8 87.1l-1.3 1.6-1.7 0.5-1.3-2.3 2.8-2.4zM559.2 98.1l-1.2-1.3 0-0.3 3.5-2.9 2 0.8-1.2 2.4zM571.7 98l-3.4 2.1-1.7-2.8 1.3-2.5 0.1 0 3.5 2.5zM586.6 98.5l-1-0.6 0.8-3.2 1.5-1.2 1.6 0.3 0.6 5.1zM632.4 98.5l-1.9-2.6 0.3-1.2 0 0 3.7 0.6 1 3.7zM658.8 92.5l2.8 1.8-0.7 3-2.9 1.7-1.7-1.3 0.4-2.4zM682.1 96.7l-1-2.7 0.3-0.9 1.6-0.6 3 2.6-2.6 2.3zM555.8 101.6l-1.2-1.4-3.7 2 0.3 2 2.9 1.4 2.2-2.1zM573.7 101.5l-3.5 2.1-1.2 1.9 5.3 1.2 1.2-1.4 0-2.4zM584.8 106.7l-1.6 0.7-3-2 0.1-2.3 2.8-1.1 1 0.6zM596.9 105.6l1.4 0.6 2.4-2.2 0.4-0.6-2.4-3.1-2.7 2.6zM622.4 103.8l-4.9 2.6-1.1-1.1-0.4-3.1 1.7-1.1 4.1 0.8zM644.8 105.7l-1.9-2.2 0-0.2 3.2-2.6 3 0.7-1.5 2.8zM654.1 107.1l2.4-2.4-0.6-2-1.8-1.2-0.6 0.1-1.5 2.9zM572.1 110.2l-0.5 2.4-2.9 1.2-2.2-0.8 0.1-3.8 0.4-0.2zM686.3 108.6l-1.5-1-2.4 1.8 0.8 3.5 1.5 0.3 1.7-0.8zM563.1 118.3l0.4-0.8 1.2-0.8 2.1 0.9 1 3.4-3.3 0.3zM579.7 118.8l-1.3 2.2 3.1 1.7 1.1-3.2-0.6-0.5zM603.9 121.4l-3.5 1.7-1.7-1.1 0.3-3.8 1.8-1.8 2.3 0.9 0 0.1zM615.3 116.8l2.2-2.2 1.3 1.1-0.3 4.4-3.2-0.4zM639.2 120.1l-0.6-3.1-3-0.5-1.4 2.7 1.6 1.7zM645.6 115l-2 1.9 0.6 3.1 2.4 1.4 1.3-0.8 0.7-0.8 0-3.1zM653.8 115.4l4.6 0.9-0.2 3.7-5.2-0.7 0.1-3.3zM691.2 118.3l-0.1 1-3.4 2.4-0.9-0.1 0.1-4 1.5-0.8zM624 130.5l2.7-0.4-1.9-4.2-2.7-0.1-0.5 3.1zM667.9 125.3l0.4 2.2-2.3 2.5-3-1.7 0.8-3zM676.2 123.7l2.8 2.1-0.5 2-2.8 1.5-2.6-2.4-0.4-2.3 0.1-0.2zM685.2 126.2l-1.1 0.6-0.5 1.8 1.7 1.7 4.2-0.7-3.4-3.4z"/>
<path fill="#d2d2ce" stroke="#d2d2ce" stroke-width="2.6" stroke-linejoin="round" d="M535.7 24l0.1-0.3 1.9-2.6 3.9 1.9 0.3 0.3 0.1 3.4-2.4 0.7zM587.3 24.8l-1.1 3.1 3 1.4 2.1-1.5-0.1-2.5-1.8-1.2zM599.7 23.5l-3.5 1.4 0.1 2.7 1.6 0.9 3.7-1.8-0.8-2.2zM673 26.6l-3.1-1.8-0.4 0.2-1.9 4.3 0.1 0 3.5 0.3zM568.3 36.7l-1.5-2.7 0.7-1.7 2.3-0.8 1.6 0.8 0.5 3.7zM595.4 32.5l0.7 2.4-1.4 1.5-3.1-2.3 0-1 2.2-1.6zM602.7 34.8l-2.2-0.5-0.8-2.5 3.9-1.8 0.8 0.5 0.6 2.8zM633.5 32.3l-3.5-2.4-1.7 3.5 0.8 1.5 1.3 0 2.9-1.9zM638.7 32.6l4.1 0.9-0.3 2.6-2.1 1.5-2.4-3.9 0.2-0.8zM647.3 36.2l3.1 1.4 1.4-3-0.1-0.3-2.5-1.8-1.6 1.2zM536.8 41.7l-2-0.4 0.3-3.3 2.2-0.5 1 2.1-0.5 1.4zM552.7 40l3.2-2.5 2.2 0.4-1.3 4.2-2 0.9-1.7-1.7zM587.8 40.7l1.9-3.1 2.9 2.2-0.2 1.2-2.9 1.1-1.4-0.5zM608.3 42.4l2.3-2 0.5-1.6 0 0-3.1-1.8-2.1 1.3 0.1 2.8zM654.6 37.6l3 1.7 0.3 2-3.6 2.3-0.7-0.5-0.4-2.4zM673.4 39.4l-3.9 0.6-1 2.9 0.5 0.9 1.2 0.1 4-2.5-0.1-1.5zM574.7 52.4l3.2 2.7 2-5.3-0.1-0.6-2.8-0.9zM584.2 47.7l2-2.2 1.4 0.5 1.3 3-1.5 1.5-3.1-2.3zM596.3 48.7l-0.8 0.3-2.3-0.3-1.4-3.3 3-1.1 1.7 1.6zM634.5 47.7l0.4 1.8-3.7 3.7-1.7-2.3 0.9-2 3.8-1.2zM651.7 47.9l-0.7-0.5-2.7 0.6-0.9 3.4 2.5 0.5 2.3-2.3zM662.4 49.7l1.6-2.8-0.4-0.9-2.9-1.3-3.6 2.4 0.6 1.8 2.1 1.4 2.4-0.3zM678.5 47.6l-3.1 1.6-2.6-2.8 3.9-2.3 2 2.5zM551.8 57l4.2 0.9 0.8-0.4 0.2-2-2.4-2.7-2.4 1.6zM567.7 55.5l-2.7 4.6-1 0.3-2.4-1.9 0.2-2.3 3.5-2zM632.8 56.3l3.8-3.7 1.8 3.1-0.2 0.7-2.7 1.3-2.4-0.4zM648 58.9l-0.6-2.9-2.7-0.5-1.8 0.8-0.2 0.7 1.7 2.5zM654.1 59.9l-1.6-1.1-0.5-2.9 2.5-2.5 2 1.4-0.7 4.3zM676.2 57.5l2.2 0.6 2.7-2.4 0.2-0.8-1.8-2.8-2.9 1.5-0.4 1.2zM545.3 61.7l-0.2 4.2-2.1 0.6-1.4-0.5-0.7-1.5 1.8-3.5zM549.2 61.5l-0.2 4 1.6 0.6 1.2-0.8 2-3.3-4.2-0.9zM561.8 67.2l0-3.2-2.3-1.9-0.9 0.5-2.2 3.5 4.4 1.5zM570.8 65.2l0 0.8-3.4 3.4-0.4-0.1-1.2-1.2-0.1-3.1 1-0.3zM578.4 62.5l-0.6-0.3-2 2.1 0 0.8 1.8 4.2 2.6-2.1zM603.3 64.5l1.9-1.2 0.4-1.6-1.9-2.2-3.3 2.3zM619.3 68.5l3 2.1 0.3-0.1 2.6-2.5-0.5-2.4-2.7-1-2.3 1zM629.6 66.4l1.2 0.4 3.5-0.5-0.9-4.5-2.4-0.4-1.9 2.7zM682.4 64.9l2.1 1.7 1.6-0.9 1.4-3.1-3.2-2.7-3.1 2.6zM539.4 70.8l1.3 0.5 0 4.4-1.6 1.1-3.2-1.6 0-1.9zM585.9 73.3l-1.2-1.8-1.7-0.2-2.8 2.3-0.2 0.6 3.9 2.4zM600.9 75.6l2.4-2.1-1.7-3.3-2.9 2 0 0.4zM628.2 71l1.1 0.4 1.7 4.2-3 0.6-2.2-2.8zM657.5 74.3l-0.2-0.1 0.6-2.3 4.1-1.3 1.1 1.1 0.3 1.5-2.8 1.9zM668.3 71.4l2.7-2.5 1.6 2.9-0.9 2.8-0.1 0-3-1.7zM681.8 74.8l-5.4 0 0.9-2.8 3.1-2.6 2 1.6-0.2 3.5zM537.4 80.4l-3.4-1.6-1.5 1.4 1.2 3 3.7-0.1zM583 81.8l-0.2 0.4-4.4 1.6-2-1.6 1.5-3.9 0.7-0.4 3.7 2.4zM594.7 76.4l2.1-0.9 2.2 3 0 1.6-1.5 1.1-2.9-1.3zM613.3 79.7l-1.3 2.9 1.8 0.9 2.9-1.7-0.3-1.7zM634.7 82.3l-1.5 0.8-3.7-1.2 0.5-1.8 3-0.7 1 0.4zM649.9 82.9l-1.9-1.6 0.6-2.9 1.8-0.9 2.2 0 0.2 0.1-0.2 4.9zM658.4 85.1l2-2.3-0.8-3.3-3.2-0.7-0.1 4.8zM669.1 81.4l0.7-3.5-3.1-1.8-3 1.9 0.8 3.4zM559.6 90.8l-3.5 2.9-1.8-2.8 0.9-2 3.4-0.4zM563.9 88.9l2 0.8 0.2 0 2.3-4.3-4-1.4-0.4 0.2-1.1 2.5zM591.7 83.8l2.9 1.3-0.8 3.1-2.7 0.7-1.5-0.3-1.2-3.8 0.2-0.3zM599.8 85.9l1.5-1 3 1.2-0.8 4.3-3 0.1-1.4-1.6zM619.2 89.4l2.3-1.1-0.1-1.8-2.3-1.9-3.1 1.9 0.6 1.4zM692.4 90.9l0 0 0-0.4-1.8-1.6-2.5 0-1.3 1.5 3.2 2.8 0.3-0.1zM552.7 96.6l0 0.3-3.7 2-2.5-1.4 1.8-3.6 2.7-0.2zM576.7 97.7l1.6 1.3 2.7-1 0.8-2.8-3.6-1.7-1.7 3.6zM616.7 93.8l-1.4 3.6-1.6 1-1.3-0.7-0.9-1.8 2.6-3.6zM626.1 95.2l0.3-1.3-2.5-1.7-2.3 1-1.3 3.6 4 0.8zM675.4 99.2l-1.9-0.8-0.1-2.6 3.9-0.5 1 2.7zM565.3 103.1l-1.6-2.7-3.2 1.4 0.5 1.8 2.8 1.5 0.3-0.2zM631.7 105.6l1.8-2.7 3.1 0.4 0.6 0.9 0 0.2-3.5 2.6-1.6-0.6zM578.3 109.3l3.1 2.1-0.3 3.6-2.4-0.1-2.1-1.7 0.6-2.5zM586.8 111.7l-1.5 0.7-0.3 3.6 0.6 0.6 1.4 0.1 1.3-1.1 0.7-3.6zM641.6 109.4l-1.8-2.2-3.6 2.7 0.8 2.3 3.1 0.4 1.9-1.9zM676.7 109.9l-2 1.5 3.5 2.8 1.6-0.7-0.9-3.6zM537.3 116.8l-0.5 0.6-1.3 4.4 1.7 1.6 3.5-1.9 0-4.2zM549.8 119.8l-1.5-2.6-3-0.4-0.3 0.2 0 4 0.9 0.6zM558.6 117.7l0.4-0.9-3.9-2-2 1.5 1.5 2.9 1.3 0.7zM594.4 122.5l0.2-3.7-3.4-0.2-1.4 1.2 2.3 2.9zM672.2 113.5l-0.8 1.4 0.3 4.7 3.4-0.8 0.9-2.5-3.5-2.8zM545.9 129.4l-2.3-3.3-0.9-0.7-3.5 2-0.1 0.5 2.5 1.9zM553.6 124.6l-1.2-0.7-3.8 1.7 2.1 3.1 0.1 0.1 2.9-0.9zM560.4 121.9l1.3 2.9-1 3.1-1.3 0.5-1.5-0.8-0.2-3.6zM566 125.2l3.3-0.2 0.5 0.7 0.1 0.7-2.3 2-2.6-0.2zM574.5 126.2l-0.1-0.7 1.9-1.5 3 1.8-0.1 1.4-2.6 0.6zM611.8 125.4l1.2 3.1 1.2 1.2 2.9-1.7 0.5-3-0.2-0.3-3.1-0.4zM633 124.4l-1.7-1.7-0.6 0.1-2.3 1.8 1.9 4.2 0.3 0.2 2.2-1.4zM656.9 128.7l-3.6-4.2 0.7-0.8 4.8 0.6 0.3 0.4-0.7 3-1.3 1.1z"/>
</g>
<line x1="667" y1="122" x2="675" y2="122" stroke="#111" stroke-width="1.3"/><g filter="url(#sm)" fill="#9c9c98" opacity="0.5"><ellipse cx="631" cy="79" rx="7" ry="4.5"/><ellipse cx="636" cy="107" rx="9" ry="5"/></g>
</g>
<clipPath id="c7"><rect x="385" y="131" width="148" height="106"/></clipPath>
<filter id="Fc7" filterUnits="userSpaceOnUse" x="379" y="125" width="160" height="118" color-interpolation-filters="sRGB"><feTurbulence type="fractalNoise" baseFrequency="0.15" numOctaves="2" seed="7" result="t"/><feDisplacementMap in="SourceGraphic" in2="t" scale="2" xChannelSelector="R" yChannelSelector="G" result="d"/><feGaussianBlur in="d" stdDeviation="0.55" result="b"/><feTurbulence type="fractalNoise" baseFrequency="0.8" numOctaves="1" seed="18" result="n"/><feColorMatrix in="n" type="matrix" values="1 0 0 0 0 1 0 0 0 0 1 0 0 0 0 0 0 0 0 1" result="g"/><feComposite in="b" in2="g" operator="arithmetic" k1="0" k2="1" k3="0.45" k4="-0.225"/></filter>
<g clip-path="url(#c7)"><g filter="url(#Fc7)"><rect x="379" y="125" width="160" height="118" fill="#d6d4cc"/>
<path fill="#bea282" stroke="#bea282" stroke-width="2.2" stroke-linejoin="round" d="M423.3 127.4l-1 3.6-3.3 0.2-0.9-0.6-0.3-3.1 3.2-2zM427 127.8l2.2-0.5 1.2 0.7 0.5 3.4-2.8 1.8-2.2-1.7zM484.5 131.3l4 0.5 1.7-1.7 0-0.4-2.8-2.3-3.6-0.4zM497.6 125.5l-2.9 4.4 0 0.4 3.2 2.1 3.6-0.5 0 0-0.7-3.2zM512.3 125.5l2.6 2.7 0 1.2-1.6 1.7-2.7-0.8 0.7-4.5zM380.2 134l-1.6 1.7 0.2 0.9 0.8 1.8 3.6-0.9 0.9-3.5zM391.3 138.3l0.1-3.8-3.4-0.6-0.2 0.2-1 3.6 1.5 2.1zM441.7 140.3l1.8-2.8-0.8-1.6-1.8-1.2-1.3 0.8-0.6 3.2zM478.2 136.5l0.7-2.3-3.8-2-2.7 1.7 0.2 0.7 3.7 2.2zM495.2 135.8l-3-2-1.4 1.5-0.5 3.4 2.1 2.1 0 0 2-2.1zM467.9 145.8l-1.2-1.9-4.7-0.4-1 1.8 1.4 2 5.4-1.3zM519.8 141.7l1.7-1.3 5.7-0.6-1.8 4.5-2.6 1.5-2.9-3.8zM380.9 149.3l-2-0.1-0.1 0.1-0.3 3.7 2.6 1.8 3.4-2.5zM422.8 147.1l-1.8 1.3-1.1 4.3 1.8 0.5 3.4-1.7-0.9-3.6-1-0.8zM437.4 149.8l-0.8 4.2 6 0.2 1.1-0.9-0.5-3.4-0.4-0.3zM509.7 150l0.1 1.7-2.4 1.8-1.7-0.7-1.6-3.9 0.2-0.3 4.3 0.1zM387.8 155l-0.9 4.9-3.1-1.4-0.4-1.1 3.5-2.5zM434.5 157.4l2.7 3 2.9-1.8 0.5-1.8-5.5-0.2-0.6 0.5zM474.8 156.7l-4.1-1.7-1.1 1 0.9 5 0.9 0.6 2.3-1.1 1.3-3.4zM504.2 156.2l1.8 0.7 0.3 1.3-3.1 4.3-2.6-2.1 1.1-2.9zM528.4 161.3l0.4-4.1 1.2-0.1 3.9 2 0.3 1-4.1 2.6zM462.4 170.2l-0.4-0.6 3.1-4.4 2.6 0 1 0.7 0.1 2.1-1.9 2.5zM488.3 162.8l0.5 2.9 3.6 0.5 1-3-1.4-1.3zM386.8 177.9l-2.7-3.7 4.7-0.7-0.1 2.8zM424.8 170.5l0.4 2.5 3.2 1.7 0.8-0.3 1.6-4.4-1.5-1.2zM531.5 178.2l1.7-1.5 0-4-3-0.8-2.5 2 0.2 1.5zM394.7 183.6l3.4 1.1 1.5-0.7-0.2-4.1-2.2-0.5-1.3 1.3zM415.6 181.1l0.7 2.5-2 3.5-0.1 0-3.5-3.6 0.3-1.7 4.4-0.8zM435.4 178.9l-4.1-0.7-0.8 0.4-0.2 3.6 2.5 1.6 3.5-1.8zM459.5 177l-2.4 3.8 0.2 0.7 1.9 1.7 0.7-0.1 2.1-3.3zM491.4 184.6l1.7-2.4-0.9-2.9-0.1-0.1-1.8 0.2-3 4.6 0.4 0.7zM393.3 186.6l3.5 1.2 0.3 4.1-3.7-0.2-1.4-0.9 1.2-4.2zM417.1 189.6l1.4 1.6 4.1-0.3 0.3-4.1-3.8-0.9zM440.3 189.9l-1.6-4.5-0.5-0.3-3.6 1.9 0.1 3.1 1.2 1zM460.1 186.8l-1.9 4.1 2.7 2.2 3.2-3.4-0.8-1.9-2.5-1.1zM450.7 198.4l-4.5-2.5 0.3-2.4 2-1 3.6 1.1zM503.1 197.1l0.2-2.6-2-2.8-2.8 1-0.6 4 2.3 1.4zM404.5 199.9l-0.4 3.1-2.8 1-2.4-1.8-0.1-0.6 2-4.3 1.6 0zM409.9 200.3l3.2 1.4-1.7 3.3-0.6 0.5-3-1.7 0.3-2.8zM450 201.9l-0.6 1.2-4.9 0.6-0.4-2.4 1.7-2.3 4 2.2zM453.9 203.7l-0.6 1.4 1.2 3.6 0.6 0.1 3.7-2.1 0.5-1.1-1.4-1.9zM460.9 201.8l1.4 1.9 3.2-0.5 1.2-3.2-4.9-1.7zM522 207.2l-1.3-4.4 3.1-1 2.2 1.4 0.2 2.5-3.5 2.5zM487.9 210.2l0.1 2-2.4 0.2-2-1.6-0.3-3 2.7-1.5zM502.6 211.6l-3.2 0.5-0.2-0.1-0.4-4.8 0.4-0.4 4.7 2.5zM533.9 213.5l3.4-1.8 0.3-1.9-1.2-1.3-3.2 0.9 0 3.8zM386.9 219.4l-3 2.8-2.8-2.2 1.8-2.3 3.5 0.3zM417.6 219.8l2.2 0.7 2-1-0.6-3.6-0.7-1-4.5 0.8zM444.5 219.1l-2.9-0.6-0.3-1.9 2-3.5 3.1 2.2-0.2 3.1zM467.3 216l3.8-1.9 1.3 1.2 0.8 2.9-3 2.7-1.3-0.4zM497.6 215.6l1.1 5.5-2 0.5-3.5-1.7-0.1-3.6 4.3-0.8zM515.2 216.4l0 0 2.2 3.6-2.5 0.4-1.8-2.4zM447.7 227.9l-1.6-1.4 0.5-4 1.7-0.6 3 1.8 0.3 1.4zM473.8 227.2l-0.7-0.4-1.1-3 3-2.7 2.6 1.5-0.5 2.6zM524.7 224.8l0.4-0.5 2.3 0.4 2.7 2.8-4.8 1.2-1.5-1.7zM387.7 233l-0.2-0.4-4-1.1-1.5 2.3 4.3 4.1zM449.1 230.5l4-2.8 1.4 1.5-0.6 3.5-4.7 0.9zM488.8 231.9l0.8 3.2-1.5 2.4-3.2-1.3-0.9-1.8 1-2 2.7-1.3zM506 228.4l4.3 2.5-1.3 4.1-1.7 0.3-3.9-1.7 0-0.9zM522.2 229.9l1.4 1.7 1.1 2.5-2.6 2.1-1.6-0.9-0.9-4.2zM528.2 233.7l-1.1-2.5 4.8-1.2 1.4 0.6-0.6 1.9-3.2 1.6zM384.8 241.1l-0.5 0.7-2.3 0.4-3.7-1.6-0.8-1.8 3.1-2.4 4.2 4.1zM396.5 237.1l2.2-0.1 1.8 2 0.2 1.8-2.4 1.9-3.2-1.9z"/>
<path fill="#b89c7c" stroke="#b89c7c" stroke-width="2.2" stroke-linejoin="round" d="M399.1 129.9l0.5-2 1.6-1.8 3.5 0.2 0.7 5-5.8-1zM414.2 130.8l-3.5 1.7-1-1-0.8-5.1 2.2-1.1 2.8 2.2zM531.3 132.6l4.2-1.5-1.6-4.4-2.1-1.2-2.6 1.8-0.2 1.9zM435.5 138.9l-1.4 1-4.1-1.7-0.1-1.9 2.9-1.8 3.3 0.9zM446.8 137.2l2.7 1.1 1.9-1.9-0.2-0.7-2.1-1.6-3.2 1.3zM455.8 131.8l3.3 3.2-1.1 1.8-3.6-1-0.2-0.6zM462.3 139.7l-0.4-2.1 1.1-1.8 3.2-2.1 1.7 1.1 0.3 0.7-1.3 4.7zM481.9 137.1l0.6-2.2 0.8-0.7 3.6 0.4-0.4 3.5-3 0.5zM528.8 136.8l-5.3 0.6 1.1-4.1 2.5-1.2 2.1 3.1-0.3 1.5zM410.4 143.2l0.5 1.8-2 2.4-2.8-0.6-0.3-0.7 0.2-3.3 2.7-1.5zM443.7 143.2l1.2 3.1 0.4 0.3 3.4-2.2-0.3-3-2.7-1.2zM474.8 139.7l-3.6-2.1-1.3 4.7 1.2 1.9 2.5-0.3zM478.9 145.6l-2.2-1.2 1.2-4 1.7-0.2 1.6 1.4-0.9 3.6zM501.4 143.4l-0.8 2.4-0.2 0.4-2.2 0-2.9-2.2 2.1-2.2zM401.6 148.6l-4.8-0.6-1.5 2-0.2 1.3 2.6 2.2 3.1-2.1 1.1-2.2zM468.2 148.6l-5.1 1.2 0.6 2.5 3 0.3 1.1-1zM476.3 148.4l-2.2-1.2-2.4 0.3-0.1 0.2-0.4 3 4.1 1.7zM531.1 149.4l-3.9-1.7-2.7 1.5-0.2 2.6 2.8 1.7 1.3-0.1zM413.9 157.1l-0.2 1.1-2.3 3-3.6-1.2 0.9-2.5 3-1.6zM453.1 160.2l-0.2-2.2 1.4-0.6 2.9 0.2 1 2.8-3.8 2.2zM487.8 154.9l3 1.2 0 3.1-3.7 0.9-0.1-0.1-0.7-2.9zM515.8 159.7l0.9-4-4.2-0.8-2.3 1.7 0.2 1.2 3.3 3.5zM388.5 170.9l1.8-1.2-1.8-3.3-0.7-0.3-4.8 3.3 0.4 2 0.5 0.2zM399.2 163.8l-0.4 2.5-3.3 1.8-0.9-0.3-1.7-3.1 4-3.5zM432.7 159.8l3 3.3 0.1 3.1-2.6 0.3-1.6-1.2-0.4-3.6zM450.8 163.3l-4.2 2.3-0.6 2.7 4.8 0.4 1.2-0.8 0.2-2zM501 165.6l0.5 2.5-5.1 0.6-1-1.4 1.1-3.3 1.8-0.5zM521.1 164.8l-3.1-1.3-2.2 1.8-0.2 1.3 2 2.3 2.4 0.1zM410.4 172.3l-2.7 1-0.7 2.8 1.9 2.1 4.7-0.8zM461.7 174.5l2.3 2.6 2.1-1-0.2-2.5-4.1-0.3zM476.8 171.6l4-1 1.4 0.9 0 1.3-2 1.6-2.4-0.9zM491.8 174.9l1-3.8-0.9-1.4-3.7-0.6-1.8 2.2 0 1.4 3.5 2.3zM502.8 176.4l1.8-4.3 1.4 0.4 1.3 4.1-2.1 2.4zM391.7 183.3l1.2-2.9-2.7-1.5-2 1.5 0.2 1.7 3.2 1.2zM404.4 184.4l2.2-1.7 0.3-1.8-2-2.2-2.5 1 0.2 4.2zM484.3 182.9l-3-1.7 0.4-3.8 2.2-1.8 3.5 2.4zM497.4 181.9l3.9 2 1.7-1.9 0-0.3-2.3-2.7-4.1 0zM513.2 181.5l0.1-2-0.1-0.2-3.4-0.3-2.2 2.6-0.1 0.3 3.5 2zM519.5 185.5l1.8-2.6-0.3-1.9-4.2-1-0.2 2.1zM389.8 186.2l-1.1 3.9-2.9 1.1-2.1-2.3 0.1-2.4 2.8-1.5zM402.5 193l-1.5 0-0.8-0.6-0.3-4 1.5-0.8 1.7 0.5 1 3zM445.1 184.2l-3.1 1 1.5 4.4 1.4 0.8 1.9-0.9 0.3-3.3zM494.2 187.2l1.8-2.6 4 2.1-0.3 1.8-2.8 1.1-1.3-0.4zM394.4 197.8l2.4 2.1 2-4.3-0.8-0.7-3.8-0.2zM411.7 196.7l3.3 1.5 1.1-0.8-0.1-3.7-1.4-1.6-0.1 0-1.4 0.6zM443.2 193.7l-0.2 2.5-1.9 2.5-3.4-1.6-0.4-3.1 4.4-1.1zM454.2 200l3.7-0.1 0.9-3.1-0.1-0.1-2.6-2-0.8 0.2-1.3 4.4zM462.9 195.9l4.8 1.6 0.9-0.6-0.6-3.3-1.8-1.3-3.3 3.5zM487.1 196.1l0.5 1.6-0.4 0.9-1.2 1.1-5-2.8 0.7-1.6 3.1-1.7zM388.1 200.1l-0.6 2.7-4.5 0.3-0.2-2.2 2.3-3.6zM416.5 201.8l-1.7 3.4 5.7 0.4-0.4-3.4-2.5-1.2zM439.6 202.2l0.3 2.4-0.3 0.7-1.4 0.2-4.1-0.8-0.2-2.1 2.6-1.9zM470 200.4l0.9-0.6 3.2 0.6 0.8 3.1-3.3 3.7-2.8-3.6zM496.8 203.4l1-2.6-2.4-1.5-3.8 0.4-0.3 0.9 3.1 3.2 2.1 0zM505.7 206.6l1.9-1.8 0.1-1.6-2.9-2.7-2.9 1.1-1 2.5zM403.5 207.8l2.7-0.9 2.9 1.7 0.3 3.1-1.6 0.8-4.8-1.3zM496.3 212.4l-4.3 0.8-0.7-0.5-0.1-2.2 2.6-3.1 2.1 0zM506.3 212.6l2.7 3.2 1.6-0.3 2.2-1.8-3-4.9-0.3-0.4-1.9 1.8zM460.9 217.9l3.2-1.4 0.2 0 1.6 4.5-2.3 1.1-2.8-3.9zM503.9 215.3l2.6 3.2-1.9 4-2.9-1.4-1.1-5.3zM520.3 220.2l-2.3-3.8 3.8-1.6 2 2.5-0.5 3.7-0.5 0.5zM526.6 221.3l0.5-3.8 3.5-0.8 0.8 0.4 1.2 2.8-3.7 1.8zM390.7 224.7l-2.9-2.4-3 2.8-1.1 2.9 0.3 0.5 3.9 1zM434.6 225.4l0.5-2.6-3.9-1.3-2.1 1.4 1.7 3.8 0.7 0.4zM442.5 226.3l-2.2 0.6-1.9-1.6 0.6-2.5 1.1-0.9 2.9 0.6zM465.9 229.6l3.9-1.9-1.1-3.1-1.3-0.5-2.4 1.2-1 2.1zM486.3 225.2l-4.7-2.4-0.5 0.1-0.6 2.8 2.8 3 3-1.3zM500.6 224.5l2.9 1.3 0 0.1-2.5 4.1-3.2-2.2 0.9-2.8zM421.7 234.5l1.3-2.8-3-2.2-1.6 2.5-0.2 1.8 1.3 0.5zM457.5 233.3l0.8 1.2 4.4 0.1 0.2-2.5-1.8-2.1-3.1 0.1zM473 234.2l-1.6 2.4-4-0.7-0.4-0.6 0.2-2.6 3.8-1.9 0.7 0.3zM496 230.6l-3 0.8 0.9 3.3 4.4 0.1 0.9-1 0.1-1zM514.3 231.3l-0.6 0.1-1.2 3.9 1.3 1.5 3.5-1.3-0.9-4.2zM424.9 240.9l-2.2 3-1.6-1.1-0.4-4.9 2.2 0.1 2 2zM435 241.9l-2.5 1.2-3.5-2.3 0-1 3.8-2.3 2.4 1.1zM448.5 237.4l0.5-0.6 4.7-1 0.8 1.3-0.5 2.8-3.3 1.2-1.5-1.4zM476.2 236.8l-1.5 2.3 0.8 2.2 1.2 1.5 1.6-1 2.4-3.1-0.9-1.9zM501.8 236.5l3.9 1.7-1.6 3.9-0.7 0.1-2.5-2 0-2.7zM520.4 239.4l-1.6-1-3.5 1.4 0.3 1.6 2.3 1 2.5-1.8zM526.4 237.1l-2.4 2 0 1.1 2 2 2.8-0.8-1.3-3.9z"/>
<path fill="#c2a688" stroke="#c2a688" stroke-width="2.2" stroke-linejoin="round" d="M437.9 132.2l-3.4-0.9-0.5-3.7 4-1.6 2.2 1.4-0.9 3.9zM508.6 125.5l-1.2-0.5-3 2.8 0.6 3.1 2.9-0.8zM518.7 128l3.3-3.6 3.3 2.6-0.2 1.9-2.8 1.3-3.6-0.9zM397 133.1l-2.3 1.3-0.2 3.9 1.5 1.5 3.7-1.3-2.3-5zM423.2 142.3l-2.5-3.1-0.5-3.9 3.5-0.2 2.2 1.8 0.1 1.8-2.5 3.6zM508.7 133.7l-2.8 0.8-0.1 0 0.9 4.1 2.4 0.5 3.4-0.9-1-3.7zM385.7 143.7l-3.7 2.3-2.2-0.2 0.6-4.2 3.9-1 1.5 2.3zM402.4 145.8l0.2-3.6-1.3-0.7-3.8 1.4 0 2.3zM420.6 144.5l-2.4-3-3.7 1.3 0.6 1.8 3.7 1.2zM440.3 143.7l1.1 3-5.3 0.2-0.3-0.5 0.3-3.3 1.4-1zM452.1 140.6l1.7-1.9 3.8 1 0.5 2.3-1.1 1.9-1.8 0.5-2.8-0.8zM486.7 147.7l3-3.9-2.2-2.2-3.1 0.5-1 3.8zM508.3 145.8l-4.6-0.2 0.9-2.7 1-1.2 2.5 0.6zM512.6 147.2l3.6-4.8-0.1-0.2-1.3-1-3.6 1 0.1 3.5zM417.6 149l-3.8-1.1-2.1 2.4 1.5 2.7 2.1 1.1 1.1-0.6zM428.1 148.7l4.8 0.5 0.3 0.5-0.7 3.8-0.6 0.6-2.9-1.9zM489.4 151.1l3 1.2 0.9-0.3 1.8-3.7-3-2.3 0 0-3 3.9zM496.6 153.2l3.5 1.6 2.5-1.3-1.7-4.1-2.4 0zM392.3 154.9l-1.8 0.6-0.9 5 0.5 0.9 0.7 0.2 4.2-3.5-0.2-1.1zM449.5 160l-0.3-2.4-3.3-1.5-1.1 0.9-0.5 2 0.9 3.4zM462.3 160.1l-1-2.9 1.4-1.5 3.1 0.4 0.8 5.1-2.4 0zM478.5 157.8l-1.3 3.6 1.6 0.7 4.7-1.1-0.7-3zM494.9 155.7l3.5 1.7-1.1 2.9-1.9 0.5-1.4-1.3-0.1-3.4zM523.2 161.3l-3.1-1.3 0.9-4.2 1.6-0.9 2.7 1.7-0.4 4.1zM382.5 161.7l3.3 1.5 0.5 0.9-4.9 3.5-0.7-0.9-0.6-1.3zM409.7 164.6l-3.7-1.3-2.2 0.7-0.4 2.8 3.2 2.7 2.8-1.1 0.7-1zM419.3 166.7l-5.3 0.1-0.4-2.9 2.3-3.1 3.4 4.7zM455.8 165.7l4.1-2.4 2 1.2-3 4.3-3.2-1.2zM482.4 167.6l1.5 0.9 1.8-2-0.6-3-0.1-0.1-4.6 1.1zM524.5 165.2l-1.1 4.5 2.4 1.3 2.5-2.1-0.2-2.8-1.8-1.5zM444.4 170.9l-0.9 0.5-0.1 0.7 2.9 4.4 3.1-1.2 0-4zM384.3 179.3l-2.5-3.4-0.5-0.2-2.5 2.4 0.5 2.3 2.4 2.1 2.8-1.6zM465.2 180.1l-2.1 3.4 2.5 1.2 4.2-2.5-0.6-1.8-1.7-1.4zM524.9 182.3l-0.3-1.8 1.9-2.3 3.3 2.6 0 0.3-2.3 2.1zM407.2 190.3l-1-3.1 2.2-1.7 3.8 4-1.4 0.7zM427.6 191.8l-1.1-1 0.3-3.9 1.6-1 2.5 1.6 0.1 2.8zM456.8 186.2l-1.9 4.2-0.8 0.3-3.4-1.1 0.2-3.2 4.1-1.8zM472.9 185.6l-0.2 2.6-2.9 2.1-1.8-1.2-0.8-2 4.1-2.4zM483.3 187.3l-0.4-0.8-3-1.8-2.8 0.9-0.3 2.7 2.8 3.3 3.3-1.8zM490.7 188.3l-3.8 0.1-0.3 2.3 2.2 2.5 3.4-3zM521.5 188l1.8-2.4 2.8 0.9 0.4 3.7-2.2 0.6-3-1.2zM389.7 197.7l-2.7-2.6 0.1-0.6 2.9-1.1 1.2 0.9 0.1 2.9zM424.8 197.8l-2.8 1.5-2.3-1.2-0.1-3.4 4.1-0.3 1.1 0.9zM434 197.4l-2.9 2.1-2.3-1.8-0.1-2.6 3.7-1.6 1.2 0.9zM477 194.5l-0.7 1.5-1.2 1.1-2.9-0.5-0.5-3.1 2.8-1.9zM507.3 197.6l0.2-2.6 4.3-2.1 2.4 0.8-0.5 4.8-3.5 1.7zM526.2 194.2l-0.4 4 2.1 1.4 3-2.2-0.9-3.3-1.6-0.5zM426.7 201l-3.1 1.7 0.5 3.5 0.1 0.2 4.2 0 1-1.4-0.3-2.2zM511.8 205.5l6.3 1.4-1.2-4.3-1.9-0.8-3.4 1.7-0.1 1.6zM531.9 206.2l-2.1-1.1-0.1-2.3 3-2.3 2.7 1.4-0.1 3.4zM413.8 211.8l-0.2-3.2 0.6-0.5 5.6 0.4 0.1 0.2-0.7 2.7-4.7 0.8zM516.3 213.1l0 0 3.6-1.5 0.1-0.8-0.6-0.9-5.8-1.3zM393.4 221.1l3.1-1.8 0.2-4.3-4.5-0.4-1.7 1.3-0.5 1.4 0.5 1.5 2.8 2.3zM413.9 219.9l-1.6-4.1-0.7-0.4-1.6 0.8-1.5 3 3.1 2.4zM438 218.9l-0.3-2.1-2.7-1.9-2.1 0.2-0.4 3.3 4.3 1.4zM453.5 220.1l3.2-3 0.1-0.2-2.7-3.8-0.6-0.1-2.7 1.9-0.3 3.3zM405.1 223.1l1.7-0.9 3.2 2.5-0.3 0.7-2 1.9-1.9-0.9zM416 223.3l2.3 0.7-0.1 2.3-1.6 2.6-3.2-3.2 0.3-0.7zM455.6 225l-0.3-1.4 3.3-3.1 2.8 4-1 2.1-3.4 0zM507.4 224.7l2-4 1.6-0.4 1.9 2.7-0.4 4.3-0.5 0.1-4.5-2.5zM518.9 223.4l-2.5 0.4-0.3 3.9 2 0.1 2.5-1.1 0.7-2.1zM391.4 231.4l-0.1-0.3 2.6-4.6 0.1 0 3.2 3.9-0.3 2.4-2.3 0.1zM410.4 232.3l3.6 1.6 1-0.4 0.1-1.9-3.1-3.2-2 1.8zM427.3 236.6l-1.9-1.9 1.3-2.7 2.3-1.2 0.8 0.3 1 3.3zM476.7 233.1l3.6 0 1-2.1-2.7-3-3.2 1.9zM460.6 242.8l2.3-1.9 0.8-2.5-0.3-0.6-4.7-0.1-0.6 2.8zM492.7 237.9l-1.6 2.5 0.7 2.3 1.6 0.9 3.7-3 0.1-2.6zM531.1 237.2l3.2-1.7 2.8 4.1 0 0.1-4.2 1.9-0.5-0.2z"/>
<path fill="#b49878" stroke="#b49878" stroke-width="2.2" stroke-linejoin="round" d="M385.2 127.2l0.6 3.5-0.2 0.1-4 0-1-3 3.9-1.3zM442.6 131.3l0.8-3.7 1.7-0.7 2.4 0.5-0.1 3.9-3 1.1zM453.3 126.6l-2.5 0.5-0.1 3.9 1.9 1.4 1.5-3.2-0.3-2.4zM457.5 126.5l4.8-0.8 1.3 1.2 0.9 3.1-3.3 2.2-3.3-3.2zM481.3 130.7l-0.7-3.9-0.4-0.3-1.3 0.3-1.8 2.8 3.5 1.9zM407.6 137.8l-2.9 1.6-1.4-0.7-2.2-5 6 1.1 1.1 1zM416.3 134.7l0.4 3.6-3.6 1.3-1.7-1.8 0.6-1.9 3.4-1.7zM502.6 135.3l-3.4 0.5-0.8 3 4.2 1.6 0.9-1.1zM517 132.6l3.5 0.8-1.1 4.3-1.6 1.3-1.4-0.9-1-3.8zM392.6 147.3l-3.2-3.3 0.2-0.8 3-1.5 1.5 1.5-0.1 2.2zM426 144.5l2.4-3.5 4.1 1.7-0.4 3.3-5.1-0.6zM535.4 145.5l-1-2.6-3-2.5-0.1 0.1-1.6 4.1 3.5 1.5zM391.2 149.8l-3.3-3.4-3.6 2.2 3.9 3.2 0.9 0.1 1.9-0.7zM409.9 153.4l-2.9 1.5-2.5-2.7 1.1-2.1 2.8 0.6zM447.2 149.7l0.4 3.1 3 1.4 1.4-0.7 0.9-5.1-2.6-0.7zM455.7 153.4l0.9-5 1.6-0.5 1.4 1.9 0.5 2.4-1.4 1.5zM485 152.3l-1.5 2.3-4.2-0.1-0.2-0.5 1.1-4.2 1.4-0.4 3.2 1.7zM514.4 149.7l0.1 1.6 4.3 0.9 1.6-1 0.2-2.4-2.8-3.6zM537 149.1l-2.3 0.7-2.7 3.9 4.2 2.1 2.1-3.7-1-2.9zM402.2 154.5l2.5 2.7-0.9 2.5-2.1 0.7-2.4-2.7-0.2-1.1zM420.2 157.3l2.1 2.3-1.8 3-3.2-4.3 0.1-0.9 1.1-0.6zM427.4 154.7l3.2 2.1-0.1 0.3-1.6 1.9-2.8 0.2-2.4-2.7zM427.8 162.1l0.4 3.8-4.8 1.8-0.6-0.8 0-1.3 2.1-3.3zM443 165.2l-0.9-3.1-3.1 1.9 0.1 3 2.4 1.3 0.9-0.5zM472.5 167.4l-0.1-2.1 2.6-1.3 1.7 0.7 2.1 3.3-4.4 1.1zM511.3 165.2l-3.4-3.8-3 4.2 0.5 2.4 0.1 0.1 1.5 0.4 4.1-1.9zM531.8 165.7l4-2.5 0.9 0.9 0 4-1.8 0.9-2.8-0.8zM394.1 177.3l1.2-1.3-1.2-3.8-0.9-0.2-1.6 1.1-0.1 2.7zM397.6 171.9l3.3-1.7 2.9 2.4-0.7 2.6-2.2 0.9-2.1-0.5zM419.7 170l-5 0.1-0.7 0.9 3.1 5 0.2 0.1 3.3-2.9-0.3-2.5zM437.2 169.6l2.6 1.4-0.1 0.8-2.5 3.5-4.3-0.7 1.8-4.7zM454.6 170.7l3.2 1.3 0.4 0.6-0.1 1.1-2.4 3.9-2.2-2.2 0-3.9zM469.1 173l1.9-2.6 1.9 1.7 1.2 2-3.1 3.1-1.7-1.4zM495.8 175.5l4 0.1 1.8-4.3-0.2-0.1-4.8 0.6-1 3.6zM515.3 171.6l-1.4 4.3-3.5-0.3-1.5-4.4 4.2-2zM521.5 178l-3.9-1-0.1-0.2 1.3-3.8 2.3 0 2.2 1.2 0.1 1.4zM419.7 179.5l0.8 2.7 4 0.9 1.8-1 0.2-3.7-3.4-1.8zM443.8 180.8l-3.3 1-0.4-0.2-1-3.2 2.5-3.6 2.8 4.3zM453.6 180.8l0.2 0.7-4.3 2-2-2.1 0.6-1.7 3.1-1.1zM475.8 176.7l2.6 1-0.4 3.9-2.8 0.9-1.7-1-0.7-1.8zM510 189.5l-4.3 2-2.1-2.8 0.2-1.9 1.8-1.9 3.5 2zM518 187.8l-2.7-3.2-2.2 2.4 0.9 2.4 2.2 0.9 1.6-0.9zM529.3 186.2l2.6-2.4 2.4 3.3-1.1 2.4-1.7 1.2-1.7-0.6zM408.8 196.9l1.4-4.1-3.7 0.2-1.7 2 2 2.6zM493.9 192.2l1.3 0.4-0.6 3.8-3.5 0.3-0.6-1.6zM519.6 193l2.9 1.2-0.4 3.9-2.8 0.9-1.7-0.8 0.4-4.4zM391.3 200.7l-0.6 2.6 1.9 0.9 2.7-1.4 0-0.5-2.3-2.1zM483.8 202.6l-2.8 1.6-2.3-1-0.7-3 1.2-1 4.9 2.6zM489.5 207.5l-1.9-3.9 0.3-0.7 1.1-1.1 2.8 2.9zM385.8 214.9l0.6-1.5-4.4-5.8-1.5 1.2-0.7 3.4 2.5 2.4zM384.1 206l4.2-0.3 1.8 0.8-0.3 3.6-1.6 1.3-4.1-5.4zM399.2 207.3l-0.6 3.4-0.3 0.3-4.2-0.4 0.3-3.5 2.6-1.4zM427.8 209.2l-4 0-0.7 2.7 0.7 1 4.6-0.8zM436.2 208.4l-4.3-0.9-0.9 1.3 0.6 2.8 0.3 0.5 2-0.2zM441.3 210.3l-0.7-1.8-1.5 0.2-2.3 3.5 2.4 1.7zM444.3 209.4l-0.8-2 0.4-0.7 5.5-0.7 1.3 3.7-2.9 2.1zM459.4 215.2l-2.7-3.6 3.6-2.1 2.2 4.4zM465.2 212.7l-2.1-4.4 0.4-1 2.9-0.5 2.6 3.3 0 0.8-3.5 1.8zM479.5 210.8l-4.9 1.3-1.3-1.2 0-0.9 3.4-3.6 2.5 1.1zM524.1 210.9l3.3-2.5 2 1-0.1 4-3.4 0.8-1.9-2.5zM400.8 218.8l0.2-4 0.3-0.3 4.8 1.3-1.4 3-1.7 0.8zM427.1 219.7l-1.7-0.4-0.6-3.8 4.5-0.8 0.4 0.4-0.5 3.1zM482.8 215.4l-2.8 3.7-0.5 0.1-2.5-1.4-0.8-2.7 4.6-1.3zM489.8 219.9l-1.7 2.4-4.6-2.4 3-3.8 2.5-0.2 0.7 0.5zM396.5 224l3-1.7 2.3 0.7 0.8 3.3-2.8 1.7zM425.7 223.3l-1.7-0.4-2.1 1-0.1 2.3 3.1 2.3 2.5-1.3zM494.8 224.9l-0.9 2.8-2.9 0.8-1.2-0.9 0.1-2 1.6-2.4zM533.6 227.2l-2.7-2.9 3.8-1.8 1.7 1-0.3 3.6-1.2 0.8zM401.5 231.3l2.7-1.6 1.8 0.8 0.5 2.1-3.6 3.1-1.7-2zM437 235.2l-2.6-1.1-1.2-3.6 3.3-1.8 2 1.7-0.4 4.3zM445.4 235.1l0.5-0.7-0.1-3-1.7-1.4-2.4 0.6-0.4 4.2zM389.6 235.2l-1.3 4.4 0 0.6 3.1 0 1.3-3.6zM404.8 240.7l-0.2-1.9 3.7-3.3 3.6 1.6-1.8 4.3-3.5 0.2z"/>
</g>
<line x1="516" y1="232" x2="524" y2="232" stroke="#111" stroke-width="1.3"/>
</g>
<clipPath id="c8"><rect x="537" y="131" width="147" height="106"/></clipPath>
<filter id="Fc8" filterUnits="userSpaceOnUse" x="531" y="125" width="159" height="118" color-interpolation-filters="sRGB"><feTurbulence type="fractalNoise" baseFrequency="0.15" numOctaves="2" seed="8" result="t"/><feDisplacementMap in="SourceGraphic" in2="t" scale="2.5" xChannelSelector="R" yChannelSelector="G" result="d"/><feGaussianBlur in="d" stdDeviation="0.6" result="b"/><feTurbulence type="fractalNoise" baseFrequency="0.8" numOctaves="1" seed="19" result="n"/><feColorMatrix in="n" type="matrix" values="1 0 0 0 0 1 0 0 0 0 1 0 0 0 0 0 0 0 0 1" result="g"/><feComposite in="b" in2="g" operator="arithmetic" k1="0" k2="1" k3="0.25" k4="-0.125"/></filter>
<g clip-path="url(#c8)"><g filter="url(#Fc8)"><rect x="531" y="125" width="159" height="118" fill="#d8d8d2"/>
<path fill="#d6cea2" stroke="#d6cea2" stroke-width="3" stroke-linejoin="round" d="M579.2 123.8l-3.7 1.1 0 3.3 3.1 3 3.9-4.7zM627.8 136.5l2.6-4.1 3.1 0.6-1.2 6.3-1.5 0.8-2.6-2.5zM572.2 150.4l3.7-7.5-0.2-0.2-6.3 0.2-2.1 1.5-0.1 1.1 3.1 5.9zM576.1 151.1l3.5-7.3 2.3 1 0.4 2.6-2.8 4zM606.5 145.5l-2.4-3.8-4.2 5.2 0.6 2 1.6 1 0.8-0.1zM680.7 150.6l2-1.7 0.6-2.3-2.5-3-4.1 0.8-0.7 4.5zM585.3 158.3l0.7 0.2 1.4-3.3-2.8-4.2-2.8 3.9zM590.4 159.5l0.6 1 4.8 0.9 2.3-2.9 0.3-3.7-1.6-1-5.1 2.4zM533.2 169l4.7 2.5 2.3-2.5-1.6-3.2-4.1-0.5zM576.5 165.6l0.5 2.2 4.1 4.2 0.1-0.1 2.9-2.2 1.2-5.1-0.6-1-0.7-0.1zM630.4 168.9l-2.8-2.9-1.7-0.5-2.5 0.8-0.9 3 1.5 1.8 6.3-2.1zM564.6 178.3l0.3-3.2-3.4-3.1-2.2 1.3 0.8 4.3 2.8 1.5zM685.2 178.3l0.9 0.6 3.3-3 0.1-0.8-3.6-5-0.5-0.1-2.6 3.7zM602.1 187.8l-3.3-2.7 0.6-2.4 3.6-1.3 3.3 2.5-0.1 0.9zM600 196.9l-2.1 1.6-4.3-2.5 1.4-6.1 1.2-0.6 3.4 2.9zM629.5 197.1l-0.9-4 3.2-2.8 2.7 2.3-1.2 5.2-1.9 0.8-0.4 0zM642.9 198.2l0.5-4.8-3.1-1.5-1.7 0.8-1.3 5.1 4.8 1.2zM581.6 202.1l0.8 5.2-1.5 1.5-4-1.2 1.4-5.2zM586.3 200.7l0.9 5.1 4.1 0.8 3.4-4 0-0.3-4.1-2.3-3.8 0.1zM603.8 201.9l-2 1.5 0 0.3 2.6 4.3 5.7 0.7 0.4-1-2.7-5.6zM662.3 208.4l-1.9-5.2-2.2-1.1-1.1 3.6 2.4 3.2zM656.7 212l-2.3-3.1-3.8 2.4 0.2 2.2 3.1 1.6 0.4-0.2zM689.9 210.9l-2.8-1-5.2 1.8-0.3 3.4 3.6 2 3.7-3.1zM593.3 222.1l1.5 0.9 0.6 2-3.6 4.6-3.4-2 0.7-4.5zM609 219.9l-0.9 4.6-5.1 1.1-2.4-1.7-0.6-2.2 1.9-1.4zM614.1 220.1l-0.8 4.2 2 2.5 3.7-1.5-1.4-4.8-2.8-1.2zM684 225.9l-4 1.9-4.1-2 1.9-5.1 1.1-0.7 3.6 1.9zM582.7 235.4l3.1 2.6 3.6-2.2-0.3-1.7-3.5-1.9-0.1 0zM620.1 236.8l-3.1-3 0.3-2.2 3.8-1.6 1.7 0.5 0.2 5.3zM633.4 230.5l-2.6-1.3-3.1 1.5 0.2 5 3.5 1.4 1.7-1.5zM652.2 234.5l-2.7-1.1-3.2-5.6 7-0.6 0.7 0.8zM670.6 230.9l2.4-1 4.4 2.2-0.1 4.1-4.1 1.2-3-4.6zM616.6 242.3l-4.6 2.1-0.8-0.5-1.1-4.5 3.9-2 3.2 3.1z"/>
<path fill="#d2ca9a" stroke="#d2ca9a" stroke-width="3" stroke-linejoin="round" d="M544.4 139.6l1.4-0.4 1.5-3.2-5.1-2.3-2.5 1.3 1 3.4zM617.4 142l0.2-5.2 2.8-0.4 2.4 1.3 0.5 1-5.5 3.6zM672.7 138.5l0.1-4.5 1.7-2.2 4.6 5.7-0.1 1.6-4.4 0.7zM683.4 156.1l2-1.7 4.7 3.4-0.4 3.4-3.9 2.2-0.6-0.1-2.5-2.8zM549.9 160.9l-1.8-1.9-4.8 2.9-0.7 2.1 1.5 3.2 2 0.4 2.9-1zM618 165.5l-1 3.1-3 0.7-2.9-1.2-0.1-3.1 3.7-4zM546.6 179l-3.3 0.7-3.2-4.3 0.3-0.8 2.4-2.4 2 0.4zM555.5 177.6l-4.1 1.9-1-0.6-1.8-6.3 2.9-1 3.2 1.3zM569.6 178.4l4.5 1 2.9-3.7-3.8-3.9-3.3 3.3zM596.6 177.5l0.9 1.1 3.6-1.2 0.7-4-3.1-1.4-2.7 3.3zM606.3 173.5l-0.7 4.2 3.5 2.7 1.2-0.8 1.2-5.9-2.9-1.2zM636.7 171.8l3.7-1.3 2.7 3.9 0 2-2 1.2-4.9-0.7 0.4-4.9zM568 182.6l4.7 1 0.6 2-2.6 3.9-5-2.3 0.5-3.7zM639.5 182.4l-1.4 4.6-1.7 0.8-2.6-2.2-0.6-2.9 1.2-1zM644.3 182.6l-1.5 4.7 3.2 1.5 4.3-2.4-0.7-2.6-3.1-2.4zM670.7 183.9l0.2 4.2-1.3 1.1-4.9-1 2-4.7 3-1.2zM612 194.4l-3-5-4.1 3 0.4 4.4 3.8 0.3 2.9-2.7zM647.7 197.4l0.5-4.7 4.3-2.4 2.4 2.2-0.5 3.7zM674.3 201.2l-1.7-2.2-0.1-4.3 1.3-1.1 4.3 0.8 0.2 3.4-3.9 3.4zM688.8 194.9l-0.6-3-2-1.3-2.8 2.2 0.1 3.4 2.6 1.6zM535 203.2l1.6-1.8 4.5 0.5 1.1 4.1-5.3 2.6-2.2-4zM653.7 201l-0.3-0.5-6.3 1.1-0.8 0.8 0.8 2.4 1.8 2 3.7-2.3zM550.4 213.6l2.4 1.7 3.8-1.6 0.2-0.9-3-3.7-4.6 0.6zM562.1 214.7l2.9 3.5 4.2-0.7-0.2-5.3-3.4-1.4-3.2 2.9zM573.9 217.8l-0.3-5.4 1.5-0.6 4.2 1.3-0.1 4-3.6 1.6zM583.9 213.1l0 3.9 2.6 1.5 4.5-1.1-1.2-5.1-4.3-0.8zM611 216.5l-6.6 0.4 1.4-4.4 5.7 0.7 0.2 2.5zM663.7 212.2l-2.8 0.4-2.5 3 5.3 1.3 1.2-2-0.9-2.6zM554.3 220.1l-1.3 5.1 0.3 0.4 4.7 1.2 2.7-2.1 0.6-2.6-2.9-3.6zM566.6 225.2l4.7 4.4 1.9-4.2-0.1-2.5-1.7-0.9-4.2 0.8zM639.3 223.8l0.4-3.5-3.8-3-3.6 1.9 0.8 4.6 2.9 1.4zM667.7 219l4.9 1.3-1.9 4.9-2.1 0.9-2.1-1.5 0.1-3.8zM564 229.1l4.7 4.3 0.1 0.5-5.9 2.4-0.4-0.3-1-4.9zM641.8 228.6l3.3 5.6-4.6 1.9-2.9-0.7 0.4-5.6 3.4-1.5zM667.6 236.2l2.6 4.2-1.1 2.9-3.3-1-1.9-2.8z"/>
<path fill="#dad4ae" stroke="#dad4ae" stroke-width="3" stroke-linejoin="round" d="M676.9 127.6l1.2-0.5 5.5 1.2 1.2 1.9-3.8 4-4.4-5.5zM532 153.9l1.1-1 1.8 0.9 3 5-0.7 1.9-3.7-0.4-2.1-1.7zM547 154l-3.8-2.6-4.3 0.7 3.3 5.6 4.9-3zM589.1 169.9l4.1 1.8 2.5-3.1-0.9-2.2-4.6-0.9zM599.4 165.2l1.1 2.5 3.5 1.5 2.2-1-0.1-3.2-4.2-2.9zM663.2 164.6l-3.2 4-0.5 0.1-2-1.4-0.9-4.3 1-1.3zM649.4 177.2l3.1 2.5 3.8-2.9 0.6-3.6-2.1-1.5-5.5 3.3zM547 190.3l-3.7-3.3 1.8-2.7 3.1-0.7 1 0.6 0.2 4.5zM581 178.3l-3 3.9 0.6 2 3.5 2.3 2.6-2-0.9-3.4-2.8-2.8zM593.7 181l0.9 1.2-0.6 2.4-1.1 0.7-3.3-0.3-0.9-3.4zM614.8 191l-3.2-5.4 0.2-0.9 1.1-0.8 5.5 0.5 0.1 2.7zM626.3 188.6l3.2-2.7-0.6-3.1-4.2-0.7-1.4 1.7 0.1 2.9zM543.5 193.6l-3.6-3.2-3.8 0.2-0.3 0.6 1.8 5.3 4.1 0.4 1.1-1.2zM585.6 195.1l3.9-0.1 1.3-5.8-3.2-0.3-2.6 1.8zM661.6 198.9l5.1-0.5-0.2-4.4-5-0.9-1.8 0.6-0.5 3.5 0.3 0.6zM568.1 203l3.6-2.2 2.4 1.1-1.4 5-1.3 0.6-3.2-1.4zM640.6 203l-4.4-1.1-1.7 0.7 2.4 6.3 4.5-3.5zM627.4 208.3l1.7 5.4 0.8 0.4 3.7-1.9 0.1-0.5-2.6-6.9-0.4 0zM542.3 225l-5.2 2.2-0.1-0.1-1.7-6.1 1-0.8 3 0.6zM547.8 217.2l-4.4 2.1 3.3 4.6 2.2 0.2 1.4-5.1zM578.2 225.3l5 2.2 0.1-0.1 0.8-4.6-2.6-1.5-3.5 1.5zM656.5 218.9l-0.5 0.3 0.4 4.4 0.7 0.8 4.7 0 0-4.1zM598 228.8l2.3 1.5 1 4.9-4.2 2.1-2.4-2-0.4-1.8zM610.2 228.7l2.1 2.5-0.4 2.1-3.7 2-1.6-0.7-1.1-4.8zM686.9 230.7l2.7 5-5.6 2.3-1.7-1.6 0.2-3.9 4-2zM537.9 243l0.6-3.6-2.1-3.4-2.6 2.3-0.1 4.9 3.2 0.7z"/>
<path fill="#cfc492" stroke="#cfc492" stroke-width="3" stroke-linejoin="round" d="M647.3 132.1l-2.8-4.4 0.5-2.7 1-0.8 5.5 1.1 0.6 3.3zM564.1 140.5l-2.5-2-2.1-3.8 5.5-0.8 0.8 0.5 0.3 4.6zM534.7 147.5l3.6-4.6 3.3 1-1.2 4.2-3.9 0.6-1.8-0.8zM548.9 150.8l-3.8-2.5 1.3-4.6 1.4-0.4 1.9 2.1 0.8 2.6zM556.9 156.7l-0.4-5.7-3.6 0.2-1.7 2.8 0.1 0.8 1.9 1.9zM567.3 155.3l-3.1-6-3.3 2 0.5 5.7 3.3 1.3 1.8-0.6zM573.8 155.8l3.3 0.3 3.5 3.4-7 2-2.4-2.5 0.8-2.3zM667.8 175.6l-5.4-2.2-0.5 0.1-0.5 3.4 3.2 1.8 3-1.1zM680.1 179.6l-6.4 0.4-1.1-1.6 0.2-2.2 0.6-0.7 4.3-0.5zM549.7 194.5l2.5-1.7 4.4 1.3 0.6 2.9-2.6 1.9-5.6-2.1zM547 205.5l0 0-1-3.9 1.1-1.2 5.1 1.9-0.7 2.6zM618.1 204.6l-3.2 1.3-2.6-5.3 2.9-2.6 1.6 1zM624.6 204.7l3.2-3.2-1.4-1.4-5.4-0.9 1.3 5.6zM545.1 213.8l-4 1.9-2.9-0.5 0.7-2.8 4.9-2.4 0 0.1zM595.9 216.7l1.5 0.8 1.8-1.3 1.4-4.2-2.5-4.1-3.2 4zM643.6 209.3l-4.7 3.6-0.1 0.5 3.8 2.9 3.3-2.7-0.3-2.3zM651.4 218.9l0.4 4.5-7.1 0.6-0.4-0.3 0.4-3.7 3.4-2.7zM552.3 230.5l-0.8 4.6 2.1 2.4 4.3-1.1-1.1-4.9z"/>
</g>
<line x1="668" y1="232" x2="676" y2="232" stroke="#111" stroke-width="1.3"/>
</g>
<text x="0.3" y="17" font-family="'Liberation Serif', serif" font-size="24.5" font-weight="bold" fill="#000" text-anchor="start" >a</text>
<text x="357" y="17" font-family="'Liberation Serif', serif" font-size="24" font-weight="bold" fill="#000" text-anchor="start" >b</text>
<text x="114.5" y="24" font-family="'Liberation Serif', serif" font-size="14.5" font-weight="bold" fill="#3b7bcb" text-anchor="middle" >21°C</text>
<text x="262.5" y="24" font-family="'Liberation Serif', serif" font-size="14.5" font-weight="bold" fill="#d8405c" text-anchor="middle" >30°C</text>
<text x="456" y="24" font-family="'Liberation Serif', serif" font-size="14.5" font-weight="bold" fill="#3b7bcb" text-anchor="middle" >21°C</text>
<text x="598" y="24" font-family="'Liberation Serif', serif" font-size="14.5" font-weight="bold" fill="#d8405c" text-anchor="middle" >30°C</text>
<text x="0" y="0" transform="translate(28.6,76.8) rotate(-90)" font-family="'Liberation Serif', serif" font-size="13" font-weight="bold" fill="#1a1aff" text-anchor="middle" dominant-baseline="central" >WO1-2</text>
<text x="0" y="0" transform="translate(28.7,185.5) rotate(-90)" font-family="'Liberation Serif', serif" font-size="13" font-weight="bold" fill="#1a1aff" text-anchor="middle" dominant-baseline="central" >WO15-3</text>
<text x="0" y="0" transform="translate(372.8,77.7) rotate(-90)" font-family="'Liberation Serif', serif" font-size="13" font-weight="bold" fill="#ff2020" text-anchor="middle" dominant-baseline="central" >WO141-3</text>
<text x="0" y="0" transform="translate(372.8,186.4) rotate(-90)" font-family="'Liberation Serif', serif" font-size="13" font-weight="bold" fill="#ff2020" text-anchor="middle" dominant-baseline="central" >WO55-1</text>
<text x="1.2" y="273.4" font-family="'Liberation Serif', serif" font-size="25" font-weight="bold" fill="#000" text-anchor="start" >c</text>
<line x1="55" y1="272" x2="55" y2="439" stroke="#000" stroke-width="1.4"/>
<line x1="54.3" y1="438.3" x2="221.5" y2="438.3" stroke="#000" stroke-width="1.4"/>
<line x1="51" y1="272.5" x2="55" y2="272.5" stroke="#000" stroke-width="1.2"/>
<text x="50" y="275.1" font-family="'Liberation Sans', sans-serif" font-size="7.2" font-weight="bold" fill="#000" text-anchor="end" >0.8</text>
<line x1="51" y1="314" x2="55" y2="314" stroke="#000" stroke-width="1.2"/>
<text x="50" y="316.6" font-family="'Liberation Sans', sans-serif" font-size="7.2" font-weight="bold" fill="#000" text-anchor="end" >0.6</text>
<line x1="51" y1="355.5" x2="55" y2="355.5" stroke="#000" stroke-width="1.2"/>
<text x="50" y="358.1" font-family="'Liberation Sans', sans-serif" font-size="7.2" font-weight="bold" fill="#000" text-anchor="end" >0.4</text>
<line x1="51" y1="397" x2="55" y2="397" stroke="#000" stroke-width="1.2"/>
<text x="50" y="399.6" font-family="'Liberation Sans', sans-serif" font-size="7.2" font-weight="bold" fill="#000" text-anchor="end" >0.2</text>
<line x1="51" y1="438.3" x2="55" y2="438.3" stroke="#000" stroke-width="1.2"/>
<text x="50" y="440.90000000000003" font-family="'Liberation Sans', sans-serif" font-size="7.2" font-weight="bold" fill="#000" text-anchor="end" >0.0</text>
<line x1="102.2" y1="438" x2="102.2" y2="442.5" stroke="#000" stroke-width="1.2"/>
<line x1="173.4" y1="438" x2="173.4" y2="442.5" stroke="#000" stroke-width="1.2"/>
<text x="93.5" y="455.8" font-family="'Liberation Serif', serif" font-size="14.3" font-weight="bold" fill="#000" text-anchor="start" textLength="18.6" lengthAdjust="spacingAndGlyphs">HR</text>
<text x="166.2" y="455.8" font-family="'Liberation Serif', serif" font-size="14.3" font-weight="bold" fill="#000" text-anchor="start" textLength="16.1" lengthAdjust="spacingAndGlyphs">HS</text>
<text x="0" y="0" transform="translate(16.3,354.8) rotate(-90)" font-family="'Liberation Serif', serif" font-size="9" font-weight="bold" fill="#000" text-anchor="middle" dominant-baseline="central" >Fv/Fm</text>
<rect x="79.4" y="321.5" width="46.099999999999994" height="35.19999999999999" fill="none" stroke="#1818ff" stroke-width="1.7"/>
<line x1="79.4" y1="328.2" x2="125.5" y2="328.2" stroke="#1818ff" stroke-width="1.7"/>
<line x1="102.2" y1="304.4" x2="102.2" y2="321.5" stroke="#1818ff" stroke-width="1.7"/>
<line x1="102.2" y1="356.7" x2="102.2" y2="379" stroke="#1818ff" stroke-width="1.7"/>
<line x1="91" y1="304.4" x2="113.8" y2="304.4" stroke="#1818ff" stroke-width="1.7"/>
<line x1="91" y1="379" x2="113.8" y2="379" stroke="#1818ff" stroke-width="1.7"/>
<path stroke="#1818ff" stroke-width="3.7" stroke-linecap="round" d="M105.2 304.4h0M99.7 316.8h0M105.2 314.1h0M105.4 317.3h0M99 319.3h0M93.5 322.8h0M99.7 322.3h0M93.5 328.5h0M99.7 328.5h0M105.2 326.7h0M110.9 325.5h0M99.5 326h0M105.2 345.1h0M99.7 347.6h0M99.7 355h0M105.2 356.5h0M99.7 357.5h0M105.4 359h0M99 359h0M99.7 366.4h0M99.7 369.9h0M99.7 379.3h0"/>
<rect x="150.6" y="419.3" width="45.900000000000006" height="14.099999999999966" fill="none" stroke="#ff2222" stroke-width="1.7"/>
<line x1="150.6" y1="429" x2="196.5" y2="429" stroke="#ff2222" stroke-width="1.7"/>
<line x1="173.4" y1="359.7" x2="173.4" y2="419.3" stroke="#ff2222" stroke-width="1.7"/>
<line x1="173.4" y1="433.4" x2="173.4" y2="437.6" stroke="#ff2222" stroke-width="1.7"/>
<line x1="161.7" y1="359.7" x2="184.6" y2="359.7" stroke="#ff2222" stroke-width="1.7"/>
<line x1="161.7" y1="437.6" x2="184.6" y2="437.6" stroke="#ff2222" stroke-width="1.7"/>
<path stroke="#ff2222" stroke-width="3.7" stroke-linecap="round" d="M173.4 359.5h0M173.4 397.2h0M179.1 397.2h0M173.4 400.4h0M167.9 419.5h0M173.4 419h0M162.2 426.5h0M167.9 427.7h0M173.4 427h0M179.1 425.2h0M162.2 430.2h0M167.9 432.7h0M173.4 432.7h0M179.1 431.9h0M184.1 430.2h0M162.2 435.9h0M167.9 435.9h0M173.4 435.9h0M179.1 435.9h0M184.1 437.1h0"/>
<text x="227.5" y="273.4" font-family="'Liberation Serif', serif" font-size="23" font-weight="bold" fill="#000" text-anchor="start" >d</text>
<line x1="284.8" y1="270.5" x2="284.8" y2="439" stroke="#000" stroke-width="1.4"/>
<line x1="284" y1="438.3" x2="452.5" y2="438.3" stroke="#000" stroke-width="1.4"/>
<line x1="285" y1="354.5" x2="452.5" y2="354.5" stroke="#000" stroke-width="0.8" stroke-dasharray="1.2 2"/>
<line x1="280.8" y1="270.8" x2="284.8" y2="270.8" stroke="#000" stroke-width="1.2"/>
<text x="279.8" y="273.40000000000003" font-family="'Liberation Sans', sans-serif" font-size="7.2" font-weight="bold" fill="#000" text-anchor="end" >0.3</text>
<line x1="280.8" y1="298.75" x2="284.8" y2="298.75" stroke="#000" stroke-width="1.2"/>
<text x="279.8" y="301.35" font-family="'Liberation Sans', sans-serif" font-size="7.2" font-weight="bold" fill="#000" text-anchor="end" >0.2</text>
<line x1="280.8" y1="326.7" x2="284.8" y2="326.7" stroke="#000" stroke-width="1.2"/>
<text x="279.8" y="329.3" font-family="'Liberation Sans', sans-serif" font-size="7.2" font-weight="bold" fill="#000" text-anchor="end" >0.1</text>
<line x1="280.8" y1="354.65" x2="284.8" y2="354.65" stroke="#000" stroke-width="1.2"/>
<text x="279.8" y="357.25" font-family="'Liberation Sans', sans-serif" font-size="7.2" font-weight="bold" fill="#000" text-anchor="end" >0.0</text>
<line x1="280.8" y1="382.6" x2="284.8" y2="382.6" stroke="#000" stroke-width="1.2"/>
<text x="279.8" y="385.20000000000005" font-family="'Liberation Sans', sans-serif" font-size="7.2" font-weight="bold" fill="#000" text-anchor="end" >-0.1</text>
<line x1="280.8" y1="410.55" x2="284.8" y2="410.55" stroke="#000" stroke-width="1.2"/>
<text x="279.8" y="413.15000000000003" font-family="'Liberation Sans', sans-serif" font-size="7.2" font-weight="bold" fill="#000" text-anchor="end" >-0.2</text>
<line x1="280.8" y1="438.5" x2="284.8" y2="438.5" stroke="#000" stroke-width="1.2"/>
<text x="279.8" y="441.1" font-family="'Liberation Sans', sans-serif" font-size="7.2" font-weight="bold" fill="#000" text-anchor="end" >-0.3</text>
<line x1="332.4" y1="438" x2="332.4" y2="442.5" stroke="#000" stroke-width="1.2"/>
<line x1="404" y1="438" x2="404" y2="442.5" stroke="#000" stroke-width="1.2"/>
<text x="324.2" y="456.3" font-family="'Liberation Serif', serif" font-size="14.3" font-weight="bold" fill="#000" text-anchor="start" textLength="17.8" lengthAdjust="spacingAndGlyphs">HR</text>
<text x="396.6" y="456.3" font-family="'Liberation Serif', serif" font-size="14.3" font-weight="bold" fill="#000" text-anchor="start" textLength="15.7" lengthAdjust="spacingAndGlyphs">HS</text>
<text x="0" y="0" transform="translate(249.5,354.2) rotate(-90)" font-family="'Liberation Serif', serif" font-size="8.8" font-weight="bold" fill="#000" text-anchor="middle" dominant-baseline="central" >Fresh Weight</text>
<rect x="309" y="320" width="46.69999999999999" height="14.199999999999989" fill="none" stroke="#1818ff" stroke-width="1.7"/>
<line x1="309" y1="329.7" x2="355.7" y2="329.7" stroke="#1818ff" stroke-width="1.7"/>
<line x1="332.4" y1="298.7" x2="332.4" y2="320" stroke="#1818ff" stroke-width="1.7"/>
<line x1="332.4" y1="334.2" x2="332.4" y2="347.8" stroke="#1818ff" stroke-width="1.7"/>
<line x1="321" y1="298.7" x2="344" y2="298.7" stroke="#1818ff" stroke-width="1.7"/>
<line x1="321" y1="347.8" x2="344" y2="347.8" stroke="#1818ff" stroke-width="1.7"/>
<path stroke="#1818ff" stroke-width="3.7" stroke-linecap="round" d="M332.4 298.7h0M332.4 309.9h0M338.1 314.3h0M326.7 319.3h0M332.4 318.5h0M326.7 321.8h0M338.1 318.5h0M332.4 323h0M320.9 329.2h0M326.7 329.7h0M332.4 329.7h0M338.1 329.7h0M344 332.2h0M320.9 332.7h0M326.7 334.7h0M332.4 334.2h0M338.1 334.2h0M326.7 337.6h0M338.1 339.1h0M332.4 340.4h0M332.4 347.8h0"/>
<rect x="381" y="362.5" width="46.60000000000002" height="31.5" fill="none" stroke="#ff2222" stroke-width="1.7"/>
<line x1="381" y1="369.9" x2="427.6" y2="369.9" stroke="#ff2222" stroke-width="1.7"/>
<line x1="404" y1="334.4" x2="404" y2="362.5" stroke="#ff2222" stroke-width="1.7"/>
<line x1="404" y1="394" x2="404" y2="418" stroke="#ff2222" stroke-width="1.7"/>
<line x1="392.9" y1="334.4" x2="416" y2="334.4" stroke="#ff2222" stroke-width="1.7"/>
<line x1="392.9" y1="418" x2="416" y2="418" stroke="#ff2222" stroke-width="1.7"/>
<path stroke="#ff2222" stroke-width="3.7" stroke-linecap="round" d="M406.8 334.4h0M406.8 355.8h0M401.1 360.2h0M406.8 360.2h0M412.5 362h0M395.4 362.5h0M401.1 364.4h0M406.8 364.4h0M401.1 368.9h0M406.8 368.9h0M401.1 371.4h0M406.8 373.9h0M401.1 378.1h0M406.8 378.1h0M401.1 388.5h0M395.4 397.4h0M401.1 399.2h0M406.8 398.2h0M412.5 397.2h0M401.1 418h0"/>
<text x="451.2" y="272.5" font-family="'Liberation Serif', serif" font-size="24" font-weight="bold" fill="#000" text-anchor="start" >e</text>
<line x1="512.6" y1="271.5" x2="512.6" y2="439" stroke="#000" stroke-width="1.4"/>
<line x1="512" y1="438.5" x2="685" y2="438.5" stroke="#000" stroke-width="1.4"/>
<line x1="513" y1="383.3" x2="685" y2="383.3" stroke="#000" stroke-width="0.8" stroke-dasharray="1.2 2"/>
<line x1="508.6" y1="272.2" x2="512.6" y2="272.2" stroke="#000" stroke-width="1.2"/>
<text x="507.6" y="274.8" font-family="'Liberation Sans', sans-serif" font-size="7.2" font-weight="bold" fill="#000" text-anchor="end" >1.0</text>
<line x1="508.6" y1="327.7" x2="512.6" y2="327.7" stroke="#000" stroke-width="1.2"/>
<text x="507.6" y="330.3" font-family="'Liberation Sans', sans-serif" font-size="7.2" font-weight="bold" fill="#000" text-anchor="end" >0.5</text>
<line x1="508.6" y1="383.2" x2="512.6" y2="383.2" stroke="#000" stroke-width="1.2"/>
<text x="507.6" y="385.8" font-family="'Liberation Sans', sans-serif" font-size="7.2" font-weight="bold" fill="#000" text-anchor="end" >0.0</text>
<line x1="508.6" y1="438.7" x2="512.6" y2="438.7" stroke="#000" stroke-width="1.2"/>
<text x="507.6" y="441.3" font-family="'Liberation Sans', sans-serif" font-size="7.2" font-weight="bold" fill="#000" text-anchor="end" >-0.5</text>
<line x1="510.1" y1="277.75" x2="512.6" y2="277.75" stroke="#000" stroke-width="1"/>
<line x1="510.1" y1="283.3" x2="512.6" y2="283.3" stroke="#000" stroke-width="1"/>
<line x1="510.1" y1="288.84999999999997" x2="512.6" y2="288.84999999999997" stroke="#000" stroke-width="1"/>
<line x1="510.1" y1="294.4" x2="512.6" y2="294.4" stroke="#000" stroke-width="1"/>
<line x1="510.1" y1="299.95" x2="512.6" y2="299.95" stroke="#000" stroke-width="1"/>
<line x1="510.1" y1="305.5" x2="512.6" y2="305.5" stroke="#000" stroke-width="1"/>
<line x1="510.1" y1="311.05" x2="512.6" y2="311.05" stroke="#000" stroke-width="1"/>
<line x1="510.1" y1="316.59999999999997" x2="512.6" y2="316.59999999999997" stroke="#000" stroke-width="1"/>
<line x1="510.1" y1="322.15" x2="512.6" y2="322.15" stroke="#000" stroke-width="1"/>
<line x1="510.1" y1="333.25" x2="512.6" y2="333.25" stroke="#000" stroke-width="1"/>
<line x1="510.1" y1="338.79999999999995" x2="512.6" y2="338.79999999999995" stroke="#000" stroke-width="1"/>
<line x1="510.1" y1="344.34999999999997" x2="512.6" y2="344.34999999999997" stroke="#000" stroke-width="1"/>
<line x1="510.1" y1="349.9" x2="512.6" y2="349.9" stroke="#000" stroke-width="1"/>
<line x1="510.1" y1="355.45" x2="512.6" y2="355.45" stroke="#000" stroke-width="1"/>
<line x1="510.1" y1="361.0" x2="512.6" y2="361.0" stroke="#000" stroke-width="1"/>
<line x1="510.1" y1="366.54999999999995" x2="512.6" y2="366.54999999999995" stroke="#000" stroke-width="1"/>
<line x1="510.1" y1="372.09999999999997" x2="512.6" y2="372.09999999999997" stroke="#000" stroke-width="1"/>
<line x1="510.1" y1="377.65" x2="512.6" y2="377.65" stroke="#000" stroke-width="1"/>
<line x1="510.1" y1="388.75" x2="512.6" y2="388.75" stroke="#000" stroke-width="1"/>
<line x1="510.1" y1="394.29999999999995" x2="512.6" y2="394.29999999999995" stroke="#000" stroke-width="1"/>
<line x1="510.1" y1="399.84999999999997" x2="512.6" y2="399.84999999999997" stroke="#000" stroke-width="1"/>
<line x1="510.1" y1="405.4" x2="512.6" y2="405.4" stroke="#000" stroke-width="1"/>
<line x1="510.1" y1="410.95" x2="512.6" y2="410.95" stroke="#000" stroke-width="1"/>
<line x1="510.1" y1="416.5" x2="512.6" y2="416.5" stroke="#000" stroke-width="1"/>
<line x1="510.1" y1="422.04999999999995" x2="512.6" y2="422.04999999999995" stroke="#000" stroke-width="1"/>
<line x1="510.1" y1="427.6" x2="512.6" y2="427.6" stroke="#000" stroke-width="1"/>
<line x1="510.1" y1="433.15" x2="512.6" y2="433.15" stroke="#000" stroke-width="1"/>
<line x1="560.4" y1="438" x2="560.4" y2="442.5" stroke="#000" stroke-width="1.2"/>
<line x1="631.6" y1="438" x2="631.6" y2="442.5" stroke="#000" stroke-width="1.2"/>
<text x="552.7" y="456.3" font-family="'Liberation Serif', serif" font-size="14.3" font-weight="bold" fill="#000" text-anchor="start" textLength="18.1" lengthAdjust="spacingAndGlyphs">HR</text>
<text x="624.9" y="456.3" font-family="'Liberation Serif', serif" font-size="14.3" font-weight="bold" fill="#000" text-anchor="start" textLength="15.9" lengthAdjust="spacingAndGlyphs">HS</text>
<text x="0" y="0" transform="translate(488.2,355.3) rotate(-90)" font-family="'Liberation Serif', serif" font-size="8.7" font-weight="bold" fill="#000" text-anchor="middle" dominant-baseline="central" >Length</text>
<rect x="537.3" y="320.8" width="46.40000000000009" height="48.89999999999998" fill="none" stroke="#1818ff" stroke-width="1.7"/>
<line x1="537.3" y1="328.7" x2="583.7" y2="328.7" stroke="#1818ff" stroke-width="1.7"/>
<line x1="560.4" y1="311.1" x2="560.4" y2="320.8" stroke="#1818ff" stroke-width="1.7"/>
<line x1="560.4" y1="369.7" x2="560.4" y2="380.8" stroke="#1818ff" stroke-width="1.7"/>
<line x1="548.5" y1="311.1" x2="571.5" y2="311.1" stroke="#1818ff" stroke-width="1.7"/>
<line x1="548.5" y1="380.8" x2="571.5" y2="380.8" stroke="#1818ff" stroke-width="1.7"/>
<path stroke="#1818ff" stroke-width="3.7" stroke-linecap="round" d="M560.4 311.1h0M554.7 316.6h0M549.2 319.8h0M554.7 321h0M560.4 319.8h0M566.1 318.5h0M549.2 322.8h0M560.4 322.3h0M566.1 324.2h0M571.5 322.3h0M554.7 334.7h0M560.4 333.7h0M554.7 338.4h0M560.4 340.9h0M560.4 346.6h0M554.7 378.1h0M549.2 380.8h0M560.4 380.8h0M566.1 380.8h0M571.5 380.8h0"/>
<rect x="608.5" y="384.8" width="46.700000000000045" height="7.699999999999989" fill="none" stroke="#ff2222" stroke-width="1.7"/>
<line x1="608.5" y1="386.8" x2="655.2" y2="386.8" stroke="#ff2222" stroke-width="1.7"/>
<line x1="631.6" y1="383.5" x2="631.6" y2="384.8" stroke="#ff2222" stroke-width="1.7"/>
<line x1="631.6" y1="392.5" x2="631.6" y2="422.8" stroke="#ff2222" stroke-width="1.7"/>
<line x1="620.4" y1="383.5" x2="643.5" y2="383.5" stroke="#ff2222" stroke-width="1.7"/>
<line x1="620.4" y1="422.8" x2="643.5" y2="422.8" stroke="#ff2222" stroke-width="1.7"/>
<path stroke="#ff2222" stroke-width="3.7" stroke-linecap="round" d="M614.2 384.8h0M619.2 384.3h0M624.1 383.8h0M629.1 384.3h0M634.1 383.8h0M639 384.8h0M644 383.8h0M649 385.5h0M619.2 387.3h0M624.9 386.3h0M634.1 387.3h0M644 386.8h0M629.1 389.8h0M634.1 389.8h0M629.1 394.2h0M634.1 397.2h0M629.1 403.2h0M634.1 402.7h0M629.1 422.8h0"/>
<rect x="277" y="476.5" width="125.3" height="220.29999999999995" fill="#e3e5e4"/>
<rect x="506" y="476.5" width="100.2" height="220.29999999999995" fill="#e3e5e4"/>
<path stroke="#4fa935" stroke-opacity="0.95" stroke-width="1" d="M51.5 550.5V612.5M52.5 552.7V609.3M53.5 549V616.2M54.5 544.7V621.4M55.5 548V622.8M56.5 544.1V576.8M56.5 594.4V620M57.5 546.8V615.8M58.5 546.9V616.8M59.5 549.6V620"/>
<path stroke="#4fa935" stroke-opacity="0.95" stroke-width="1" d="M61.5 593.2V623.5M62.5 589.5V612.4"/>
<path stroke="#4fa935" stroke-opacity="0.95" stroke-width="1" d="M63.5 545V618M64.5 536.9V621.3M65.5 542.1V616.1M66.5 540V619.8M67.5 540.2V574M67.5 592.3V621.8M68.5 533.1V618M69.5 536.1V566.3M69.5 580.7V618.3M70.5 531.9V618.2M71.5 541.1V622.6M72.5 537.5V618.1M73.5 538.3V615M74.5 535.6V622.2M75.5 542.2V618.7M76.5 541.9V619.1M77.5 536.6V568.5M77.5 582.7V618.5M78.5 537.2V619.7M79.5 540.7V622M80.5 537.1V618.7M81.5 532.8V613.4M82.5 540.2V614.4M83.5 544.1V615.6M84.5 535.4V572.2M84.5 586.3V615.2M85.5 532.5V616.7M86.5 537.6V608.4M87.5 538.9V614.4M88.5 548.4V565.3M88.5 571.1V611.9M89.5 551.9V628.8M90.5 557.4V634.5M91.5 549.9V639.1M92.5 558.2V641.3M93.5 553.5V580.4M93.5 595.2V644.8M94.5 560V640.4M95.5 560.2V641.8M96.5 557.4V645.3M97.5 561.2V646M98.5 554.7V645.4M99.5 563.2V655.2M100.5 566.7V646.8M101.5 559.5V646.5M102.5 560.7V653.3M103.5 568.3V652.1M104.5 565V648.5M105.5 563.9V646.8M106.5 567V658.6M107.5 567.2V654.2M108.5 570.3V652.2M109.5 572.9V660.7M110.5 568V649.9M111.5 581.5V655.4M112.5 582.2V652.6M113.5 580.6V656.4M114.5 579V660.4M115.5 581.7V662.6M116.5 582.8V657.6M117.5 581.2V660.7M118.5 589.7V672.1M119.5 606.6V680.7M120.5 608.9V687M121.5 604.5V630.2M121.5 647.9V684.3M122.5 601V689.7M123.5 615.6V697.8M124.5 604.4V683.9M125.5 606.8V694M126.5 602.9V680.1M127.5 599.1V678.7M128.5 606.1V673.8M129.5 596.1V682.1M130.5 597.9V608.3M130.5 625.2V680.4M131.5 603.9V679.3M132.5 601.9V674.9M133.5 601.6V609.1M133.5 615.2V670.7M134.5 604.4V668.4M135.5 608.3V670.4M136.5 605.4V668.8M137.5 607.4V667.5M138.5 613.3V627.1M138.5 642.6V668.5M139.5 601.9V634.6M139.5 641.6V671.6M140.5 607.7V669.3M141.5 599.8V669.2M142.5 599.5V668.3M143.5 601.6V674.9M144.5 600.4V670M145.5 600.2V662.6M146.5 608.9V663.9M147.5 601V670.1M148.5 601.8V675.2M149.5 611.3V673.7M150.5 612.6V669.8M151.5 605.7V667.3M152.5 611.3V661.8M153.5 606.1V631.5M153.5 638.2V671.2M154.5 600.2V666.2M155.5 604V672.5M156.5 602.9V662.4M157.5 600.1V663.9M158.5 601.2V671.5M159.5 593.5V668.3M160.5 603.2V673.8M161.5 598.1V607.8M161.5 625.9V670M162.5 602.7V665.6M163.5 602.5V669.1M164.5 598.1V664.9M165.5 595.7V670M166.5 591.8V668M167.5 592.8V665.2M168.5 598.8V668.5M169.5 598.6V630.8M169.5 648.6V671.9M170.5 586.8V674.9M171.5 595V673.7M172.5 589.2V662.1M173.5 595.7V670.6M174.5 588V659.3M175.5 591.7V630.9M175.5 649.2V670.2M176.5 594.2V671.2M177.5 595.9V665.2M178.5 594.6V671.1M179.5 596V604.5M179.5 621.7V666.5M180.5 588.9V661.5M181.5 591.4V670.2M182.5 595V671.4M183.5 594.1V672.2M184.5 591.1V664.2M185.5 591.3V664.8M186.5 602.4V622.5M186.5 628.3V660.3M187.5 595.6V658.1M188.5 594.4V662.8"/>
<path stroke="#4fa935" stroke-opacity="0.95" stroke-width="1" d="M219.5 575.4V602.7"/>
<path stroke="#4fa935" stroke-opacity="0.95" stroke-width="1" d="M224.5 552.2V633.9M225.5 548.2V626.6M226.5 546.9V637M227.5 546.4V633.9M228.5 554V632.8M229.5 548.7V629.1M230.5 543V633.8M231.5 535.4V624.2M232.5 539.3V631.2M233.5 545.1V628.4M234.5 538.5V630.9M235.5 542.2V630.5M236.5 534.6V631.8M237.5 539.6V637.3M238.5 540.9V631M239.5 535.6V632.5M240.5 541.6V561.3M240.5 573V634.6M241.5 537.8V633.5M242.5 537.9V621.3M243.5 544.9V632.3M244.5 534.9V616.2M245.5 553.4V629"/>
<path stroke="#4fa935" stroke-opacity="0.95" stroke-width="1" d="M252.5 543.4V622.3M253.5 541.4V628.5M254.5 541.9V631.9M255.5 543.5V636.1M256.5 535.8V635.3M257.5 544.4V578.2M257.5 591.9V628.5M258.5 544.7V628.9M259.5 536.5V631.8M260.5 540.6V627.5M261.5 528.3V626.2M262.5 534.4V630M263.5 536.6V559.1M263.5 574.9V628M264.5 540.3V629.8M265.5 539V636M266.5 536.8V624.4M267.5 533.3V623.5M268.5 539.8V626.8"/>
<path stroke="#f08424" stroke-opacity="0.95" stroke-width="1" d="M277.5 523.9V544.5M277.5 558.5V567.7M278.5 520.3V528.6M278.5 547.7V559.6M279.5 519.6V560.3M280.5 523.9V565M281.5 510.2V560.6M282.5 516.4V567.2"/>
<path stroke="#f08424" stroke-opacity="0.95" stroke-width="1" d="M286.5 508V562.4M287.5 509.9V561.6M288.5 507.3V528.4M288.5 543.2V558.7"/>
<path stroke="#f08424" stroke-opacity="0.95" stroke-width="1" d="M289.5 498.4V547.6M290.5 496.2V511.8M290.5 532.8V544.7M291.5 495.2V508.9M291.5 514.9V550.4M292.5 488.6V549.1M293.5 495V546.3"/>
<path stroke="#f08424" stroke-opacity="0.95" stroke-width="1" d="M294.5 498.2V598.8M295.5 503.9V533.5M295.5 552V600.5M296.5 504.7V603.7M297.5 515V604.3M298.5 522.6V621.4M299.5 513.8V611.9M300.5 524.7V544.9M300.5 564.3V610M301.5 532.3V624M302.5 531V616.7M303.5 527.2V619.4M304.5 543.2V619.6M305.5 533.2V558.8M305.5 576.5V624.2M306.5 544.2V622.1M307.5 542.1V622.5M308.5 544.7V622.2M309.5 549.1V630.1M310.5 551.5V636.6M311.5 544.3V642.2M312.5 559.9V644.4M313.5 550.4V649.8M314.5 556.9V647.2M315.5 550.7V649.2M316.5 556.7V658.5M317.5 552.6V655.4M318.5 559.5V569.6M318.5 579.6V646.5M319.5 553.4V653M320.5 563.2V587M320.5 593.2V656.9M321.5 556.6V654.9M322.5 561.5V575.9M322.5 598.2V661.1M323.5 564.3V657.7"/>
<path stroke="#f08424" stroke-opacity="0.95" stroke-width="1" d="M345.5 549.6V646.4M346.5 548.3V643.9M347.5 539.9V639M348.5 551.4V646.8M349.5 537.6V641.9M350.5 541V649.1M351.5 540.9V648M352.5 542.1V641.3M353.5 542V653M354.5 530.3V649.2M355.5 545.3V651.5M356.5 534.9V650M357.5 534.8V658.8M358.5 543.8V647.5M359.5 545.6V653M360.5 552.5V563.9M360.5 575.8V653.7M361.5 555.9V649M362.5 566.6V659.7M363.5 565.1V659.7M364.5 566.3V650.4M365.5 566.9V575.7M365.5 600.6V649.9M366.5 571.4V655.5M367.5 569.1V654.9M368.5 569.4V653.1M369.5 573.2V658M370.5 575.8V661.1M371.5 587.2V658.2M372.5 582.8V659.9M373.5 593.5V662.9M374.5 584.6V657.2M375.5 590.1V656.2M376.5 587.8V655.7M377.5 584.9V658.5M378.5 578.6V654.9M379.5 574.4V647.4M380.5 574.1V654.6M381.5 573.9V642.5M382.5 570.8V646.8M383.5 557.6V573.5M383.5 593.4V645.3M384.5 555.3V654.1M385.5 560.3V644M386.5 553.7V656.2M387.5 548.3V646.5M388.5 548.1V645.4M389.5 550.1V641M390.5 550.5V632.5M391.5 545.6V634.1M392.5 550.5V636.6M393.5 545.4V637.4M394.5 551.2V639.7M395.5 560V638M396.5 555.5V636.9M397.5 566.5V636.2M398.5 571.4V631.5M399.5 564V636.7M400.5 567.4V625.2M401.5 566.6V632.6"/>
<path stroke="#4fa935" stroke-opacity="0.95" stroke-width="1" d="M402.5 579.5V665.3M403.5 575.5V663.9M404.5 570.9V669.7M405.5 574.7V675.7M406.5 581V599.3M406.5 621.3V670.1M407.5 567.2V674.3M408.5 565.3V678.3M409.5 572.2V677.1M410.5 557.7V674.3M411.5 564.6V673.9M412.5 570.1V674.7M413.5 559.9V673.6M414.5 560.8V675.8M415.5 559.7V672.1M416.5 558.1V611.4M416.5 622.9V672.3M417.5 560.5V672.2M418.5 557.1V667.6M419.5 560V650.5M420.5 560.4V666.2M421.5 555.9V669.5M422.5 567.9V663.7M423.5 565.6V663.9M424.5 558.8V662.9M425.5 558.4V659.7M426.5 560.2V661.2M427.5 562V664.5M428.5 558.1V666.1M429.5 557.7V663.2M430.5 558.3V662M431.5 567V663.3"/>
<path stroke="#4fa935" stroke-opacity="0.95" stroke-width="1" d="M438.5 574.8V652.3M439.5 576.7V660.4M440.5 578.2V655.1M441.5 575.7V657.2M442.5 575.6V657.5M443.5 570.3V661.4M444.5 573V662.6M445.5 573.9V662M446.5 575.3V658.5M447.5 564V656.4M448.5 565.7V659.2M449.5 566.9V661.8M450.5 566.6V652.1M451.5 554.3V660.1M452.5 566.2V663.8M453.5 559V659.9M454.5 560V660.9M455.5 562.2V658.7M456.5 561.9V657.8M457.5 553.7V650.6M458.5 557.6V649.3M459.5 549V651.3M460.5 562.4V645.7M461.5 551.8V651.9M462.5 551.5V648.7M463.5 546.2V653M464.5 543.1V643.6M465.5 544.4V647M466.5 529.4V645.9M467.5 527.5V647.2M468.5 541.6V643.4M469.5 530.6V644.6M470.5 529.1V645.2M471.5 522V638.2M472.5 524.6V641.8M473.5 527V644.7M474.5 526.8V650.1M475.5 524V648.5M476.5 521V645.4M477.5 512.7V645.1M478.5 512.5V646.8M479.5 520.2V639.8M480.5 512.3V640.7M481.5 517.3V638.3M482.5 508.3V544.7M482.5 565.2V641.1M483.5 511V637.7M484.5 511.7V636.8M485.5 509.6V635.2M486.5 519.8V634.1"/>
<path stroke="#f08424" stroke-opacity="0.95" stroke-width="1" d="M506.5 551.6V623.8M507.5 551V630.9M508.5 542.7V622.2M509.5 549.4V626.8M510.5 542.9V629.7M511.5 534.9V627.4M512.5 531.5V627.3M513.5 533.7V617.5M514.5 522.1V626.3M515.5 519.9V624.3M516.5 534.9V547M516.5 564V635.5M517.5 516.7V627.4M518.5 523.2V621.1M519.5 523.3V628.6M520.5 516.6V630.1M521.5 523.5V626.1M522.5 518.7V626.8M523.5 518.4V630.6M524.5 517V626.7M525.5 524.8V618M526.5 522.7V618.1M527.5 515.3V623.7M528.5 515.2V619M529.5 514.8V630.4M530.5 522.3V619M531.5 516.4V530.1M531.5 547.5V610M532.5 525.3V626.7M533.5 552.9V624.4M534.5 553.5V626.2M535.5 556.1V627.6M536.5 557.4V622.1M537.5 561.2V629.2M538.5 562.2V631.4M539.5 569.6V635.5M540.5 569.7V629.4M541.5 562.7V631.1M542.5 561.1V627.7M543.5 568.5V631.8M544.5 561.3V633.3M545.5 565.9V643.7M546.5 571.9V638.1M547.5 568.4V638.9M548.5 573.3V647.9M549.5 585.6V657.6M550.5 585.6V656.7M551.5 588.3V654.1M552.5 590.9V657M553.5 581.9V651.1M554.5 592V661.5M555.5 592.8V669.8M556.5 594V660.7M557.5 584.5V663.5M558.5 586.4V659.9M559.5 588.5V662.7M560.5 581.8V665M561.5 590.7V652.6M562.5 594.7V649.6M563.5 581.5V660.5M564.5 584.4V656M565.5 578.4V651.8M566.5 574.5V645.2M567.5 554.2V579M567.5 594.5V641.5M568.5 535.4V644.8M569.5 524.7V636.5M570.5 529V639M571.5 530.8V637.6M572.5 529V629.5M573.5 532.5V628.3"/>
<path stroke="#f08424" stroke-opacity="0.95" stroke-width="1" d="M585.5 532.4V624.8M586.5 525.8V571.9M586.5 593.7V623.1M587.5 522.5V631.2M588.5 518.5V621.5M589.5 520V570M589.5 581.2V622.6M590.5 522.5V626.9M591.5 532.3V631.6M592.5 523.9V631.2M593.5 528.2V629.7M594.5 543.1V633M595.5 553V639.7M596.5 552.1V636.6M597.5 557.5V593.2M597.5 607.1V644.1M598.5 555.7V570.5M598.5 579.6V646.3M599.5 567.1V644M600.5 563.2V637.2M601.5 560.8V575.4M601.5 591.8V643M602.5 564.3V647.2M603.5 566.5V643.6M604.5 559.3V651"/>
<path stroke="#4fa935" stroke-opacity="0.95" stroke-width="1" d="M606.5 539.6V637.7M607.5 545.9V629.4M608.5 540.2V631.3M609.5 540.7V626.6M610.5 543.4V633.6M611.5 539.2V565.8M611.5 581.2V628.3M612.5 540.4V631.2M613.5 536.3V638.5M614.5 544V628.9M615.5 544.2V635.7M616.5 553V633.3M617.5 547.8V636.5"/>
<path stroke="#4fa935" stroke-opacity="0.95" stroke-width="1" d="M632.5 534.8V626.4M633.5 545.3V620.9M634.5 537.3V624.4M635.5 532.2V622.3M636.5 538.1V614.5M637.5 537V610.8M638.5 550.9V616.8M639.5 545V580.1M639.5 588.2V617.9M640.5 551.9V622M641.5 544.9V623.3M642.5 540.6V627.2M643.5 544.6V625.8M644.5 542.7V623.9M645.5 540.8V623.2M646.5 537.1V631.7M647.5 538.4V626.9M648.5 540.4V628.2M649.5 529V628.7M650.5 536.4V628.8M651.5 537.6V620.1M652.5 533V624.8M653.5 529V619.5M654.5 517.4V625.8M655.5 525.7V536.9M655.5 551.4V630.8M656.5 529.6V628.7M657.5 530.8V548.1M657.5 569V621.8M658.5 519.9V622.8M659.5 527.3V630.1M660.5 531.7V632.7M661.5 528.8V624.5M662.5 541.2V580M662.5 593V622M663.5 548.5V631M664.5 570.1V643.1M665.5 566.4V643.1M666.5 564.4V641.4M667.5 563.8V646.1M668.5 560V643.4M669.5 565.6V641.2M670.5 557.1V639.2M671.5 550.5V638.6M672.5 555.6V576.7M672.5 596.7V637.5M673.5 543.7V637.2M674.5 549.4V626.7M675.5 550.1V628.8M676.5 552.1V632.5M677.5 556.1V626.5M678.5 554.3V635.6M679.5 548.9V635.9M680.5 551.4V629.6M681.5 552.3V629.5"/>
<defs><pattern id="speck" x="0" y="0" width="23" height="29" patternUnits="userSpaceOnUse"><path stroke="#fff" stroke-width="1.3" stroke-linecap="round" d="M3.1 27.4h0M9.2 6.5h0M19.5 11.6h0M0.8 4.7h0M14.7 22.7h0M4.9 26.6h0M19.6 24.6h0M5.2 1.5h0M20 8.9h0M14.2 22h0M3 22.6h0M21.6 21.1h0M10.1 25.4h0M12.1 21.6h0M18.9 21.7h0M6.6 3.4h0M5.5 14.6h0M11.6 16.9h0M9.1 22.8h0M21 7.2h0M16.9 19.7h0M12 5.5h0M18.3 27.9h0M16.6 26.6h0M22.6 10.2h0M14.7 13.7h0M22.7 2.7h0M9.5 25.4h0M6.5 22.8h0M8.8 28.4h0M20.3 8.7h0M17.7 9.8h0M13.9 19.1h0M19.1 0.7h0M5.1 20.6h0M13 14.4h0M1.3 10.1h0M19.9 0.9h0M9.1 27.4h0M1.2 21.7h0M5.9 25.1h0M17.2 25.7h0M5 15.4h0M17.9 7.1h0M5.3 0.8h0M22 20.6h0M14.6 21.6h0M12.2 13.8h0M10.3 18.6h0M4.6 25.8h0M18.7 10.1h0M13.3 4.1h0M22.4 26.2h0M21.2 9.6h0M3.9 6.1h0M2.1 3.5h0M1.6 28.7h0M1.7 3.8h0M19 16.8h0M17.8 18.3h0"/></pattern><clipPath id="cclip"><path d="M51 551L56 549L60.5 549L60.5 617L56 617L51 615ZM61 593L63.5 593L63.5 615L61 613ZM63.5 542L70 540L76 541L82 540L86 541L89 544L90 552L93.4 559L100 564L106.8 568L112 577L118 587L119 606L123 607L126.9 607L128 603L134.7 605L139 609L142 602L148 604L152 609L157 607L165 598L175 595L185 596L189.5 599L189.5 663L185 665L175 667L165 667L157 665L152 665L148 669L142 667L139 665L134.7 669L128 673L126.9 687L123 689L119 680L118 661L112 655L106.8 651L100 647L93.4 642L90 637L89 611L86 613L82 617L76 619L70 618L63.5 617ZM219 578L220 581L220 602L219 597ZM224 553L231.7 543L238 540L244 541L246.5 548L246.5 625L244 627L238 630L231.7 631L224 631ZM252.7 543L258 540L264 539L268.8 540L268.8 625L264 627L258 629L252.7 627ZM277.2 522L280 520L283.4 523L283.4 562L280 565L277.2 563ZM286.2 517L287.5 505L289.2 499L289.2 563L287.5 565L286.2 564ZM289.2 497L292 494L294.2 495L294.2 549L292 546L289.2 545ZM294.2 496L296 501L299 521L302 533L306.6 541L309 548L311.4 551L314 553L317.7 556L321 561L323.6 566L323.6 657L321 657L317.7 653L314 647L311.4 637L309 629L306.6 622L302 615L299 611L296 603L294.2 595ZM345.3 558L349.7 543L354 539L359 541L361 555L363.6 566L369.8 573L372 588L376 593L379 583L382 568L385.3 555L390 550L394.6 553L397 568L402.3 572L402.3 633L397 635L394.6 637L390 639L385.3 643L382 651L379 655L376 657L372 657L369.8 655L363.6 653L361 649L359 650L354 647L349.7 645L345.3 642ZM402.4 581L405 578L408.6 569L412 565L414.8 560L420 560L426 561L432.4 568L432.4 659L426 661L420 663L414.8 669L412 675L408.6 673L405 667L402.4 665ZM438.6 575L445 573L451 565L457 559L463.4 550L467 533L471 530L475.8 521L480 515L484 513L486.7 516L486.7 633L484 637L480 639L475.8 642L471 643L467 645L463.4 647L457 653L451 659L445 659L438.6 652ZM506.1 553L509 552L511.7 531L516 527L521 523L526 518L531.9 521L534 558L539.6 565L543 563L547.4 571L550 588L556 595L562 593L566 579L568 548L570 529L574.3 533L574.3 627L570 637L568 646L566 647L562 661L556 661L550 653L547.4 637L543 633L539.6 629L534 622L531.9 619L526 621L521 625L516 627L511.7 625L509 623L506.1 622ZM585.2 525L589 521L593 533L597 558L601 563L605.3 568L605.3 645L601 642L597 637L593 627L589 622L585.2 622ZM606 545L610 541L614 543L617.7 551L617.7 633L614 633L610 629L606 627ZM632 538L636 537L638.3 548L643 545L647 543L650.7 537L655 529L659 528L663 543L664 568L667 571L670.8 563L674 553L678 551L682.3 553L682.3 629L678 629L674 631L670.8 637L667 645L664 637L663 627L659 625L655 625L650.7 627L647 628L643 623L638.3 615L636 619L632 619Z"/></clipPath></defs>
<rect x="50.8" y="476.5" width="631.7" height="220.29999999999995" fill="url(#speck)" opacity="0.85" clip-path="url(#cclip)"/>
<path stroke="#4fa935" stroke-width="1.7" stroke-linecap="round" d="M51.2 550.2h0M50.8 546.2h0M51.1 616.3h0M51.2 616.4h0M51.2 550.2h0M51.6 619.9h0M51.7 617.2h0M51.2 637.2h0M52.2 543h0M52 527.4h0M52.2 617h0M52.8 618.2h0M52.9 544.3h0M52.3 550h0M52.4 551.4h0M52.1 619.7h0M53.1 619.2h0M52.8 533.6h0M53.2 620h0M53.9 533.8h0M53.6 629.3h0M53.3 623.5h0M53.3 630.4h0M54 619.9h0M54.2 617.4h0M53.7 547.2h0M54 534h0M54 498h0M53.7 546.2h0M54.1 540.3h0M54.6 616.8h0M54.6 624.2h0M55 546.3h0M55.6 619.5h0M55.9 548.8h0M56 616.1h0M56.2 619.4h0M55.7 631.7h0M56.4 544.1h0M56.8 539.9h0M56.1 547.5h0M57.3 620.7h0M56.7 629h0M57.7 616.9h0M57.5 620.2h0M57.7 545.1h0M57.3 547.3h0M57.7 538.8h0M57.8 628.3h0M57.7 623.2h0M57.9 541.7h0M58.2 545.2h0M58.9 617.4h0M58.8 617.2h0M58.2 549h0M59 545.8h0M59.6 620.3h0M59.3 549.8h0M59.7 549.2h0M59.9 622.1h0M60.4 547.7h0M60.2 536.1h0M60.2 545.4h0M60.1 535.8h0M60.4 547.3h0M60.5 534.3h0M60.9 549.1h0"/>
<path stroke="#4fa935" stroke-width="1.7" stroke-linecap="round" d="M61 580.9h0M61 618.7h0M61.2 627.2h0M61.4 592.9h0M61.2 590.3h0M61.4 613.6h0M61.8 625.9h0M61.6 616.8h0M61.8 593.7h0M62.9 626.8h0M62.5 592.7h0M62.6 618.3h0M62.3 591.8h0M63.3 593.8h0"/>
<path stroke="#4fa935" stroke-width="1.7" stroke-linecap="round" d="M63.2 539.2h0M63.7 539h0M63.9 635.8h0M63.8 628.5h0M64.4 618h0M64.1 617.3h0M64.2 537.9h0M63.7 644.1h0M64.4 541.8h0M64.3 520.2h0M64.7 533.3h0M64.9 532.6h0M65.4 617.2h0M64.7 692.4h0M65.2 537.7h0M65.1 624.1h0M65.2 628.9h0M65.7 629.5h0M66.2 531.6h0M65.7 540.3h0M66.9 532.4h0M66.5 535.8h0M66.8 538.1h0M66.2 532.4h0M66.4 538h0M66.9 617.3h0M66.8 540h0M66.8 539.9h0M67.4 633.1h0M67.4 640.5h0M68.4 535.6h0M68 540.1h0M68 540.5h0M68.1 633.2h0M68.3 619.9h0M68.8 618.5h0M68.7 618.1h0M68.8 630h0M69.2 532.6h0M69.1 617.8h0M69.7 635.4h0M69.4 537.6h0M69.9 629.9h0M69.8 538.3h0M70 510.1h0M70.2 529.7h0M71.1 627.2h0M70.7 533.5h0M71.3 526.1h0M71.7 541h0M71.2 523.7h0M71.8 526.2h0M72.2 618h0M72.4 527.3h0M72.6 522.2h0M72.4 623h0M72.9 539.2h0M73.1 502h0M73.3 523.8h0M73.7 540.7h0M74.1 619.4h0M74.3 623.1h0M74.6 533.3h0M75.1 526.2h0M75 625.2h0M74.8 540.8h0M75.3 618.3h0M75.2 538.5h0M75.2 536h0M75.8 626.7h0M76.4 533.8h0M76 531.5h0M75.6 538h0M76.1 531.7h0M76.1 624.2h0M76 639h0M76.6 636h0M76.3 532.4h0M77 632.6h0M76.7 540.9h0M77.4 538.2h0M76.7 623.9h0M76.9 536.3h0M77.1 620.9h0M77.5 637.5h0M77.8 619.2h0M78.3 639.7h0M78.5 623.2h0M79.3 540.1h0M79 538.9h0M79.1 535.8h0M79.8 642.1h0M79.6 644h0M79.9 617.6h0M79.9 618.5h0M80 538.4h0M79.9 539.5h0M80.1 538.4h0M80.1 530.1h0M80.7 634.7h0M80.4 621.5h0M81.8 634h0M81.7 623.7h0M81.8 623.7h0M82.4 533.5h0M82.4 536.8h0M82.9 619.2h0M82.9 628h0M83.2 616h0M83.1 535.1h0M83.7 624.6h0M83.3 535.1h0M83.8 628.1h0M83.8 621.1h0M84 541.4h0M84 626.3h0M83.8 536.2h0M84.2 616.4h0M84.8 629.7h0M84.8 621.9h0M84.2 534.1h0M84.4 538.5h0M84.5 535.9h0M84.2 623.6h0M84.6 619.5h0M85.3 623.9h0M85.2 623.4h0M85.1 615.1h0M85.9 541h0M85.9 529.7h0M85.8 616.9h0M86.5 619.9h0M86.2 617.7h0M86.3 616.2h0M86.8 541.3h0M87.2 617.6h0M86.7 537.7h0M86.7 626.1h0M87.4 541.8h0M87.2 533.4h0M88.2 611.5h0M87.8 533.8h0M87.6 540.7h0M88.8 634.7h0M88.5 626.1h0M88.2 617h0M89.1 641h0M89.6 634.9h0M89.2 623.7h0M89.6 545.6h0M89.7 546.2h0M89.8 629h0M90.1 645.9h0M90.2 539.2h0M90.3 638h0M90.2 547.7h0M90.6 651.3h0M92.1 639.5h0M92.4 540.1h0M91.8 642.9h0M92.6 649.5h0M92.4 653.7h0M92.4 529.9h0M92.3 557.4h0M92.9 643.4h0M92.9 545h0M93.2 641.7h0M93.4 559.9h0M93.1 678.7h0M93.1 666.5h0M93.3 556.6h0M93.5 555.1h0M94.5 642.6h0M94.7 644.2h0M95.6 643.2h0M95.8 559.2h0M95.9 558.3h0M95.6 537.6h0M95.5 643.7h0M95.6 554.2h0M95.7 658h0M96.6 649.2h0M97.1 651.1h0M96.7 559.1h0M97.4 562.6h0M97.4 562.6h0M97.8 668.3h0M97.9 655.2h0M97.8 563.4h0M98.4 559.9h0M98.2 559.7h0M98.2 555.7h0M98.8 648.7h0M98.7 558.5h0M99 563.3h0M99.2 557.1h0M99 648.2h0M99.1 651h0M99.3 656.1h0M99.7 647h0M100.3 654.9h0M99.8 649.2h0M100.7 547.5h0M100.4 554.1h0M100.8 558.9h0M101.4 556.3h0M100.6 652.6h0M100.9 546.8h0M101.6 648.4h0M101.5 654h0M101.3 648.1h0M101.5 560.3h0M101.4 538.9h0M101.2 557.2h0M101.1 648.1h0M101.7 653.8h0M102.1 564.3h0M101.9 653.7h0M102 563.8h0M102.3 657.6h0M102 683.7h0M103.4 564.8h0M103.9 651.1h0M103.7 555.1h0M103.6 652.4h0M103.3 563.2h0M103.4 566.5h0M103.7 560.2h0M103.9 667.4h0M104.8 669.3h0M104.4 558.8h0M105.2 654.9h0M104.7 656.5h0M104.9 540.8h0M105.1 567.3h0M106.2 658.6h0M105.7 567.4h0M106.1 664.3h0M106.1 662.9h0M106.8 673h0M106.6 567.2h0M107.1 568h0M107.6 664.7h0M107.2 561.9h0M107.7 569.9h0M108.2 570h0M107.7 660.8h0M107.6 652.8h0M107.8 569.5h0M108.2 655.5h0M108.1 570.9h0M108.2 652h0M108.3 558.8h0M108.9 567.3h0M109 653.5h0M108.8 653.9h0M109.2 571.9h0M109.1 561.9h0M109.8 560.8h0M110.4 573.7h0M110.5 657.2h0M110.2 661.2h0M110.3 653.4h0M110.6 573.3h0M111 567.2h0M111.2 572.5h0M111.3 657.4h0M111.1 680.8h0M112.3 654.5h0M112.2 654.8h0M112.4 578.7h0M112.6 688.6h0M112.8 657.7h0M112.9 577.1h0M113.3 576.3h0M112.9 574.7h0M113.7 659h0M113.4 684.8h0M114.4 575.8h0M115.1 577.8h0M115.2 577.3h0M115 660.9h0M115.3 657.5h0M115.5 560.7h0M115.8 658.8h0M115.8 659h0M116.4 582.1h0M116.3 572h0M116.2 582.5h0M116.8 660.1h0M116.7 563.5h0M116.8 660.6h0M117.2 578.9h0M117.3 582.9h0M117.8 662.4h0M117.6 679.4h0M117.5 660.2h0M117.8 662.5h0M118.3 583.8h0M118.1 687.8h0M118.9 589.8h0M118.7 669.6h0M118.1 562.9h0M119 587h0M118.9 602.2h0M119.3 691.6h0M119.1 686.4h0M119.6 602h0M119.6 589.1h0M119.7 598.5h0M119.8 688.8h0M119.1 598h0M119.6 686.4h0M119.6 589.3h0M120.3 682.1h0M120 598.6h0M119.7 604.7h0M119.6 682.2h0M119.7 601.3h0M119.8 684.3h0M119.8 683.4h0M120.3 694.8h0M120.8 591.4h0M120.4 687.8h0M121 694.3h0M121.4 685.2h0M121 685h0M121.2 690.2h0M121 603.5h0M121.7 684.9h0M121.7 694.8h0M121.4 694.8h0M121.6 689.3h0M122.3 694.8h0M121.8 693.2h0M121.8 600.5h0M122.3 603.2h0M123.1 692.7h0M122.7 694.8h0M123.5 694.8h0M123.6 689h0M123.9 607h0M123.6 689.2h0M123.8 693.3h0M123.7 596.4h0M124.3 605.6h0M124.7 607.2h0M125.3 601h0M125.3 606.4h0M125.6 594.4h0M125.3 588.3h0M125.8 578.6h0M125.3 605.3h0M126 600.1h0M126.6 595.8h0M127 685.6h0M127.8 596.6h0M127.6 597.3h0M127.4 603.5h0M128.1 674.4h0M127.9 688.3h0M128.4 682.8h0M128.2 592.4h0M128.1 676.9h0M128.4 672.9h0M128.2 601.4h0M127.8 599.2h0M127.7 682.8h0M128.3 679.1h0M128.7 677.6h0M128.3 597h0M128.7 675.6h0M129.2 604.2h0M129.5 689.6h0M129.7 672.2h0M129.8 671.7h0M129.5 673.5h0M129.2 682.8h0M129.3 600.4h0M130.1 599.9h0M130.2 592.9h0M130.6 600.8h0M130.7 684.4h0M130.6 674.8h0M130.8 601.6h0M131.3 680.7h0M131.6 599.2h0M131.4 602.2h0M131.5 600.2h0M131.7 670.1h0M132.2 676.4h0M131.8 674.3h0M131.9 598.6h0M131.8 603.5h0M132.6 605.1h0M132.4 599.4h0M132.6 670.8h0M133.4 605h0M133.4 605.5h0M134.3 678.1h0M134.1 604h0M134.3 681.4h0M133.9 674.5h0M133.7 603.2h0M134 680.7h0M134.4 593.3h0M134.5 596.8h0M134.4 677.1h0M134.4 601.2h0M134.5 674.8h0M134.2 674.8h0M134.9 602.7h0M134.7 670h0M134.8 604.7h0M135.3 670.8h0M135.4 676.6h0M136.4 677.8h0M135.9 601h0M135.8 602.6h0M136.4 604.7h0M136.7 671.3h0M136.7 607.5h0M137.3 604.7h0M137.3 608.1h0M137.6 606.2h0M137.9 599.3h0M137.9 600.7h0M138 666h0M137.7 598.8h0M138.1 589h0M138.3 678.3h0M138.8 672.8h0M139.4 675.6h0M139.2 673.8h0M139.8 601.3h0M139.5 586.4h0M139.8 666.6h0M139.3 604.3h0M140.3 669.8h0M140.4 669h0M140.4 602.2h0M140.1 665.8h0M140.2 671.5h0M140.4 599h0M141.1 597.4h0M141.3 593.4h0M141.5 677.7h0M142.2 601.5h0M142.6 598.7h0M142.3 682.7h0M143.3 669.2h0M143.3 669.6h0M143.2 674.3h0M143.3 591.6h0M143.5 667.6h0M143.8 598.2h0M143.4 687h0M143.1 670.8h0M143.7 694.8h0M143.8 602.7h0M143.9 591.4h0M144 595h0M144.5 667.1h0M144.3 599.6h0M144.6 673.5h0M145 588.3h0M145.2 677.7h0M145.8 676.9h0M145.2 667.6h0M145.2 601.4h0M145.8 675.2h0M145.2 601h0M145.2 668.3h0M145.2 596.7h0M146.2 604.1h0M145.7 600.1h0M146.1 673.9h0M146.1 593.3h0M146.3 603.6h0M147.2 668.1h0M146.7 668.1h0M147 600.6h0M147.3 676.8h0M147.3 668.1h0M147.2 671.6h0M147.8 600.2h0M147.8 564.3h0M148.7 687.8h0M148.7 676h0M148.1 673.8h0M148.3 594.5h0M148.4 667.7h0M148.8 671.4h0M148.7 668.3h0M149.1 605.4h0M149.7 670h0M149.1 669.7h0M149.4 601.5h0M149.5 682.4h0M150.2 681.5h0M150.3 671.1h0M149.6 672.4h0M150.8 669.9h0M150.2 594.4h0M151 608.5h0M150.7 666.2h0M151.2 667.9h0M151.8 664.8h0M151.4 694.8h0M151.3 607.8h0M151.9 673.8h0M151.5 665.1h0M152 609.7h0M151.7 598.9h0M152.3 665.6h0M152.8 603.5h0M152.7 607.9h0M153 677.9h0M152.7 598.4h0M153.2 679.5h0M153.9 664.2h0M153.7 603.7h0M154 592.5h0M154 609.2h0M154.4 598.5h0M154.3 608.7h0M155.3 677.6h0M155.1 602.5h0M155.8 596h0M155.4 604.4h0M156.1 684.6h0M155.9 666.7h0M156.4 670.9h0M156.2 598.4h0M156.8 678.1h0M157.5 602.7h0M157.8 593h0M157.8 666.2h0M158.3 667.4h0M157.8 667h0M158 598.1h0M158.5 599.5h0M158.4 598h0M159.3 677.9h0M158.8 604h0M159.7 601.8h0M159.5 666.5h0M159.3 689h0M160.1 666.6h0M159.9 666h0M160.4 604.3h0M159.8 602.7h0M160.6 664.9h0M160.7 596.1h0M160.7 665.3h0M160.3 666.1h0M160.8 679.3h0M160.9 667.9h0M161.3 667.6h0M160.7 596.7h0M161.3 594.7h0M161.4 593.4h0M161.4 599.1h0M161.9 670.4h0M161.4 672.6h0M161.2 673.5h0M161.3 668.1h0M161.4 670.4h0M161.5 597.4h0M161.3 598.8h0M161.8 667.3h0M162 596.5h0M162.1 593.1h0M162.2 599.1h0M162.5 601.8h0M163.7 591.1h0M163.4 599h0M163.2 690h0M163.6 666.8h0M164.2 676.1h0M163.8 570.7h0M164.6 591h0M165.3 598.4h0M165.9 668.7h0M166 681.7h0M166.3 591.1h0M166.5 679.2h0M166.2 594.7h0M166.4 598.2h0M166.7 588.6h0M167 597.4h0M167 592.2h0M166.7 587.3h0M166.8 584.2h0M167.7 578.8h0M167.2 666.4h0M167.3 669h0M167.2 677.3h0M168.4 585.5h0M168.5 550.1h0M168.2 588.9h0M169.1 594.4h0M169.1 582.3h0M169 597.7h0M168.9 596.5h0M169.1 592.4h0M169.6 670.3h0M169.3 597.3h0M169.2 666.3h0M169.8 594.9h0M169.3 668.5h0M169.8 589.5h0M170 691.3h0M169.6 676.7h0M170 595.8h0M169.8 675.3h0M170.8 585.7h0M170.6 668.1h0M170.8 668.9h0M170.2 597.2h0M170.8 594.5h0M170.7 593.4h0M171.2 671.8h0M171.6 672.6h0M171.5 595.7h0M172 592.2h0M171.8 669.6h0M172 683.9h0M172.1 668.5h0M172.4 674.9h0M172.2 668.3h0M173.2 591.5h0M173 592.3h0M173 674.6h0M173.3 594.2h0M173.2 667.6h0M173.9 589.6h0M173.7 585.4h0M174 581.4h0M174 592h0M174.2 669.6h0M173.8 670.5h0M174.3 694.8h0M174.6 666.3h0M175.4 670.8h0M175.3 593.1h0M175.2 594h0M175 593.8h0M174.6 594.6h0M174.6 594.9h0M174.7 675.8h0M175.8 569.1h0M175.3 667.4h0M175.4 589h0M175.8 668.2h0M175.9 675.2h0M176.6 595.9h0M176.7 570.5h0M177.1 586.8h0M177.3 587.9h0M177.5 577.1h0M177.8 668.9h0M177.6 665.7h0M178 666.1h0M178.3 667.3h0M178.2 581.1h0M177.9 593.4h0M178.4 594.9h0M178.4 670.6h0M178.8 667.2h0M178.8 595h0M179 577.9h0M178.8 668.4h0M178.9 668.1h0M179.7 593.9h0M179.4 593.4h0M179.4 579.9h0M179.8 667.5h0M180.1 584.1h0M180.1 685.1h0M180.1 596.2h0M180.2 679.2h0M180.8 674.7h0M180.6 589h0M180.8 675.7h0M181.8 595.1h0M181.2 668.8h0M181.8 587.4h0M182.3 594.2h0M182.5 671.1h0M182.6 672.8h0M182.3 592.6h0M182.4 596.7h0M183.2 594.3h0M182.7 590.3h0M183.1 572h0M182.7 665.5h0M182.6 595.7h0M183.8 664.8h0M183.8 593.8h0M183.6 678h0M183.8 584.7h0M184 593.5h0M183.6 596.5h0M183.7 666.2h0M184.4 588.3h0M184 670.6h0M184.2 595.2h0M184.7 585.5h0M184.8 593.4h0M185.6 587.2h0M185.3 593.6h0M185.6 588h0M185.2 665.9h0M185.1 671.1h0M185.7 562.1h0M185.7 666.6h0M185.6 671.4h0M186.3 587.1h0M186.3 592.3h0M186.3 676.4h0M186.3 665.9h0M186.5 587.4h0M186.4 571.3h0M186.6 589.4h0M186.9 680.6h0M187.2 667.2h0M187.1 598.1h0M187.4 594.4h0M187.4 674.7h0M187.4 578.1h0M187.6 672.5h0M188.5 694.8h0M189.2 597.4h0M189.3 670.2h0M188.6 589.1h0M189.6 668.5h0M189.7 592.2h0M189.8 668.1h0"/>
<path stroke="#4fa935" stroke-width="1.7" stroke-linecap="round" d="M219.3 577.6h0M218.9 618.8h0M218.9 615.5h0M219.1 562.3h0M218.8 623.6h0M219.3 605.9h0M219.2 562.9h0M219.8 570.5h0M219.9 574.1h0M220.1 601.4h0M219.7 578.5h0M219.9 612.9h0"/>
<path stroke="#4fa935" stroke-width="1.7" stroke-linecap="round" d="M224.2 634.3h0M224.9 552.9h0M224.4 547.5h0M225.4 640.5h0M225.1 655.4h0M225.8 630.7h0M225.2 550.8h0M225.7 632.2h0M226.1 551.4h0M226.3 633.5h0M226.1 634h0M226.1 549.6h0M226.7 630.7h0M227.4 630.7h0M226.7 540.5h0M226.6 532.7h0M227.4 542.3h0M227.4 632.3h0M227.9 633.6h0M227.3 549.2h0M227.2 542h0M228.1 540.7h0M228 545h0M228.4 547.2h0M228.5 542.3h0M228.8 632.5h0M228.9 652.4h0M228.9 652.1h0M229.5 528.6h0M229.5 631.9h0M229.6 543.4h0M229.2 541.8h0M229.9 632.8h0M230.3 633.2h0M230.3 538.9h0M230.6 633.7h0M230.9 640h0M231.7 538.8h0M231.6 641.5h0M231.6 534.4h0M231.6 536.2h0M231.6 540.4h0M232 647.5h0M232.1 630.4h0M231.6 528h0M232.1 634.6h0M232 630.7h0M232.6 540h0M232.6 629.9h0M232.7 539.3h0M232.7 542.2h0M233.7 630.7h0M233.6 633.5h0M233.2 538.9h0M233.8 633.6h0M234.2 523.6h0M233.9 528.9h0M235.3 630.8h0M235.1 634.9h0M235.4 644.3h0M235.2 637.8h0M235.1 631h0M235.7 541.1h0M235.2 636.8h0M235.6 639.5h0M235.7 630.8h0M235.9 629.8h0M235.6 635.3h0M236.9 523.5h0M236.7 541.2h0M236.8 541.1h0M236.6 641.9h0M236.3 519.4h0M237.1 634.6h0M237.2 636.7h0M237.3 635.1h0M236.7 630.9h0M237.7 527.2h0M237.2 524h0M237.1 538.3h0M238.1 539.5h0M238.2 499.6h0M238 634.1h0M238.2 540.1h0M238.8 637.1h0M238.8 536.2h0M239.1 510h0M239.1 641.9h0M239.1 537.8h0M239 640.7h0M239.3 629.3h0M239.6 628.6h0M240.2 527.5h0M239.7 633.1h0M240.1 539.8h0M240.2 535h0M240.8 628.2h0M240.3 629.1h0M240.3 537.5h0M241.4 539.5h0M240.8 627.8h0M241.1 520.3h0M240.8 629.5h0M241.6 632.3h0M241.8 536.8h0M241.7 537.6h0M241.7 540.1h0M242.5 639.3h0M242.2 540.1h0M242.9 628h0M243.3 627.4h0M243.3 627.2h0M243.2 539.8h0M243.2 527.4h0M243.3 626.5h0M243.7 631.2h0M243.5 630.1h0M244.8 633.5h0M244.3 529.2h0M244.3 540.9h0M245.1 641.5h0M244.6 530.8h0M245.1 544.5h0M245.4 545.4h0M245.2 629.4h0M245.1 631.3h0M246.2 625.5h0M246.2 540.7h0M246.7 630.8h0"/>
<path stroke="#4fa935" stroke-width="1.7" stroke-linecap="round" d="M253 634h0M252.6 537.2h0M254 637.1h0M253.8 629h0M254 646.8h0M254.2 542h0M254.4 639.5h0M254.3 629h0M254.9 528.1h0M255 635.2h0M254.9 538.6h0M254.9 529.8h0M255 515.6h0M255.2 536.6h0M256.1 533.6h0M256 648.8h0M255.9 541.4h0M256.1 633.2h0M256.1 529.3h0M256.3 516.1h0M256.9 540.2h0M256.6 635.8h0M256.9 540.4h0M257.2 534.1h0M257.8 530.8h0M257.4 632.5h0M257.4 640.6h0M258.1 631.6h0M258.1 628.4h0M258.1 531.4h0M257.9 635.8h0M258.8 530.2h0M258.8 539.6h0M259.5 648.6h0M260.1 535.7h0M259.9 539.2h0M260.6 649.4h0M260.9 672.2h0M260.8 539.5h0M261.4 521.9h0M261.3 633.8h0M261.6 627.8h0M262.1 538.6h0M261.6 630.1h0M261.7 540h0M261.5 644h0M262.2 535.5h0M262.4 538.3h0M262.6 537.3h0M262.2 629h0M262.3 538.3h0M262.6 626.4h0M262.4 632.6h0M263.3 531.6h0M262.9 536h0M263.2 528.1h0M263.6 538.5h0M263.8 629.8h0M263.3 627.4h0M263.4 628.6h0M264.5 530.6h0M263.9 647.5h0M264.5 538.8h0M264.4 539.6h0M263.9 526.7h0M264.5 538h0M265 535.5h0M265.6 633.5h0M265.7 534.6h0M266.3 650.3h0M266 520h0M265.9 520.7h0M266.4 628.4h0M266.4 628.6h0M266.6 524.8h0M266.2 518.2h0M266.2 632.2h0M266.4 512.4h0M266.6 641.2h0M267.1 537.2h0M267.4 538.8h0M267.5 637.2h0M267.3 532.1h0M267.2 651.2h0M268.1 538.7h0M267.6 628.9h0M267.4 633.8h0M267.6 627.7h0M267.9 521.6h0M268 641.6h0M269 528.4h0M268.4 625h0M268.4 633.6h0"/>
<path stroke="#f08424" stroke-width="1.7" stroke-linecap="round" d="M276.9 563h0M277.4 595.3h0M277.7 522.6h0M278.1 503.6h0M277.5 489h0M279 520.6h0M278.7 565.1h0M278.4 588.6h0M278.6 518.2h0M279.5 516.4h0M279.2 567.7h0M279.9 519.9h0M279.9 507.4h0M279.7 519.3h0M279.9 513.2h0M279.7 512.7h0M279.9 564.9h0M280.5 573.6h0M280.6 506.5h0M279.8 566.6h0M280 565h0M281.1 563.7h0M281 509.4h0M280.3 499.7h0M280.6 518.2h0M280.6 571h0M280.9 566.1h0M280.3 500h0M280.9 511.9h0M281.3 518.9h0M281.6 516.9h0M282.1 517.4h0M282 564.6h0M282.4 520.8h0M282.9 566.8h0M283.2 561.4h0M283.5 562.3h0M282.9 506.9h0M283.5 516.7h0"/>
<path stroke="#f08424" stroke-width="1.7" stroke-linecap="round" d="M285.9 509.5h0M286.4 564.2h0M286.8 571.4h0M287.1 511.7h0M286.8 580.8h0M286.7 565.2h0M287.1 513.3h0M286.5 565.3h0M287.1 507.7h0M287 507.7h0M286.9 498.5h0M286.9 565.8h0M287 497.8h0M287.5 502.3h0M287.5 496.8h0M287.3 502.6h0M288.5 563.4h0M288 575.7h0M288.4 492.1h0M288.5 503.3h0M288.3 501.4h0M288.8 566.2h0M289.1 570.1h0M288.9 478.5h0M289.4 563.4h0M289 566.9h0M289.1 565.8h0"/>
<path stroke="#f08424" stroke-width="1.7" stroke-linecap="round" d="M288.8 478.5h0M289.5 492.2h0M289 561.2h0M290 484.1h0M289.6 494.9h0M289.7 494h0M290.1 482h0M289.7 480.1h0M290 478.5h0M290.5 557.1h0M290.3 554h0M290.6 492.6h0M290.9 495h0M290.7 555.8h0M291.1 578.5h0M290.8 548.8h0M290.9 494.6h0M291.2 547h0M292 478.5h0M292.1 564.3h0M292.8 552.4h0M293.2 483h0M293.1 549.5h0M293.1 485.1h0M293.1 553.7h0M293.3 547.1h0M293.8 486.2h0M293.9 555.2h0M293.4 492.4h0M293.7 478.5h0M293.9 478.5h0M293.9 489.6h0M294.3 551.6h0M294.6 491.4h0M294.2 566.2h0"/>
<path stroke="#f08424" stroke-width="1.7" stroke-linecap="round" d="M294.9 603.9h0M294.5 493.8h0M295.5 609.3h0M295.3 601.9h0M295.1 496.1h0M295.5 484.6h0M295.4 495.5h0M295.4 498h0M295.6 478.5h0M295.8 600.9h0M295.8 493.5h0M295.9 492.7h0M296.1 495.3h0M296.6 641.4h0M296.4 609h0M296.4 505.2h0M296.8 604.4h0M297.4 508.1h0M297.4 610.1h0M297.4 636.6h0M297.1 635.9h0M297.4 610.3h0M297.5 510.3h0M297.9 610.3h0M297.8 613.9h0M297.8 623.5h0M298.2 613.6h0M298.8 612h0M298.5 616.6h0M299 613.7h0M298.8 513.7h0M298.8 519.3h0M298.8 612.4h0M298.6 621.5h0M299.4 610.7h0M299.6 620.8h0M299.1 501.4h0M299.4 522.9h0M299.7 513h0M300.2 619.7h0M299.8 612.3h0M300.6 612.9h0M300 519.7h0M299.8 618.4h0M300.6 524.1h0M300.2 614.8h0M300.3 520.5h0M300.4 527.9h0M300.4 525h0M301 619.2h0M301.6 524.2h0M301.2 522.3h0M301.6 531.6h0M301.8 615.3h0M301.3 529.9h0M302.4 512.8h0M302.9 531.9h0M303.1 533.7h0M302.9 524.6h0M302.5 622.8h0M303.3 533.9h0M303.3 624.9h0M303.1 518.9h0M303.1 535.9h0M303.8 536.4h0M303.4 619.4h0M304.1 524.1h0M304.5 528.8h0M304.5 525h0M304.3 531.4h0M304 533.3h0M304 620.1h0M304.1 622.1h0M304.9 619.1h0M304.7 629.4h0M304.9 636.7h0M305.3 624.4h0M305.1 642h0M305.2 619.9h0M306.6 539.7h0M306 630.9h0M306.1 531.2h0M306 538.8h0M306.7 621.7h0M307.1 523.4h0M307.6 543.7h0M307.2 626h0M307.3 538.7h0M307.3 631.8h0M307.5 651.9h0M307.5 543.6h0M308.1 546.6h0M308 537.3h0M308.9 530.8h0M309.6 629.6h0M309.4 633h0M309.2 631.8h0M309.2 660.3h0M309.5 546.5h0M309.7 632.7h0M311 547.4h0M311.4 547h0M311.3 535.7h0M310.9 641h0M311.9 644.7h0M312.5 550.3h0M312.6 537.8h0M312.8 650.6h0M312.7 651.4h0M313.1 646.1h0M313.4 656h0M313.7 657.9h0M314.5 540.5h0M315 549.2h0M314.6 551.5h0M314.7 648.2h0M314.7 534.2h0M315.2 554.7h0M314.8 554.1h0M315.4 539.5h0M315.7 545.8h0M316 656.3h0M316.5 545.9h0M316.6 533.6h0M316.6 551.4h0M316.4 652.7h0M316.4 653.9h0M316.5 553.6h0M316.9 552.2h0M317.2 552.1h0M317.6 651.4h0M317 670.7h0M316.9 657.4h0M317.5 667.1h0M317.2 553.2h0M317.7 554.4h0M318.5 657.8h0M317.9 660.8h0M317.9 544.9h0M318.8 558.4h0M318.7 657h0M318.6 556.2h0M319.1 550.3h0M318.9 676.8h0M319.5 656.2h0M319 653.8h0M319.7 657.9h0M319.7 557.9h0M320 555.6h0M319.9 560.2h0M320.6 540.6h0M320.5 655.6h0M320.2 658.4h0M320.2 656.2h0M321 667h0M320.8 664.9h0M320.9 656.7h0M321.2 561h0M321 558.6h0M321.1 664.6h0M320.9 561h0M321.1 561.7h0M321.8 659.7h0M321.5 669.8h0M321.4 657.7h0M321.8 556.1h0M322.1 656.9h0M322.5 672.6h0M323 556.5h0"/>
<path stroke="#f08424" stroke-width="1.7" stroke-linecap="round" d="M345.7 558.9h0M344.9 641.4h0M345.6 557h0M345.3 550.9h0M345.7 556.9h0M346 646.1h0M346.2 552.3h0M345.9 647.9h0M346 652.8h0M346.1 552.8h0M345.9 646h0M346.6 644.3h0M346 520.7h0M345.9 552.6h0M347 645.2h0M346.5 644.3h0M348 648h0M347.5 647.6h0M348 542.1h0M347.8 644.2h0M349.2 659.1h0M348.5 655.2h0M348.7 541.3h0M349.2 644.6h0M349.7 648.6h0M349.7 662.4h0M349.6 656.2h0M350.2 528.3h0M350.4 538.6h0M350 538.8h0M350.3 645.6h0M350.9 540.2h0M350.7 535.4h0M350.4 541h0M351 667.7h0M351.2 518.1h0M351.4 537.5h0M351.3 534.6h0M351.5 654.8h0M351.8 533.9h0M352 664.7h0M352.6 659.1h0M352.6 653.4h0M352.2 541.5h0M352.7 646.9h0M352.7 538.8h0M352.4 663.1h0M353.2 651.8h0M353.6 652.2h0M353.7 654.2h0M354.4 536h0M354.6 652.6h0M354.1 526.8h0M354.3 660.2h0M354.5 522.8h0M353.9 526.3h0M354.8 653.3h0M354.8 660.6h0M354.7 656.5h0M355 532h0M355 660h0M355.2 678.1h0M355.5 654.8h0M355.6 647.7h0M355.6 647.4h0M356.1 650.4h0M356.4 658.2h0M356.3 537.8h0M355.9 653h0M356.5 538.1h0M357.9 649h0M357.9 540.3h0M358.1 531h0M358.3 659.4h0M358 654.3h0M358.7 651h0M358.9 664.5h0M358.9 652.8h0M359.6 506.9h0M358.9 660.5h0M359.4 654.4h0M359.4 528h0M360 547.6h0M359.5 534.6h0M360.1 546.1h0M360.2 655.3h0M361.1 547.3h0M361.1 675h0M360.9 529.3h0M360.5 550.2h0M361 669.7h0M361.6 651.3h0M361.8 651.5h0M362.9 657.3h0M363.2 652.2h0M362.4 559.1h0M362.8 562h0M362.8 540.8h0M363 650.9h0M363.1 657.9h0M363.2 667.7h0M362.7 656.4h0M363 558.1h0M362.9 657.1h0M363.3 561.8h0M363.7 549.8h0M363.7 522.3h0M364.1 566.5h0M364.1 557.4h0M363.6 559.1h0M364.1 659.2h0M364.4 656.8h0M364.5 558.9h0M364 653.9h0M364.7 563.4h0M364.1 562.7h0M363.9 562.9h0M364.7 562h0M365.1 654.5h0M364.8 655.7h0M365.7 558.5h0M366.1 561.6h0M366.5 565.9h0M366.9 553.2h0M367 656.5h0M367.2 659.8h0M367.7 555.1h0M367.9 563.9h0M368.1 563.2h0M367.6 672.8h0M368.1 655.9h0M368.2 569h0M368.8 655.6h0M369.1 661.8h0M369.1 694h0M369.1 571.9h0M369.4 567.7h0M369.5 658.8h0M369.9 656.3h0M369.6 657.2h0M369.4 656.9h0M369.7 568.3h0M370.3 667.2h0M370.3 656.7h0M370.7 576.9h0M370.1 558.8h0M370.2 575.7h0M370.9 567.5h0M370.6 576.5h0M371.1 659.8h0M371 579.6h0M370.6 578.9h0M371.1 658.7h0M371.7 582.3h0M371.7 659.4h0M371 580.4h0M372 587.4h0M372.2 677.9h0M372.7 571.4h0M372.6 674.2h0M372.2 577.9h0M373 579.5h0M372.8 658.1h0M372.8 660.5h0M372.7 589.4h0M373.2 581.6h0M372.9 658h0M373.2 587.9h0M373.5 578.7h0M373.4 580.5h0M373.8 588.3h0M373.6 660.9h0M373.8 591h0M374.1 585.4h0M374 584.1h0M374.4 657.7h0M374.2 658.4h0M374.4 656.6h0M375.1 591.7h0M374.6 665.6h0M374.9 694.8h0M374.5 580.5h0M374.8 573.4h0M375 668.4h0M375.1 586.4h0M375.4 589.6h0M375.5 593.3h0M375.9 582.2h0M375.9 589h0M376 586.3h0M375.8 588.2h0M376.6 667.2h0M376.6 584.5h0M376.3 675h0M376 656.8h0M376 668h0M377.2 658.6h0M376.4 655.5h0M377 665.1h0M377 659.9h0M377 659.4h0M377.2 655.2h0M377.5 662.8h0M377.5 655.7h0M377.9 660.2h0M378.2 662.2h0M378.2 562.1h0M378.1 582h0M378.1 656.2h0M378 655.3h0M378.5 655.4h0M378 670.4h0M378.8 656.3h0M378.8 570.3h0M379 584.5h0M378.9 583h0M379.1 670.1h0M379.7 655.3h0M379.9 655.2h0M379.7 572.5h0M380.1 562.3h0M380.5 553.2h0M380.7 577h0M380 572.6h0M380.7 575.1h0M381 653.5h0M380.5 662.3h0M380.6 660.1h0M380.6 672.8h0M380.7 655.6h0M381.7 656.9h0M381.1 651.1h0M381.4 652.6h0M380.9 562.1h0M381 653.5h0M381.4 570h0M381.5 653.8h0M382.7 560.8h0M382.1 654.1h0M382 653.3h0M382.4 562h0M382.4 566.2h0M382.9 649.9h0M382.6 565.2h0M383.1 648.5h0M382.4 652h0M383.3 558h0M383.7 559.8h0M383.9 557h0M384 653.4h0M384 556.5h0M384.2 536.6h0M385 645.5h0M384.5 661.5h0M384.5 552.9h0M384.9 663.3h0M385.1 650.5h0M385.1 551.9h0M385.3 548.2h0M385.8 522.6h0M386.3 549.4h0M386.3 551.5h0M387 550.1h0M387 545.8h0M388.5 641h0M388.6 548.5h0M388.8 643.7h0M388.8 646.8h0M388.9 534.4h0M388.5 538.9h0M388.7 644.6h0M389.1 549.5h0M389.1 549h0M389.1 642h0M389.2 645.4h0M389.4 661.6h0M389.7 548.2h0M389.4 641h0M390.2 638.7h0M389.6 532.1h0M389.7 643.6h0M390.1 643.4h0M390.2 639.8h0M390 542.9h0M390.3 545.2h0M390.6 538.2h0M391 544.4h0M391 641.6h0M391.2 640.7h0M390.5 537.5h0M390.5 651.6h0M390.5 640.2h0M390.5 638.7h0M391 543.3h0M390.9 645.3h0M390.7 650.1h0M390.9 546.7h0M391.2 547.7h0M391 662.8h0M391.2 549.2h0M391.3 545.2h0M391.6 637.6h0M391.9 649.1h0M391.9 550h0M391.9 647.9h0M392.5 639.9h0M392.7 549.6h0M393.1 547.3h0M393.1 658.3h0M393.4 551.5h0M393.1 545.5h0M393.6 638.9h0M393.8 549.1h0M393.7 640.1h0M393.6 536.4h0M394.6 548.2h0M394 552.2h0M394.5 644.6h0M394.3 546.9h0M395.2 652h0M395.2 645.3h0M395.2 655.1h0M395.2 554.1h0M395.6 639.3h0M395.4 560.9h0M395.9 656.2h0M396.2 635.3h0M396 634.9h0M396.6 551.8h0M396.7 647.3h0M396.1 644.9h0M395.9 564.5h0M396.8 634.5h0M396.6 666.6h0M397.3 647.6h0M397.5 640.6h0M397 634h0M397.2 556h0M397.1 644.4h0M397.2 642.2h0M398.1 560.7h0M398.5 558.5h0M399.6 640.7h0M399.1 565.6h0M399.4 635.2h0M399.1 645.4h0M399.4 563.3h0M399.6 634h0M399.2 634.5h0M399.5 571h0M399.8 560.5h0M400.4 565.6h0M400.3 569h0M400.3 634.5h0M400.7 549.2h0M400.8 638.5h0M401.1 568.2h0M400.9 569.8h0M401.4 633.5h0M401.2 566.5h0M401.5 633h0M401.2 569.1h0M401.7 557.1h0M400.9 563.5h0M401.3 634.4h0M401.8 551.1h0M402.2 568.1h0M402.4 650.4h0M402.4 571.2h0M402.1 571h0"/>
<path stroke="#4fa935" stroke-width="1.7" stroke-linecap="round" d="M402.8 566.8h0M402.6 577.9h0M403.6 562.3h0M403.9 667.8h0M403.7 572.6h0M403.6 573.9h0M403.8 671.6h0M404 558.3h0M404.1 577.3h0M404.6 579.6h0M404.1 675.7h0M404.8 694.4h0M405 569.6h0M404.7 667.8h0M405.1 565h0M405.5 574.3h0M405.5 577.5h0M405.3 667.4h0M406.3 570h0M406.2 572.9h0M405.9 553.1h0M406.2 678.6h0M406.2 561.3h0M406.3 670.1h0M406.8 677.9h0M406.9 554.4h0M406.8 573.3h0M407.7 572h0M407.6 672.8h0M407.5 570.1h0M408.5 674.6h0M408.7 537.9h0M408.1 563.1h0M408.1 675.5h0M408.4 675.6h0M409 558.1h0M409.5 679.7h0M409.7 549.9h0M409.8 692.2h0M409.5 686.3h0M409.8 679h0M410.5 559.3h0M410.2 674.2h0M410.6 684.2h0M410.1 693.1h0M410.5 687.9h0M410.1 564.5h0M411.2 687.6h0M411 566.9h0M410.7 690.1h0M411 685.6h0M411.4 681.4h0M411.5 561.4h0M411.2 561.1h0M411.4 678.5h0M411.4 558.6h0M411 674.3h0M412.2 563.8h0M412 562.7h0M411.9 560h0M411.9 552.9h0M412.4 674.9h0M412.3 677.1h0M412.6 673.8h0M412.1 678.8h0M413.2 680h0M413.7 672.3h0M414.3 561h0M414.6 673.7h0M414.8 556.9h0M414.2 537.9h0M414.6 560h0M415.1 669.4h0M414.7 687h0M415 678.6h0M414.6 529.3h0M414.7 671.3h0M415.2 675.9h0M414.7 679.2h0M415.5 667.7h0M415.7 668.2h0M415.5 546.3h0M416.3 669.3h0M415.9 673.1h0M416 668.9h0M415.6 673.9h0M416 669.1h0M416.5 554.4h0M417 554.7h0M417.1 666.4h0M416.6 543.5h0M417.5 666h0M417.6 560.2h0M417.7 557.9h0M418.2 665.7h0M417.9 666.4h0M418.1 560.3h0M417.7 675.8h0M417.6 668.1h0M418.4 560.3h0M418.5 559.8h0M418.6 669.9h0M418.6 673.1h0M418.3 667.4h0M418.6 665.7h0M418.3 667.6h0M419 676.3h0M419.7 663.5h0M419.4 558.2h0M420.2 691.4h0M420.2 560.7h0M420.1 558h0M419.6 524.4h0M420.6 555.6h0M420.5 556.2h0M420.2 534.6h0M420.7 561h0M420.1 662.8h0M420.6 554.4h0M420.3 549.5h0M420.1 545.3h0M420.1 560.7h0M421.1 671.9h0M420.8 694.6h0M420.5 669.2h0M421.6 661.7h0M421.3 677.3h0M421.7 665.9h0M421.6 538.3h0M421.6 661.5h0M422.6 685.5h0M422.7 671.7h0M422.7 551.2h0M422.5 561.2h0M422.5 555.5h0M422.9 667.8h0M423 663.1h0M423.4 664.8h0M423.1 663.4h0M423.9 662.4h0M423.8 662.7h0M423.7 532.6h0M423.5 560.7h0M424.3 560.8h0M424.6 546.2h0M424.7 551.4h0M424.5 556.2h0M424.5 663.8h0M425.2 559.1h0M425.4 694.7h0M425.2 663.8h0M425.7 677.4h0M425.4 551.4h0M425.5 686.1h0M425.9 661.5h0M426.3 551.9h0M426.1 561.5h0M426.4 662.1h0M426.5 546h0M427.1 563h0M427.2 678.3h0M427.7 550.9h0M427.8 548.4h0M428.1 555.4h0M428.2 660.5h0M428.7 665.6h0M428.6 693.2h0M429 667.6h0M429.1 665.5h0M429.2 685.5h0M429.5 559.8h0M429.9 659.5h0M430.5 550h0M431.2 670.3h0M431.2 661h0M431.7 662.2h0M431.7 548.5h0M431.5 662.7h0M431.9 673.8h0M432.4 564.9h0M432.8 567.9h0M432.3 568.9h0"/>
<path stroke="#4fa935" stroke-width="1.7" stroke-linecap="round" d="M438.3 574h0M438.3 661.7h0M438.2 571.6h0M439 570.8h0M439.1 570.7h0M439 572.9h0M439.3 540.4h0M438.9 575.4h0M439.5 570h0M439.3 556.2h0M439.3 565h0M440.5 572.8h0M440.4 574.6h0M440.2 568.8h0M440.3 665.9h0M440.6 653.3h0M440.5 685.6h0M440.5 573.8h0M440.2 663h0M440.5 566.7h0M441.5 567.7h0M441.4 659.5h0M442 656.5h0M441.9 661.7h0M442.6 658h0M443 570.9h0M442.8 659.9h0M442.6 660.6h0M443.2 666.8h0M442.8 553h0M443.9 571.7h0M443.4 571.9h0M443.2 565.9h0M443.6 558.5h0M443.3 571h0M443.3 573.9h0M443.8 561h0M444.6 542.1h0M444.7 564.3h0M445 552h0M445.7 569.6h0M445.2 565.3h0M445.5 569.7h0M446.1 663.1h0M446.4 564.8h0M445.8 680.4h0M446.4 660.8h0M446.8 661.5h0M446.8 569.9h0M446.9 661h0M446.8 549.6h0M446.7 561.5h0M447.8 660.8h0M447.8 569.5h0M447.4 678.2h0M448.2 569.9h0M448.3 663.6h0M449.2 673.4h0M449.6 566.5h0M449.4 661.1h0M449.9 665h0M449.5 560.9h0M450 562.9h0M450.9 566.2h0M451 664h0M451.5 665.7h0M450.9 564.3h0M450.9 562.3h0M451.3 660.2h0M451.6 554.6h0M451.9 561.1h0M451.4 558.3h0M451.7 558.2h0M452 662.5h0M451.9 677.5h0M452.1 660.2h0M452.2 657.7h0M453 557.3h0M452.5 678.5h0M452.7 659.3h0M453 560.2h0M453.4 662h0M452.9 656h0M453.4 673.1h0M453.9 658.7h0M453.5 660.1h0M453.6 658.4h0M453.6 668.2h0M453.8 545.4h0M454 532.9h0M453.9 538.6h0M453.9 562.8h0M454.2 658.1h0M453.7 551.5h0M454.4 660.6h0M454.3 664.5h0M454.7 660.9h0M455.3 552.5h0M455.1 657.2h0M454.9 655.7h0M455.6 559.8h0M455.6 544.2h0M455.8 561.1h0M455.5 557.4h0M456.2 664.3h0M455.9 557.7h0M456.5 559.3h0M456.7 542.9h0M456.9 652.8h0M456.4 559.8h0M456.8 555.8h0M457.2 556.9h0M456.7 668.2h0M457.4 655.4h0M457.7 557.8h0M457.5 673.6h0M458.4 556.2h0M458.7 653.8h0M459 557.5h0M459 653.3h0M459.3 655.7h0M458.8 555.7h0M459.3 671.9h0M459.6 553.2h0M460.2 554.6h0M460.4 676h0M460.1 649.3h0M460.3 651.5h0M460.3 551.5h0M460.8 544.1h0M460.9 656.2h0M461 659.8h0M461.4 657.1h0M460.7 534.4h0M461.5 652.3h0M461.4 667.1h0M461.3 660.6h0M462.2 545.6h0M461.9 654h0M462 547h0M462 650.3h0M462.5 649.4h0M462.5 662.8h0M462.4 672h0M463.3 655.8h0M464 515.3h0M463.4 650h0M463.7 646.6h0M464.2 546h0M463.9 538.7h0M464.2 544h0M464.5 544.1h0M463.8 651.6h0M464.9 527.2h0M464.8 542.6h0M464.3 537.2h0M464.8 542.7h0M464.6 646.3h0M465 540.2h0M464.7 650.1h0M464.3 545.1h0M465.3 648.8h0M465.9 534.5h0M465.8 653.8h0M465.9 646.2h0M465.6 506.4h0M466.1 645.1h0M466.6 649h0M466.7 646.8h0M466.5 646.9h0M466.7 534.5h0M466.8 517.4h0M468 530.6h0M467.7 665h0M467.9 669.3h0M468 529.9h0M468.5 652.9h0M468.6 652.6h0M469.2 530.5h0M469.1 517.5h0M469.4 646.8h0M469.4 647.7h0M469.8 530.2h0M469.4 643h0M470.1 524.3h0M470.1 656.4h0M470.8 649.9h0M470.3 530.7h0M471.5 529.8h0M470.9 645.3h0M471.1 642.8h0M470.9 651h0M471 501.1h0M471.8 524.5h0M472 528.5h0M471.5 528.1h0M471.7 498.2h0M472 518.6h0M472.3 520.2h0M472.3 524.8h0M472.2 649.4h0M472.6 648.4h0M472.8 522.8h0M472.9 522.9h0M472.9 517.9h0M473.3 526.3h0M472.8 649h0M473.5 646.4h0M473.9 642.1h0M473.9 661.4h0M473.9 508.3h0M474.4 518.9h0M474.4 520.6h0M474.4 503.9h0M474.2 503.8h0M474.8 645.6h0M474.7 651.6h0M475.3 645.7h0M474.8 521.3h0M475.4 649.9h0M475.3 519.4h0M475 644.4h0M475.9 667.7h0M475.9 520.1h0M475.9 650.1h0M476.5 665.1h0M476.1 647.8h0M476.6 648.3h0M477 513h0M477.1 642.6h0M477.2 512h0M476.8 514.5h0M476.9 511.7h0M477.2 504.7h0M477.9 645.4h0M477.9 641h0M477.3 648.3h0M477.5 644h0M477.9 666.3h0M478 518h0M478.3 649.5h0M477.7 508.8h0M478.4 646.1h0M478.5 514.8h0M478.8 642h0M478.8 508.3h0M478.5 642.8h0M478.5 515h0M478.5 646.4h0M478.4 640.9h0M478.9 641.3h0M479.4 513.5h0M480 644.5h0M479.6 515.7h0M479.7 494.8h0M479.8 639.3h0M480 504.4h0M479.7 496h0M480 639h0M480.2 640.9h0M479.8 669h0M480 639.8h0M480.6 506.9h0M480.6 511.6h0M480.6 649.9h0M480.8 510.5h0M480.9 645.7h0M481.3 502.9h0M481.2 511.1h0M481.3 511.4h0M481.8 514.8h0M481.4 514h0M481.2 639.1h0M481.9 507h0M482.2 664.8h0M482.3 508.6h0M482.7 645.5h0M482.8 648.8h0M482.8 639.7h0M483.1 509.7h0M483 513.3h0M483.2 640.4h0M483.3 513.7h0M484.1 513.4h0M483.8 639.7h0M483.9 640.3h0M484.5 502.8h0M484.9 512.7h0M485.2 511h0M485.5 634.7h0M485.3 501.7h0M485.6 635.9h0M485.6 649.5h0M485.4 508h0M485.8 649.4h0M485.9 515.9h0M486.6 646.9h0M486.3 516h0"/>
<path stroke="#f08424" stroke-width="1.7" stroke-linecap="round" d="M506 551.5h0M505.8 623.3h0M506.4 541.8h0M506.9 550.1h0M507 637h0M507.9 629.7h0M507.8 635.3h0M508 634.2h0M508.2 544h0M507.8 624h0M507.7 543.9h0M508 623.2h0M508.4 538.2h0M508.3 547.2h0M509.1 550.4h0M509.2 637.2h0M508.9 544.6h0M509.3 635.9h0M509.5 543.9h0M508.7 547.5h0M509.4 634.9h0M509.6 540.1h0M510.4 627.3h0M509.8 537.7h0M509.8 623.6h0M510.2 627.2h0M510.5 523.6h0M510.8 539.9h0M511.3 527.1h0M511.7 635.5h0M511.7 530.3h0M511.5 519.4h0M511.3 634.4h0M511.6 511.4h0M511.8 624.7h0M511.8 630.1h0M511.8 506.6h0M512.4 529.7h0M512 626.6h0M512.4 520.7h0M511.9 526.7h0M512.4 507.3h0M512.9 625.1h0M512.7 523.9h0M513.2 523.2h0M513.3 519.1h0M513.4 524.2h0M513.2 529.7h0M513.8 526.4h0M513.7 636.7h0M514.4 650h0M513.8 509.4h0M515.6 520.2h0M515.7 628.5h0M515.9 628.5h0M515.8 639.2h0M516.5 517h0M516.2 521.6h0M516.3 633.9h0M516.7 627.8h0M516.8 518h0M517.9 646.6h0M517.9 524.7h0M518.4 626h0M518.3 627.2h0M518.5 523h0M518.4 637.2h0M518.6 523.1h0M518.7 626.3h0M519.2 522.4h0M519.3 639.4h0M519.4 517.8h0M518.9 633.9h0M519 524.1h0M519.8 522.7h0M519.3 505.6h0M519.3 513.1h0M519.3 630.7h0M520.9 522.1h0M520.9 515h0M521.5 516.4h0M521.6 658.7h0M521.6 520.6h0M521.8 639.8h0M521.8 634.5h0M521.8 629.4h0M522.7 626.9h0M522.5 511.8h0M523 624.7h0M522.4 631.5h0M523.1 519.8h0M522.9 622.4h0M523.1 513h0M523.1 512h0M523.4 633.8h0M522.9 624.6h0M523.9 517.1h0M523.9 628.6h0M523.8 628.4h0M523.3 518.1h0M524.2 514.5h0M524 519.4h0M524.4 632.1h0M524.6 518.6h0M524.3 645.8h0M525 629.6h0M524.9 514h0M524.5 638.1h0M524.8 629.4h0M525.4 513h0M525.2 508.8h0M525.5 636.4h0M525.2 515.8h0M525.3 490h0M525.2 629.5h0M525.9 508h0M526 519h0M526.8 625.4h0M526.7 620.1h0M527.2 627.8h0M527.3 511h0M527.5 509.1h0M527.7 630.4h0M528.1 634.7h0M527.9 619.9h0M528.3 515h0M528.4 518.5h0M528.4 519.2h0M528.4 630.1h0M528.9 629.3h0M529.1 620.1h0M529.4 520.7h0M529.4 505.9h0M529.6 519h0M530 651.5h0M529.7 519.8h0M529.7 625.1h0M530.3 630.3h0M530.2 519.3h0M530.2 649.5h0M530 625.2h0M530.7 521h0M530.3 619.6h0M530.5 520.5h0M530.9 518.4h0M531.4 643.9h0M531.8 630h0M531.6 644.7h0M531.8 622.7h0M531.5 622h0M531.8 497.1h0M532.4 623.7h0M532.3 625.1h0M531.9 631.6h0M532.2 523.5h0M532.6 515h0M532.7 478.5h0M532.9 543.1h0M533.3 538.4h0M533 541.1h0M533.6 551.5h0M533.6 527.5h0M533.4 547.4h0M533.3 551.2h0M533.8 624.8h0M534 621.5h0M534.1 625.4h0M534.5 556.9h0M534.8 543.4h0M535 623.5h0M534.9 555.1h0M535.7 551.3h0M535.5 628.9h0M536.4 555.5h0M536.3 628.5h0M536.3 624.3h0M536.7 540.2h0M537.4 558h0M537.4 628.9h0M536.8 551.7h0M537.3 639.7h0M537.7 626.3h0M537.5 626.6h0M538.9 541h0M538.9 551.9h0M538.3 640.3h0M538.6 560h0M539 559.5h0M539.2 543.7h0M539.7 629.9h0M539.4 628.9h0M540.5 634.4h0M540.5 630.1h0M540.4 515.6h0M540.8 643.6h0M541.4 555.5h0M541.3 634.9h0M541 631.1h0M540.8 640.5h0M541.4 560.6h0M542.1 637.5h0M542.2 552.5h0M542.8 632.4h0M542.6 563.4h0M543 641h0M543 545.8h0M543.3 562.8h0M543.2 642.2h0M542.8 564h0M543.3 633.6h0M544.1 561.9h0M544.3 659.1h0M544.8 566h0M544.9 533.7h0M544.5 564.7h0M544.8 554.6h0M544.8 638.1h0M545.1 567.6h0M545.9 560.5h0M546 637.7h0M545.4 641.9h0M545.9 643.3h0M546.3 569.1h0M546.4 569.2h0M545.9 634.9h0M546.1 638.9h0M546.2 640.7h0M546.3 554.5h0M546.8 569.7h0M546.9 642.4h0M547.1 644.1h0M547 646.7h0M546.9 639.4h0M547.3 651h0M547.3 571.8h0M548.2 569.1h0M548.1 560.2h0M548.2 573.7h0M548.1 557.5h0M548.3 574h0M548.4 644h0M548.7 647.9h0M548.3 651.7h0M549.2 649.9h0M549.5 662.6h0M549.9 584.7h0M550 654.9h0M550.4 656h0M550.1 653.9h0M550.9 654h0M550.2 583.3h0M550.3 584h0M550.4 653.8h0M550.8 655.2h0M551.3 669h0M551.3 586h0M551 588.8h0M551.8 663h0M551.9 655.5h0M552.4 674.2h0M552.5 671.4h0M552.2 654.8h0M551.9 588.2h0M552.7 591.8h0M553.1 666.7h0M553.1 592.4h0M553.2 566.5h0M553.1 582h0M553.2 563.4h0M553.4 676.9h0M553.3 577h0M553.3 663.9h0M553.8 583.5h0M553.4 592.5h0M554.2 593.4h0M554.2 659.1h0M554.7 674.8h0M554.9 592.1h0M554.4 594.4h0M554.7 543.8h0M554.8 580.1h0M555.2 573.9h0M555.1 587.5h0M555.8 591.5h0M555.6 674.6h0M556.1 579.4h0M556.7 660.2h0M556.6 594.7h0M556.4 593.2h0M557.1 661.9h0M557.4 571.5h0M557 593.3h0M557.2 665.7h0M557 678.2h0M557.4 661h0M558.5 589h0M558.4 588.2h0M558.2 666.3h0M558.5 590.1h0M558.8 593.4h0M558.2 662.4h0M559.5 678.9h0M559 586.8h0M559.4 673.2h0M559.3 588.2h0M559 687h0M558.9 667.3h0M559.6 664.4h0M559.8 583.4h0M560 592.5h0M560.1 668.1h0M559.7 587.8h0M560.1 666.7h0M560.3 581.7h0M560.5 591.8h0M560.3 591h0M560.9 666.3h0M561.1 663.8h0M561.1 662.4h0M561.4 560.4h0M562.2 592.8h0M562.5 590.4h0M561.8 593.4h0M562.7 585h0M562.9 587.1h0M563.3 661.8h0M563 670.3h0M562.8 657.7h0M563.2 588.7h0M563.1 573.5h0M563.5 678.4h0M563.8 578.7h0M564.2 564.2h0M564.8 574.7h0M565 658.4h0M564.9 562.5h0M564.8 675.6h0M565.7 649.7h0M565.8 544.7h0M565.5 577h0M566 578.3h0M566.1 646.9h0M565.7 568.1h0M566 577.4h0M566.3 575.5h0M566.5 662.5h0M566.8 663.6h0M566.9 562.9h0M566.7 652.7h0M567.4 545.5h0M568 688.5h0M567.7 545h0M567.4 553.6h0M567.8 542.3h0M568.4 650.7h0M568.3 648.3h0M568.1 547.4h0M568.9 525.7h0M569.5 527.1h0M569.7 638.8h0M569.3 646.3h0M569.7 524.1h0M569.8 531.4h0M569.9 648.6h0M569.8 636.1h0M569.7 637.1h0M570 644.9h0M570.5 511.1h0M570.9 669.4h0M570.9 529.9h0M570.9 635h0M571 641.8h0M571.3 516.8h0M571.4 636.4h0M571.4 646.3h0M571.9 633.2h0M571.4 645.9h0M572.2 632.7h0M572.2 529.9h0M572.1 644.1h0M572 640.9h0M572.6 631.8h0M572.6 526.9h0M572.5 517.6h0M572.6 529.7h0M572.8 656.4h0M573.3 646h0M573.2 529.4h0M573.5 532.7h0M574.1 511.6h0M573.9 529.2h0"/>
<path stroke="#f08424" stroke-width="1.7" stroke-linecap="round" d="M585.5 506.8h0M585 511.2h0M586 629.3h0M585.7 515.2h0M585.9 521.5h0M586.2 624.4h0M586 630.8h0M586.4 523.8h0M586 520.1h0M586.6 524.1h0M586.6 522.1h0M586.4 520.9h0M587.3 630.8h0M588.1 515.6h0M587.8 643.4h0M587.4 622.4h0M587.8 521.2h0M588.2 633.4h0M588.3 625.6h0M588.4 634h0M588.3 622h0M588.9 632.5h0M588.6 629.9h0M589.5 508.2h0M589.2 513.5h0M589.2 622.2h0M589.4 520.4h0M589.9 519.3h0M589.8 524.4h0M590.5 524.8h0M590.3 624.8h0M590.1 521.1h0M590 652.6h0M590.6 635.8h0M591 624.2h0M590.5 526.7h0M591.1 507.6h0M590.9 517h0M592 632h0M592 523.2h0M591.5 529.5h0M591.5 625.4h0M592.6 522.6h0M592.2 517.8h0M592.5 631.4h0M592.9 632.8h0M593.4 532.5h0M592.9 504.5h0M593.2 532h0M593.3 529.4h0M593.6 636.3h0M594.5 540.7h0M594.3 509h0M594.2 632.4h0M594 635.6h0M594.3 632.1h0M594.4 630.1h0M594.5 534.3h0M594.6 544h0M594.5 631h0M594.5 644.1h0M594.9 632.1h0M595.3 541.3h0M595.4 639h0M595.5 538.7h0M596.5 546.6h0M596.6 553.2h0M596 640.7h0M595.8 636.3h0M596.3 637.2h0M596.5 553.9h0M596.8 647.5h0M597 660.9h0M597.1 636.9h0M596.6 555.5h0M596.3 645.7h0M596.5 636.3h0M596.9 556.6h0M597.8 648.4h0M598.2 641.1h0M598.2 554.6h0M598.5 558.1h0M598.3 558.3h0M599.4 651.1h0M599.4 557h0M599.5 562.1h0M599.5 642.8h0M599.8 558.9h0M599.7 639.4h0M600 553.9h0M599.9 640.4h0M599.5 642.8h0M600 648h0M600.6 647.3h0M600.6 647.8h0M600.5 644.9h0M600.8 559.2h0M600.4 557.7h0M601.4 641.9h0M601 561.6h0M602.1 562.1h0M601.6 646.8h0M601.4 656.5h0M602.1 562.8h0M601.9 539.6h0M602.1 507.3h0M601.9 546.8h0M602.1 642.7h0M602.2 647.1h0M602.7 646.1h0M602.8 548.4h0M602.9 559.2h0M603.4 546.9h0M603.7 562.4h0M604.1 564.3h0M603.9 644.9h0M604 658.4h0M604.1 652.6h0M605 555h0M604.5 561.8h0M604.4 560.3h0M605 646.4h0M604.9 648.3h0M605.3 557.9h0M605 653.7h0"/>
<path stroke="#4fa935" stroke-width="1.7" stroke-linecap="round" d="M606.1 626.5h0M606.6 525.5h0M606.8 544.1h0M606.8 629.2h0M607.4 535.7h0M607.1 533.1h0M607.2 640.2h0M607.9 534h0M607.9 628.7h0M608.3 541.7h0M608.4 543.2h0M608.6 539.9h0M608.9 643.9h0M608.6 531h0M608.6 627.3h0M608.7 628.3h0M608.8 542.2h0M608.8 541.5h0M609.4 627.7h0M609.3 538.1h0M609.7 533h0M609.7 636.6h0M609.6 628.3h0M609.8 629.9h0M609.6 635.8h0M609.7 535.9h0M609.9 537.6h0M610.2 535.7h0M610.3 537.1h0M610.4 536.7h0M611.3 633.9h0M610.8 518.9h0M611.1 636h0M611.3 682.9h0M611.5 644.5h0M612.2 542.8h0M612.4 537.9h0M612.2 540.1h0M612.9 542.9h0M613.2 633.4h0M614.4 539.8h0M614.1 543.1h0M614.6 635.9h0M614.3 540.7h0M614.8 648h0M614.9 639.1h0M615.3 523.5h0M614.9 642.9h0M615.5 637.3h0M615.6 542.3h0M615.2 650.6h0M615.9 541h0M615.4 546.6h0M615.3 534.1h0M616.4 542.5h0M615.9 540h0M615.7 527.6h0M616.4 639h0M616.5 643.5h0M617.3 633.1h0M617.4 632.5h0M617.4 536.8h0"/>
<path stroke="#4fa935" stroke-width="1.7" stroke-linecap="round" d="M631.6 618.1h0M632.4 532.1h0M632.9 620.9h0M632.3 636.5h0M633.1 621h0M632.8 538.6h0M633.3 534.2h0M633.2 633.6h0M633 527.5h0M633.2 619h0M633.8 621.3h0M634.1 537h0M634 622.9h0M634.3 620.3h0M634.8 534.8h0M634.4 536.4h0M635.2 529h0M634.8 536h0M635 536.5h0M635.3 630.6h0M635.4 527.3h0M635.5 537.1h0M635.6 499.8h0M635.8 619.8h0M635.5 535.3h0M636.4 619.2h0M636 620.1h0M636.4 625.3h0M636.8 623h0M636.5 630.1h0M636.8 621.5h0M636.8 528.9h0M636.7 624.4h0M636.6 626.9h0M637.2 531.3h0M637.8 620.6h0M637.9 536.3h0M637.3 538.6h0M637.3 624.6h0M637.2 531.6h0M637.9 617.2h0M637.6 636.8h0M637.8 628.7h0M638 614.5h0M637.8 541.6h0M637.8 542.8h0M638.2 543.9h0M638.9 635.8h0M638.8 623.7h0M639.3 543.2h0M639.2 617.8h0M638.9 545.6h0M639.2 627h0M639.2 621.8h0M639.8 625.7h0M639.8 536h0M639.8 632.2h0M640.4 541.1h0M639.6 617.8h0M639.7 621.6h0M639.8 544.6h0M640.7 630.7h0M640.5 544.4h0M640.4 539.6h0M640.5 538.4h0M640.7 547.4h0M640.2 547.3h0M641.1 647.2h0M641.2 543.2h0M641.9 543.3h0M641.7 620.6h0M641.7 540.7h0M642.3 546.3h0M641.8 542.3h0M641.9 545h0M642.8 642.4h0M642.5 624.5h0M642.3 641.8h0M642.2 624.3h0M642.6 637.2h0M642.8 629.3h0M643.2 526.4h0M643.4 629.2h0M643.3 515.3h0M642.9 625.2h0M643 651.2h0M643.8 529.4h0M643.5 544h0M643.4 633.8h0M643.4 623.5h0M643.8 535.9h0M644.3 657.1h0M644.5 632.5h0M644.2 641.4h0M645 534.1h0M644.9 544.4h0M645.8 535.9h0M645.9 629.6h0M645.7 536.4h0M645.3 540.8h0M646.1 540.6h0M645.6 625.9h0M646.6 536.7h0M646.5 544.2h0M646.6 630.2h0M647.3 535.2h0M646.8 632.6h0M647.6 648.7h0M647.9 638.3h0M648 639h0M648.2 524.2h0M648 630.6h0M648.4 531h0M649 539.8h0M649.1 633.1h0M649 534.5h0M648.9 527.2h0M649.5 516.1h0M650 631.9h0M650.3 631.6h0M650.3 513.9h0M650.2 535.6h0M650.2 537h0M650.9 536.6h0M650.6 530.5h0M651.3 648.9h0M651.1 529.3h0M651.5 626.1h0M651.9 533h0M651.7 634.8h0M651.8 530h0M652 642.4h0M652.2 626.5h0M652.1 534.4h0M651.9 641.9h0M651.9 509.3h0M652.2 529.8h0M652.2 521.3h0M652.7 527.7h0M652.7 533.7h0M653.1 625.3h0M652.9 636.9h0M653.1 526.3h0M652.8 522.3h0M653.7 519.2h0M654.2 631.4h0M653.8 512.7h0M653.7 625.5h0M654.2 641h0M654.3 633.4h0M654.6 525.4h0M654.6 513.9h0M654.7 626.8h0M654.3 630h0M654.9 529.5h0M655.3 627.6h0M655.2 521.9h0M655.2 634.5h0M655.8 627.4h0M655.6 627.3h0M655.5 629.2h0M655.8 625.1h0M656.4 639.7h0M656.1 626.2h0M656.1 632.6h0M656.1 527.5h0M655.8 529.1h0M656.6 529.1h0M656.6 518h0M656.7 521.1h0M656.8 625.4h0M656.5 527.5h0M656.1 528.4h0M657.1 514.4h0M657.3 625.7h0M657.8 521.4h0M657.8 519.2h0M657.7 624.3h0M657.9 514.4h0M658.2 521.4h0M657.8 506.3h0M658.3 632h0M658.7 527.7h0M658.5 631.7h0M658.8 627.7h0M658.7 525.6h0M658.4 624.2h0M658.9 497.8h0M659 520.3h0M659.4 659.2h0M659.8 530.7h0M659.6 625.3h0M659.4 630h0M659.7 634.3h0M660.1 651.8h0M659.9 625h0M659.7 629h0M659.9 632.4h0M660.1 532.9h0M660.3 626.1h0M660.5 534.2h0M660.2 520.7h0M661.3 641.3h0M661.3 636.4h0M661.2 526.3h0M661.7 525.1h0M661.5 515.6h0M661.1 628.2h0M662 537.2h0M662.5 626h0M662.4 626.4h0M662.7 627.1h0M662.7 627.1h0M662.7 628.8h0M662.8 639.4h0M662.9 636.4h0M663.8 550.8h0M663.4 552.7h0M663.7 682.5h0M663.1 539.6h0M663.5 555.2h0M663.3 634.7h0M663.5 632h0M663.8 638.2h0M664.2 637.2h0M664.6 650h0M664.4 638.6h0M664.7 648.3h0M664.6 651.3h0M664.7 642.4h0M665 657h0M664.6 559.7h0M665.3 646.5h0M665 569.4h0M665 644.3h0M665.8 643.1h0M665.9 565.7h0M665.8 660.9h0M666.1 648.3h0M666.4 569.6h0M666.2 643.3h0M667.2 541h0M667.3 649.6h0M667.7 561.8h0M667.2 568.5h0M667.1 568.7h0M668.3 561.1h0M668.2 566.6h0M667.7 556.5h0M668.2 562.6h0M668.3 649.3h0M668.8 652.1h0M668.1 565.4h0M668.2 641.8h0M668.8 557.2h0M668.9 565.1h0M669.2 566.8h0M669 558.4h0M669.5 564.7h0M669.4 651h0M669.8 564.2h0M670.2 638h0M669.7 548.8h0M670.4 553.8h0M670.5 641.6h0M670.8 537.5h0M670.6 561h0M671.2 647.6h0M671.7 635.8h0M671.8 550.4h0M671.7 635h0M671.8 643.5h0M671.4 643.3h0M671.8 558.3h0M672.3 540.4h0M672.2 638.2h0M672.5 548.1h0M672.8 555.9h0M672.9 654.8h0M673.3 636.9h0M674.1 544.6h0M673.7 635.3h0M673.6 550.7h0M673.9 630.1h0M674.3 634.2h0M674.1 545.5h0M673.9 631.3h0M674.5 547.7h0M674.6 548.4h0M674.1 641.7h0M674.8 553.3h0M674.6 545h0M674.7 634h0M674.4 632.9h0M674.7 630.2h0M674.2 551.6h0M674.5 631.7h0M674.3 533.7h0M675.2 644.9h0M675.1 544.5h0M675 549.7h0M674.9 630.8h0M674.6 641.9h0M675.3 630.7h0M675.5 539.8h0M675.2 636.1h0M675.7 551.4h0M676.1 639h0M676.5 636.4h0M676.7 550.7h0M677.3 643.2h0M677.4 641.8h0M677.2 544.5h0M677.7 550.5h0M677.7 549.4h0M678.1 632h0M678.1 632.1h0M678.5 632.5h0M678.7 632.3h0M678.9 548.8h0M679.2 546.2h0M678.7 628.8h0M678.9 631.5h0M679.7 631.8h0M679.6 629.5h0M679.5 630.1h0M679.1 543.1h0M679.9 635.4h0M679.7 547.3h0M680.3 631.3h0M680.6 645.9h0M680.6 629.2h0M680.7 548.6h0M681.3 629h0M680.7 552.7h0M680.8 629.8h0M681.4 540h0M681.2 549.3h0M681.4 551.7h0M681.7 638.5h0M682.4 650.5h0"/>
<path fill="none" stroke="#e8231c" stroke-width="1.4" stroke-linejoin="round" d="M51 534.9L52 535.6L53 535.3L54 534.8L55 535.6L56 535.7L57 535.3L58 534.9L59 535L60 535.3L61 534.6L62 535.8L63 536L64 535.1L65 535.4L66 535.7L67 536.1L68 535.9L69 534.4L70 535.1L71 535.4L72 535L73 536L74 535.9L75 534.8L76 535.1L77 534.9L78 535.1L79 535.1L80 535.6L81 534.8L82 534L83 534.5L84 534.7L85 534.9L86 535.3L87 534.7L88 534.7L89 534.8L90 534.7L91 535L92 534.9L93 535.5L94 534.8L95 535L96 535L97 535.6L98 535.1L99 535.7L100 534.7L101 535.2L102 534.9L103 534.6L104 535.2L105 536L106 534.8L107 535.1L108 534.6L109 534.5L110 534.8L111 535L112 535L113 535.1L114 534.5L115 534.9L116 535.4L117 534.6L118 535L119 535.3L120 534.8L121 535.4L122 534.5L123 535.6L124 535.4L125 535.2L126 535.7L127 535.1L128 534.9L129 535.8L130 536L131 534.9L132 535.1L133 535.7L134 535.2L135 535.5L136 535.6L137 534.9L138 535.4L139 535.2L140 534.7L141 534.8L142 534.9L143 535.6L144 535.6L145 535.5L146 535.4L147 535.4L148 535.3L149 535.4L150 535.4L151 534.6L152 534.8L153 534.7L154 535.7L155 535.9L156 534.2L157 535.9L158 535.2L159 535.7L160 535.4L161 535.8L162 535.3L163 534.6L164 535.2L165 535.4L166 535.1L167 535.5L168 535.2L169 534.9L170 534.7L171 535L172 535.3L173 534.3L174 534.8L175 534.3L176 534.9L177 535.7L178 534.7L179 535.5L180 536.5L181 535.9L182 535.3L183 535.6L184 534.6L185 534.5L186 535.2L187 535.4L188 535.7L189 534.9L189.5 535.3L224 535.3L224 535.1L225 535.2L226 534.8L227 535.3L228 535.3L229 535L230 535.5L231 535.7L232 535.5L233 534.7L234 535.2L235 534.8L236 535.2L237 534.8L238 535.8L239 535.6L240 535.7L241 535.7L242 535.1L243 535L244 536L245 535.1L246 528.6L247 530.5L248 530.9L249 532.4L250 532.6L251 533.4L252 534.9L253 534.3L254 534.9L255 534.8L256 534.2L257 535.6L258 534.9L259 535.6L260 535.4L261 535.5L262 535L263 534.9L264 535.2L265 535.6L266 535.2L267 534.9L268 534.7L268.8 535.3M277.2 535L278.2 535.2L279.2 535.1L280.2 535L281.2 535.3L282.2 535.4L283.2 536.1L284.2 535.5L285.2 535.9L286.2 534.8L287.2 534.5L288.2 535.2L289.2 535.6L290.2 535.5L291.2 535.7L292.2 534.1L293.2 535.8L294.2 535.4L295.2 534.5L296.2 535.5L297.2 535.3L298.2 535.4L299.2 535.6L300.2 535.4L301.2 534.5L302.2 535.1L303.2 534.5L304.2 535.5L305.2 535.8L306.2 534.6L307.2 534.9L308.2 534.8L309.2 535L310.2 535.4L311.2 535L312.2 535.5L313.2 535.7L314.2 535.7L315.2 534.7L316.2 535.8L317.2 535.9L318.2 535.9L319.2 535.1L320.2 534.9L321.2 534.8L322.2 534.7L323.2 535.2L323.6 535.6L345.3 535.8L345.3 535L346.3 535.2L347.3 535.2L348.3 534.9L349.3 535.5L350.3 535.4L351.3 535.3L352.3 535.4L353.3 535.5L354.3 535.5L355.3 534.8L356.3 535.6L357.3 535.3L358.3 535L359.3 535.3L360.3 535.4L361.3 535.7L362.3 534.7L363.3 535.8L364.3 535.2L365.3 535L366.3 535L367.3 534.7L368.3 534.4L369.3 535.5L370.3 536.1L371.3 534.5L372.3 534.8L373.3 535.5L374.3 535.2L375.3 535.6L376.3 535.2L377.3 534.9L378.3 535.1L379.3 534.1L380.3 534.7L381.3 535.6L382.3 535.7L383.3 535.8L384.3 535.4L385.3 534.2L386.3 534.9L387.3 535.8L388.3 535.9L389.3 535.8L390.3 535.1L391.3 534.6L392.3 535.2L393.3 535.2L394.3 535.9L395.3 535.3L396.3 535.2L397.3 535.2L398.3 535.4L399.3 535.5L400.3 534.9L401.3 534.7L402.3 535.8L403.3 534.5L404.3 535.9L405.3 534.3L406.3 534.9L407.3 535.6L408.3 535.2L409.3 534.6L410.3 535.4L411.3 535.2L412.3 535.1L413.3 534.9L414.3 535.2L415.3 534.9L416.3 536.3L417.3 535.1L418.3 535L419.3 535L420.3 536L421.3 534.5L422.3 535.4L423.3 535.1L424.3 534.6L425.3 534.8L426.3 535.3L427.3 534.8L428.3 535.3L429.3 536L430.3 535.3L431.3 534.5L432.3 534.8L433.3 535.1L434.3 535L435.3 535.3L436.3 535.3L437.3 536L438.3 535.2L439.3 534.7L440.3 535.7L441.3 535.8L442.3 535.3L443.3 535.1L444.3 535.5L445.3 535.1L446.3 534.3L447.3 535.5L448.3 535.6L449.3 535.8L450.3 534.9L451.3 535.3L452.3 535.3L453.3 535.2L454.3 535.3L455.3 535.2L456.3 535.3L457.3 535.5L458.3 535.7L459.3 534.9L460.3 535.1L461.3 535L462.3 534.9L463.3 534.5L464.3 535.2L465.3 535.4L466.3 535.1L467.3 535.2L468.3 535.4L469.3 535.8L470.3 535L471.3 534.7L472.3 535.2L473.3 536L474.3 534.7L475.3 535.5L476.3 535.7L477.3 534.1L478.3 535.4L479.3 535.5L480.3 535.1L481.3 534.9L482.3 534.9L483.3 535.1L484.3 535.1L485.3 535L486.3 535L486.7 535.7M506 534.7L507 534.4L508 535.7L509 535.1L510 535L511 535.1L512 535.3L513 535L514 535.4L515 534.8L516 535.1L517 534.2L518 535.7L519 535.1L520 535.5L521 535.4L522 535.4L523 535.2L524 535.4L525 534.8L526 534.7L527 535.2L528 534.9L529 535.8L530 535.4L531 534.9L532 535.1L533 535.3L534 535.2L535 535.3L536 535.2L537 534.6L538 534.2L539 535L540 535.5L541 535L542 535.8L543 535.2L544 535.8L545 535.7L546 535.7L547 534.7L548 535.2L549 535.8L550 535.3L551 535.4L552 534.6L553 536.1L554 534.8L555 534.3L556 535L557 534.1L558 534.7L559 536.4L560 535L561 534.6L562 535.2L563 534.8L564 535.6L565 534.8L566 535.3L567 534.7L568 536.4L569 535.4L570 535.1L571 535.1L572 535L573 534.9L574 534.8L575 536L576 535L577 534.2L578 534.7L579 535.6L580 535.1L581 535.1L582 535.7L583 534.9L584 535.5L585 534.9L586 535.5L587 535L588 535.1L589 535.6L590 535.5L591 535.1L592 535L593 535.9L594 535.5L595 535L596 534.9L597 535.7L598 535.3L599 535.1L600 535.3L601 535.4L602 535.2L603 535.7L604 535.8L605 535.4L606 535.8L607 535.2L608 535.5L609 535.7L610 535.7L611 535.6L612 535.5L613 536.1L614 535L615 535.1L616 535.1L617 535L617.7 534.3L631.5 535.8L631.5 531.2L632.5 532.8L633.5 533.1L634.5 535L635.5 534.8L636.5 534.7L637.5 535.3L638.5 534.9L639.5 534.9L640.5 535.3L641.5 535.6L642.5 534.8L643.5 534.8L644.5 535.2L645.5 535.4L646.5 535.9L647.5 534.7L648.5 535.1L649.5 535.7L650.5 536.1L651.5 534.8L652.5 534.9L653.5 535.4L654.5 534.9L655.5 534.9L656.5 535.3L657.5 535.9L658.5 534.6L659.5 535.9L660.5 534.9L661.5 535.4L662.5 535.9L663.5 535.3L664.5 535.1L665.5 535.5L666.5 535.1L667.5 535.4L668.5 535.1L669.5 535.6L670.5 534.6L671.5 534.7L672.5 534.6L673.5 535.2L674.5 534.5L675.5 534.9L676.5 534.7L677.5 535.9L678.5 534.8L679.5 534.6L680.5 535.3L681.5 536L682.5 535.1"/>
<path fill="none" stroke="#2828f0" stroke-width="1.4" stroke-linejoin="round" d="M51 546.8L52 547.4L53 547.2L54 547L55 546.5L56 547L57 546.2L58 546.5L59 547.4L60 547.4L61 547L62 545.9L63 546.3L64 546.5L65 546.7L66 546.2L67 546.7L68 547.6L69 547L70 546.9L71 546.3L72 546.1L73 546.2L74 546L75 546.8L76 547L77 546.4L78 546.9L79 547.5L80 547.7L81 547.1L82 546.7L83 547.1L84 547.4L85 545.9L86 547.5L87 546.6L88 546.6L89 546.6L90 546.9L91 546.3L92 546.7L93 547L94 546.9L95 547L96 546.7L97 547.1L98 547.3L99 547.2L100 547L101 547.2L102 547.2L103 548L104 547.3L105 546.8L106 546.4L107 546.7L108 546.7L109 547L110 546.5L111 547.3L112 546.2L113 546.1L114 546.7L115 546.4L116 546.2L117 546.5L118 546.5L119 546.8L120 546.5L121 546.6L122 546.8L123 547.3L124 547.5L125 546.9L126 546.9L127 546.7L128 547L129 547L130 547.4L131 546L132 546.7L133 547L134 546.8L135 546.4L136 546.2L137 547.2L138 546.5L139 546L140 547.2L141 547L142 546.7L143 546.4L144 546.7L145 547.3L146 546.1L147 546.1L148 546.5L149 546.8L150 546.6L151 547.1L152 547.3L153 546.9L154 547.1L155 546.9L156 546.8L157 546.2L158 546.3L159 546.2L160 546.7L161 546.9L162 546.1L163 546.8L164 546.4L165 546.3L166 546.5L167 546.3L168 547.1L169 546.7L170 547.2L171 546.6L172 546.6L173 547.6L174 546.1L175 547.4L176 547.5L177 547.1L178 546.7L179 547.4L180 546.7L181 546.5L182 546.6L183 546.5L184 546.4L185 547.3L186 546.5L187 546.8L188 546.2L189 546.8L189.5 546.3L224 546.3L224 546.8L225 547.3L226 547L227 547L228 546.7L229 546.6L230 547.2L231 546.5L232 547.2L233 547.4L234 546.4L235 546.5L236 546.6L237 546.1L238 546.6L239 547.4L240 546.3L241 547.4L242 546.6L243 547.8L244 546.5L245 546.7L246 542.8L247 543.4L248 544.8L249 544.9L250 545.7L251 545.1L252 546.5L253 546.3L254 546.2L255 546.9L256 546.9L257 546.8L258 547.1L259 547.2L260 547.5L261 546.3L262 547.5L263 547.6L264 546.6L265 546L266 546.2L267 546.6L268 547.7L268.8 546.8M277.2 546.5L278.2 546.5L279.2 546.2L280.2 547.2L281.2 546.8L282.2 547.7L283.2 547.1L284.2 547.2L285.2 546.7L286.2 546.3L287.2 546.4L288.2 546.2L289.2 547.2L290.2 546.6L291.2 547.2L292.2 546.9L293.2 546.7L294.2 546.3L295.2 546.9L296.2 546.7L297.2 547.2L298.2 546.5L299.2 547.1L300.2 547.5L301.2 546.9L302.2 547.2L303.2 547.1L304.2 547.7L305.2 547L306.2 547.1L307.2 546.8L308.2 546.5L309.2 546.3L310.2 547.4L311.2 546.3L312.2 547.1L313.2 547L314.2 547.2L315.2 546.6L316.2 546.4L317.2 547L318.2 546.7L319.2 546.2L320.2 547.7L321.2 546.4L322.2 546.4L323.2 546.7L323.6 547.4L345.3 545.8L345.3 547.3L346.3 546.4L347.3 546.9L348.3 546.5L349.3 547.7L350.3 546.9L351.3 546.5L352.3 546.7L353.3 546.8L354.3 546.9L355.3 547L356.3 546.8L357.3 546.2L358.3 546.6L359.3 547.1L360.3 546.5L361.3 547.1L362.3 546.8L363.3 546.7L364.3 547.3L365.3 546L366.3 546.5L367.3 547.4L368.3 547.6L369.3 547.8L370.3 546.8L371.3 547L372.3 547.2L373.3 547.4L374.3 546.9L375.3 547.2L376.3 547L377.3 547L378.3 546.4L379.3 546.7L380.3 546.6L381.3 546.3L382.3 546.1L383.3 546.6L384.3 546.7L385.3 546.8L386.3 547.1L387.3 546.9L388.3 546.7L389.3 546.4L390.3 547.2L391.3 546.8L392.3 546.6L393.3 546.7L394.3 546.5L395.3 546.6L396.3 546.5L397.3 546.7L398.3 547.1L399.3 547L400.3 547.5L401.3 547.3L402.3 547.7L403.3 547.1L404.3 547L405.3 546.6L406.3 547.2L407.3 546.5L408.3 546.1L409.3 547.5L410.3 546.2L411.3 547L412.3 546.4L413.3 547.3L414.3 547.4L415.3 547L416.3 547.4L417.3 546.8L418.3 547.8L419.3 547.1L420.3 546.4L421.3 546.8L422.3 546.7L423.3 546.7L424.3 546.1L425.3 547L426.3 546.2L427.3 545.7L428.3 546.6L429.3 546.5L430.3 546.4L431.3 545.4L432.3 546.4L433.3 546.7L434.3 546.5L435.3 547L436.3 547.4L437.3 547L438.3 547.3L439.3 547.3L440.3 546.3L441.3 547L442.3 547.2L443.3 546.6L444.3 546.4L445.3 547L446.3 546.1L447.3 546.3L448.3 546.5L449.3 547L450.3 546.9L451.3 547.3L452.3 546.4L453.3 546.4L454.3 547L455.3 546.4L456.3 546.5L457.3 546L458.3 546.9L459.3 547.5L460.3 546.3L461.3 547.3L462.3 546.8L463.3 546L464.3 546.4L465.3 546.4L466.3 546.7L467.3 547L468.3 547.6L469.3 546.2L470.3 546.6L471.3 546.4L472.3 546.2L473.3 546.8L474.3 546.8L475.3 546L476.3 546.8L477.3 546.3L478.3 546.8L479.3 547.4L480.3 547L481.3 546.9L482.3 546.6L483.3 546.8L484.3 547.1L485.3 547L486.3 546.8L486.7 546.9M506 546.2L507 546.5L508 547.1L509 547.2L510 546.8L511 547.5L512 547L513 546.7L514 546.3L515 547.4L516 547.1L517 547.6L518 547.8L519 546.2L520 546.2L521 545.5L522 547.2L523 547.1L524 546.8L525 546.2L526 546.8L527 546.9L528 547.2L529 546.9L530 547.1L531 546.7L532 547.3L533 547.1L534 546.3L535 547.4L536 547.4L537 547L538 546.9L539 547.5L540 546.1L541 547.4L542 546.6L543 547.3L544 546.9L545 546.2L546 546.6L547 547.3L548 546.7L549 546.5L550 546.5L551 547.1L552 547.6L553 545.8L554 548.1L555 546.9L556 547.1L557 546.6L558 546.8L559 546.9L560 546.3L561 546.4L562 547.3L563 546.1L564 547L565 546.6L566 546.4L567 547.7L568 546.4L569 546.3L570 546.7L571 546.5L572 546.8L573 546.9L574 546.9L575 546.7L576 546.5L577 547.1L578 546.7L579 546.6L580 547.5L581 546.7L582 547.3L583 547.4L584 547.4L585 547.1L586 546.8L587 546.8L588 546.7L589 545.8L590 547.1L591 546.9L592 547.2L593 546.7L594 547.1L595 546.2L596 546.3L597 545.7L598 546.7L599 546.5L600 546.4L601 547L602 546.6L603 546.2L604 547.9L605 546.8L606 546.3L607 546.5L608 546.7L609 546.7L610 547.4L611 546.8L612 547.6L613 546.6L614 547L615 547.3L616 547.3L617 547.4L617.7 546.7L631.5 546.8L631.5 543.6L632.5 545.2L633.5 546.4L634.5 546.9L635.5 546.8L636.5 547.6L637.5 546.6L638.5 546.5L639.5 546.6L640.5 546.3L641.5 547.1L642.5 546.9L643.5 547.1L644.5 546.6L645.5 546.8L646.5 545.8L647.5 547L648.5 546.8L649.5 546.3L650.5 546.8L651.5 546.7L652.5 547.6L653.5 546.3L654.5 546.9L655.5 546.3L656.5 546.5L657.5 546.9L658.5 546.7L659.5 546.8L660.5 546.9L661.5 546.6L662.5 547.2L663.5 546.7L664.5 546.8L665.5 547L666.5 546.9L667.5 547.1L668.5 546.9L669.5 547L670.5 546.7L671.5 546.3L672.5 546.2L673.5 546L674.5 547.6L675.5 545.8L676.5 547.3L677.5 546.4L678.5 547.3L679.5 545.8L680.5 546.7L681.5 547.5L682.5 547.1"/>
<path fill="none" stroke="#2828f0" stroke-width="1.4" stroke-linejoin="round" d="M51 626.9L52 626.2L53 626.5L54 627.7L55 626.9L56 627.1L57 627.2L58 626.5L59 627.3L60 626.9L61 627.2L62 626.8L63 626.4L64 626.9L65 627.4L66 627.3L67 627.1L68 627.5L69 627L70 627.1L71 626.9L72 627.5L73 627.2L74 626.8L75 626.4L76 627.6L77 626.8L78 627.1L79 628.2L80 627.5L81 627.8L82 626.9L83 627.6L84 627.1L85 627.3L86 628L87 627L88 627.1L89 626.7L90 627.5L91 626.8L92 627.6L93 626.4L94 627.3L95 626.8L96 627.4L97 627.1L98 626.9L99 626.9L100 626.7L101 627.5L102 626.6L103 627L104 627.3L105 627.8L106 627.1L107 627L108 627.2L109 626.2L110 626.6L111 626.9L112 626.8L113 626.4L114 627.5L115 627.2L116 627.2L117 626.8L118 627.1L119 627.3L120 627L121 627.3L122 626.7L123 627.1L124 627.6L125 627.7L126 627.7L127 627.2L128 627.1L129 626.9L130 626.3L131 626.5L132 627L133 627.1L134 627.7L135 627.7L136 626.8L137 627.5L138 626.9L139 627.4L140 627.5L141 627.7L142 626.9L143 627.6L144 626.3L145 627.7L146 627.1L147 627.1L148 626.2L149 626.9L150 627.7L151 626.9L152 627.4L153 627.1L154 627.6L155 627.2L156 626.7L157 627.1L158 627.8L159 627.3L160 627L161 628.1L162 627.6L163 627.5L164 627.2L165 627.4L166 627.4L167 626.1L168 627.3L169 627L170 626.9L171 627L172 626.4L173 626.3L174 627.7L175 627.3L176 626L177 626.8L178 627.5L179 627L180 627.7L181 627.6L182 626.5L183 627L184 626.9L185 626.5L186 626.4L187 626.7L188 626.8L189 627.2L189.5 627.6L224 627.3L224 627.4L225 627L226 627.4L227 627L228 626.9L229 628L230 626.1L231 626.3L232 627.3L233 627L234 626.5L235 626.6L236 626.7L237 627.5L238 627.6L239 627.8L240 626.4L241 626.5L242 626.5L243 627.7L244 627.3L245 627.1L246 630.8L247 630.2L248 629.2L249 629.4L250 628.6L251 627.7L252 628L253 627L254 627.2L255 627L256 627.5L257 627.2L258 626.7L259 627.2L260 627.3L261 627.3L262 627.6L263 626.8L264 627.4L265 626.3L266 627L267 627L268 627.8L268.8 627M277.2 627.4L278.2 626.3L279.2 626.9L280.2 626.7L281.2 628.2L282.2 626.8L283.2 627.1L284.2 627.2L285.2 626.4L286.2 626.9L287.2 627.3L288.2 627.1L289.2 626.1L290.2 626.8L291.2 627.6L292.2 627.4L293.2 627.6L294.2 626.7L295.2 627.7L296.2 627.1L297.2 627.8L298.2 627.1L299.2 626.2L300.2 627.5L301.2 626.9L302.2 626.9L303.2 626.4L304.2 627.8L305.2 626.9L306.2 627.8L307.2 626.9L308.2 626.7L309.2 627.7L310.2 627.1L311.2 627.1L312.2 626.5L313.2 626.9L314.2 627.3L315.2 626.5L316.2 626.9L317.2 626.9L318.2 627.1L319.2 627.8L320.2 627L321.2 626.8L322.2 628.3L323.2 626.9L323.6 627L345.3 626.9L345.3 627L346.3 627.1L347.3 627.5L348.3 627.3L349.3 627.6L350.3 627.6L351.3 627.2L352.3 627.3L353.3 627.6L354.3 626.6L355.3 628.2L356.3 626.9L357.3 626.9L358.3 626.6L359.3 626.6L360.3 627.5L361.3 628.1L362.3 626.8L363.3 627.3L364.3 627.2L365.3 627.6L366.3 628.1L367.3 627.8L368.3 627L369.3 627.3L370.3 627.4L371.3 627.1L372.3 626.6L373.3 626.7L374.3 627.6L375.3 627.7L376.3 627L377.3 627.2L378.3 627.6L379.3 626.3L380.3 626.9L381.3 628L382.3 627.2L383.3 626.6L384.3 627.2L385.3 627.6L386.3 626L387.3 627.2L388.3 626.9L389.3 626.4L390.3 627.1L391.3 627L392.3 627.1L393.3 626.9L394.3 626.6L395.3 626.4L396.3 626.8L397.3 627.5L398.3 627.2L399.3 627.1L400.3 626.6L401.3 626.9L402.3 627.4L403.3 627.3L404.3 626.9L405.3 625.9L406.3 626.8L407.3 626.9L408.3 626.7L409.3 626.9L410.3 627.5L411.3 627.1L412.3 627.5L413.3 626.4L414.3 627L415.3 626.2L416.3 626.9L417.3 626.6L418.3 627.7L419.3 627.3L420.3 627.6L421.3 626.9L422.3 626.6L423.3 626.6L424.3 627.2L425.3 627.9L426.3 627.3L427.3 626.9L428.3 627L429.3 627.1L430.3 628L431.3 627.7L432.3 627.2L433.3 627.1L434.3 627.2L435.3 627.3L436.3 626.9L437.3 626.7L438.3 627.6L439.3 627.1L440.3 627.5L441.3 627.8L442.3 627.3L443.3 627.3L444.3 628.5L445.3 627.2L446.3 626.6L447.3 627L448.3 627.8L449.3 626.5L450.3 626.8L451.3 627.6L452.3 627L453.3 627.1L454.3 627.6L455.3 626.8L456.3 626.4L457.3 626.5L458.3 627.4L459.3 627.2L460.3 626.8L461.3 626.6L462.3 627L463.3 627.6L464.3 626.7L465.3 626.8L466.3 626.6L467.3 626.9L468.3 627.3L469.3 628.1L470.3 627.2L471.3 627.1L472.3 627.5L473.3 627.4L474.3 626.8L475.3 628.1L476.3 627.1L477.3 627.2L478.3 627.3L479.3 627.3L480.3 627.8L481.3 626.8L482.3 627.5L483.3 627.2L484.3 627.5L485.3 627L486.3 626.9L486.7 627.4M506 627.3L507 626.7L508 627.7L509 627.4L510 627.1L511 626.9L512 627.3L513 627.4L514 626.4L515 627.3L516 627.4L517 626L518 627.2L519 627.4L520 627.4L521 627.5L522 627L523 626.6L524 626.3L525 627.6L526 627.4L527 627.6L528 626.8L529 627.5L530 626.4L531 626.7L532 627.2L533 627.4L534 627.9L535 627L536 626.7L537 626.7L538 626.8L539 628.1L540 627.4L541 627.6L542 627L543 627.1L544 627.4L545 626.9L546 627L547 626.8L548 626.9L549 627.1L550 626.7L551 627.2L552 627.2L553 627L554 626.7L555 627.1L556 626.9L557 627.1L558 627.6L559 626.5L560 628.1L561 627.1L562 627.3L563 626.8L564 627.6L565 627L566 626.9L567 626.8L568 627L569 627.3L570 627.2L571 627.1L572 626.8L573 626.8L574 626.9L575 627.3L576 627.4L577 627.5L578 627.1L579 627.3L580 627L581 626.3L582 627L583 626.9L584 626.6L585 626.8L586 627.2L587 626.6L588 626.8L589 627.8L590 626.4L591 627L592 626.6L593 626.8L594 627L595 626.7L596 627.4L597 627.7L598 627.5L599 627.6L600 626.5L601 627L602 627.3L603 627.5L604 627.9L605 627.6L606 627.5L607 628.3L608 627.1L609 627L610 627.2L611 626.7L612 627.1L613 626.3L614 626.9L615 627L616 627.5L617 627.6L617.7 626.7L631.5 628L631.5 629.3L632.5 628.7L633.5 627.3L634.5 627.1L635.5 627.6L636.5 627.2L637.5 627.1L638.5 627.2L639.5 626.5L640.5 627.1L641.5 627.7L642.5 627.6L643.5 627L644.5 627.8L645.5 626.5L646.5 626.7L647.5 627.9L648.5 627.4L649.5 627L650.5 627.1L651.5 626.7L652.5 627.2L653.5 627.2L654.5 627.1L655.5 626.6L656.5 627.2L657.5 626.9L658.5 626.7L659.5 627.7L660.5 628.1L661.5 628L662.5 627.4L663.5 627L664.5 627.1L665.5 627.3L666.5 626.9L667.5 627.7L668.5 626.2L669.5 627L670.5 627.5L671.5 626.7L672.5 627L673.5 627.4L674.5 627.8L675.5 626.5L676.5 626.5L677.5 626.7L678.5 626.4L679.5 626.4L680.5 626.7L681.5 627.7L682.5 627"/>
<path fill="none" stroke="#e8231c" stroke-width="1.4" stroke-linejoin="round" d="M51 638.9L52 638.5L53 639.2L54 639.7L55 638.5L56 639.7L57 639.1L58 638.9L59 639.1L60 639.1L61 639.7L62 639.1L63 639.1L64 638.7L65 639.3L66 638.5L67 638.9L68 640.2L69 637.8L70 639L71 639L72 638.8L73 638.8L74 638.9L75 638.8L76 639L77 638.7L78 639.8L79 638.8L80 639.2L81 638.6L82 639.3L83 639.2L84 639.1L85 638.4L86 638.6L87 639.7L88 638.6L89 639.2L90 638.5L91 639.4L92 638.6L93 638.5L94 638.6L95 638.7L96 639.1L97 638.9L98 638.4L99 638.9L100 638.4L101 639.2L102 639.3L103 638.9L104 639L105 639.7L106 638.8L107 638.5L108 639.2L109 638.4L110 638.8L111 638.6L112 638.6L113 638.8L114 639.3L115 639.4L116 639.3L117 639.1L118 638.8L119 637.8L120 639.1L121 637.9L122 638L123 638.8L124 639L125 638.7L126 639.6L127 639.1L128 638.8L129 639.5L130 639.6L131 639.1L132 638.6L133 638.7L134 638.2L135 638.9L136 638.4L137 638.8L138 639L139 638L140 638.3L141 638.7L142 638.9L143 638.7L144 638.8L145 638.6L146 638.2L147 638.7L148 638.8L149 638.8L150 639L151 639.1L152 639.2L153 638.6L154 638.2L155 639.5L156 639.1L157 638.5L158 639L159 639.4L160 639.7L161 639L162 639.4L163 638.4L164 638.9L165 638.7L166 639.1L167 639.6L168 639L169 638.5L170 638.3L171 639.6L172 639.1L173 639.1L174 638.7L175 639L176 638.5L177 639.1L178 638.4L179 638.7L180 638.6L181 637.4L182 638.7L183 638.5L184 638.8L185 638.9L186 639.7L187 639L188 639.1L189 639.1L189.5 639.3L224 639.1L224 639L225 639.2L226 637.8L227 639.8L228 639.6L229 639L230 638.3L231 639.4L232 638.6L233 639.1L234 638.3L235 639.9L236 638.3L237 638.9L238 637.9L239 638.9L240 638.7L241 639.4L242 638.7L243 639.4L244 638.4L245 638.8L246 644.8L247 644.3L248 643.4L249 642.7L250 641.7L251 641L252 639.5L253 639.2L254 639.6L255 638.1L256 639.1L257 639.2L258 639.6L259 639.2L260 638.9L261 639.1L262 638.6L263 638.7L264 638.3L265 639.6L266 639.1L267 638.5L268 639L268.8 639.4M277.2 639.3L278.2 638.5L279.2 637.5L280.2 639.1L281.2 638.5L282.2 639.2L283.2 639.3L284.2 639.4L285.2 639.7L286.2 639.5L287.2 639.7L288.2 639.5L289.2 639.6L290.2 638.9L291.2 638.3L292.2 640L293.2 638.9L294.2 639.5L295.2 638.7L296.2 639.3L297.2 637.8L298.2 638.7L299.2 638.9L300.2 639.1L301.2 639.4L302.2 638.4L303.2 639.2L304.2 639.5L305.2 640L306.2 639.2L307.2 638.7L308.2 638.3L309.2 639.7L310.2 639.2L311.2 638.9L312.2 638.2L313.2 638.5L314.2 639.2L315.2 639.1L316.2 638L317.2 639.2L318.2 638.2L319.2 639.5L320.2 639L321.2 638.7L322.2 639.3L323.2 639.1L323.6 639.5L345.3 638.9L345.3 639L346.3 638.8L347.3 639L348.3 639.7L349.3 638.7L350.3 639.2L351.3 638.5L352.3 638L353.3 639L354.3 639.1L355.3 638.9L356.3 638.2L357.3 639L358.3 639L359.3 638.5L360.3 638.3L361.3 638.8L362.3 639.2L363.3 639.1L364.3 638.5L365.3 639L366.3 639.3L367.3 638.4L368.3 638.9L369.3 639.5L370.3 638.3L371.3 639.4L372.3 639.6L373.3 638.8L374.3 638.7L375.3 639.4L376.3 638.8L377.3 637.8L378.3 638.9L379.3 639.1L380.3 639.2L381.3 638.5L382.3 638.8L383.3 639.3L384.3 638.9L385.3 638.2L386.3 639.5L387.3 638.8L388.3 639.4L389.3 638.3L390.3 638.8L391.3 639.1L392.3 638.9L393.3 638.4L394.3 637.8L395.3 639.6L396.3 639L397.3 639.4L398.3 639.3L399.3 639.2L400.3 638.8L401.3 639.1L402.3 639.5L403.3 638.9L404.3 639.8L405.3 638.2L406.3 638.2L407.3 639.3L408.3 638.5L409.3 639.8L410.3 639.5L411.3 639.6L412.3 639.3L413.3 638.5L414.3 638.2L415.3 639.6L416.3 638.2L417.3 639.6L418.3 639.2L419.3 638.9L420.3 639.1L421.3 639.1L422.3 638.8L423.3 639.5L424.3 639.5L425.3 639L426.3 638.6L427.3 639.5L428.3 638L429.3 639.1L430.3 639.2L431.3 638.5L432.3 639.3L433.3 638.9L434.3 638.7L435.3 639.3L436.3 638.4L437.3 639.3L438.3 638L439.3 639L440.3 638.9L441.3 638.7L442.3 639.1L443.3 638.9L444.3 639.4L445.3 639.2L446.3 639.1L447.3 639L448.3 638.7L449.3 638.8L450.3 639L451.3 638.8L452.3 639.4L453.3 638.9L454.3 639.1L455.3 638.3L456.3 639.3L457.3 638.6L458.3 638.4L459.3 639.6L460.3 639.2L461.3 639.3L462.3 639.1L463.3 638.9L464.3 638.8L465.3 639.3L466.3 639.4L467.3 638.9L468.3 639.8L469.3 638.8L470.3 638.3L471.3 638.1L472.3 638.1L473.3 638.7L474.3 638.8L475.3 639.2L476.3 638.9L477.3 639.3L478.3 638.9L479.3 638.9L480.3 638.6L481.3 639.5L482.3 638.2L483.3 639L484.3 638.8L485.3 639.3L486.3 638.9L486.7 638.9M506 638.8L507 639.5L508 638.9L509 639.8L510 639L511 638.9L512 638.8L513 639.2L514 638.6L515 639L516 638.9L517 639L518 639.1L519 639.1L520 638.9L521 639.6L522 639.1L523 640.1L524 638.9L525 639.3L526 638.6L527 639.5L528 638.6L529 639.1L530 638.8L531 639.1L532 638.8L533 638.5L534 638.8L535 639.6L536 639.1L537 638.3L538 639.4L539 638.5L540 639.2L541 639.1L542 639.2L543 639.7L544 638.5L545 639.2L546 639.5L547 638.6L548 638.6L549 638.8L550 639L551 638.3L552 639.1L553 638.3L554 639.5L555 639.1L556 639.8L557 639.2L558 638.8L559 638.5L560 639L561 638.9L562 639.4L563 638.5L564 639.8L565 639.5L566 638.8L567 639.7L568 638.5L569 639L570 638.3L571 639.7L572 638.2L573 638.3L574 638.6L575 639.5L576 639.3L577 639L578 639.4L579 638.8L580 639.1L581 639.6L582 638.8L583 638.6L584 639.1L585 639.2L586 638.9L587 639.4L588 638.8L589 639L590 639.1L591 639L592 639.6L593 639.1L594 638.8L595 639.1L596 639.4L597 639.2L598 639.2L599 638.2L600 637.8L601 639.5L602 639.1L603 638.9L604 639.2L605 639.8L606 639.5L607 639.3L608 638.5L609 638.6L610 637.8L611 639.2L612 639.4L613 639.4L614 639.2L615 638.8L616 638.6L617 638.5L617.7 638.8L631.5 638.5L631.5 643.2L632.5 640.8L633.5 640.3L634.5 638.5L635.5 639L636.5 638.9L637.5 638.7L638.5 638.5L639.5 638.9L640.5 638.7L641.5 638.8L642.5 639.8L643.5 639L644.5 639.1L645.5 638.7L646.5 638.5L647.5 638.9L648.5 640L649.5 638.8L650.5 639.1L651.5 638.5L652.5 637.7L653.5 638.5L654.5 640L655.5 639.2L656.5 639.6L657.5 638.7L658.5 637.8L659.5 638.4L660.5 639.1L661.5 639L662.5 638.9L663.5 638.7L664.5 639.3L665.5 638.7L666.5 639L667.5 639L668.5 638.7L669.5 638.5L670.5 638.7L671.5 639.7L672.5 639.4L673.5 639.4L674.5 638.5L675.5 638.3L676.5 639.4L677.5 639.3L678.5 639L679.5 638.7L680.5 638.2L681.5 639.3L682.5 639.4"/>
<path fill="none" stroke="#000" stroke-width="1.5" stroke-linejoin="round" d="M50.8 581L51.8 578.6L52.8 576.9L53.8 578L54.8 574.8L56 577.2L57.2 581.2L58.4 585.9L59.6 586L60.8 586.6L62 587.5L63.1 584.6L64.3 582.8L65.4 581.3L66.4 579.1L67.5 578L68.6 576.3L69.6 572.8L70.7 568.4L71.8 571.4L73 571.6L74.2 575L75.5 578L76.7 579L77.9 581.2L79.5 576.4L80.7 572.4L81.9 568.4L83.1 562.6L84.3 558L85.9 566.8L87.1 574.3L88.2 578L90 582.5L91.1 590.6L92.2 596L93.3 603.6L94.5 611.5L95.6 607L96.7 605L97.8 604.5L98.9 600L100.1 603.7L101.2 607L102.3 605.3L103.4 604L104.5 605.3L105.6 602.6L106.5 612L107.4 622.7L108.3 602.6L109.3 604.4L110.2 606.8L111.2 609.3L112.3 609.8L113.5 614.2L114.6 616L115.7 619.5L116.8 625L117.9 626.5L119 629.4L120.2 633L121.3 638.4L122.4 646.6L123.5 656.3L124.7 660.8L125.8 667.4L126.9 647.3L128 638.4L129.1 636.5L130.2 634L131.3 631.5L132.5 629.4L133.6 631.8L134.7 634L135.8 635.9L137 631.7L138.1 634.8L139.2 638.4L140.3 637L141.5 634L142.6 633.8L143.7 631.7L144.8 632.8L145.9 634L147 636.6L148.1 638.4L149.2 640.6L150.4 642.8L151.5 642L152.6 640.6L153.7 638.7L154.8 638.4L155.9 638.9L157 640.6L158.2 638.3L159.3 636L160.4 632.4L161.5 634L162.7 634.8L163.8 631.7L164.9 634.5L166 631.9L167.1 632.6L168.2 631.7L169.3 632.7L170.5 629.2L171.6 630.5L172.6 630.5L173.2 600.4L173.6 630.5L174.5 631.7L175.5 629.9L176.4 633.5L177.4 630.3L178.3 630.5L179.4 631.3L180.6 629.5L181.7 629.4L182.8 632.3L183.9 628.7L185 629.4L186.1 630.9L187.2 629.4L188.3 636.9L189.5 642.8L219.3 579.2L220.3 587.4L221.3 594.9L222.2 601.4L223.2 606.6L224.2 617.6L225.3 610.2L226.5 600L227.7 592.8L228.8 586.9L230.3 597L231.6 590.7L233.1 598.4L234.1 591.5L235 581.5L235.9 576.6L236.8 570.8L238.2 577L239.6 576.9L240.8 581.5L241.9 583L243.1 589.4L244.2 593.8L245.7 597.7L247.3 596L248.4 593.9L249.5 599L250.5 598.9L251.6 601.9L252.7 601.5L253.1 609.2L254.2 592.3L255.3 592.3L256.5 590.7L258 598.4L259.6 586.1L261.1 575.4L262.2 574.6L263.4 572.3L264.5 571.2L265.7 570.8L266.9 568.8L268 569.2L268.8 560"/>
<path fill="none" stroke="#000" stroke-width="1.5" stroke-linejoin="round" d="M277.2 544.4L278.1 542.6L279 542L280.1 538.5L281.1 539.6L282.7 536.5L284.3 533.3L285.9 532.5L287.2 539.6L288.3 533.3L289.9 520.5L290.7 519L291.9 518.6L293 519.7L293.9 525.3L295.5 536.5L297 547.6L298.6 557.1L300.2 565L301.2 580.7L302.6 577L303.9 577.1L305.5 575L306.5 584L307.5 596.8L308.4 601.4L309.3 605.7L310.6 600.1L312 593.2L313.8 591.4L315.5 600.4L316.8 596L318.2 611L319.1 613.7L320 616.4L320.9 613.1L321.8 611L322.7 617L323.6 625.4L345 618.2L345.9 605.7L346.8 582.5L348.1 584.5L349.1 581L350.2 577.2L351.2 575.2L352.8 581.4L353.9 586L354.9 590.7L356.1 589.5L357.4 592.3L359 587.6L360 586.4L361 582.7L362 581.4L363.6 592.3L365.2 600L366.2 602L367.3 603.1L368.6 605.8L369.8 606.2L371.1 612.8L372.3 618.6L373.4 616.5L374.5 612.4L376 609.3L377.2 612.1L378.5 620.2L379.6 618L380.7 617.1L381.8 616.2L382.8 612.4L384.1 608.4L385.3 603.1L386.3 602.4L387.4 599.1L388.4 593.8L389.6 588.8L390.9 583L392 585L393.1 587.6L394.6 593.8L395.6 593.6L396.7 595.3L397.7 597L398.7 598.5L399.8 600.3L400.8 603.1L402.4 609.3L403.4 610.2L404.5 614L405.5 615.5L406.5 620.8L407.6 622.9L408.6 624.8L409.6 627.4L410.7 632.3L411.7 634L412.7 630.4L413.8 625.7L414.8 621.7L415.9 617.4L416.9 613.2L418 609.3L419 616.4L420 621.9L421 628L422.2 628.6L423.5 631L424.9 619.1L426.2 609.3L427.2 605.6L428.3 601.7L429.3 597L430.3 599.7L431.4 601.7L432.4 606.2L438.6 603.1L439.6 609.9L440.7 614.8L441.7 618.6L442.7 613.9L443.8 616.2L444.8 612.4L445.8 611.1L446.9 610.6L447.9 609.3L448.9 606.7L450 603.2L451 597L452 600.3L453.1 601.4L454.1 603.1L455.1 598.2L456.2 594.3L457.2 593.8L458.2 597L459.3 599.7L460.3 600L461.3 594.8L462.4 591.4L463.4 587.6L464.4 582.7L465.5 578.6L466.5 575.2L467.5 574.5L468.6 571.4L469.6 569L470.6 566.6L471.7 568.3L472.7 562.8L473.7 557.8L474.8 557.3L475.8 553.5L476.7 551.5L477.7 552.1L478.6 551.8L479.6 552.1L480.5 550.4L481.5 551.1L482.6 552L483.6 553.5L484.8 549.3L486 545.8"/>
<path fill="none" stroke="#000" stroke-width="1.5" stroke-linejoin="round" d="M506.1 606.2L507.4 598.6L508.6 593.8L509.9 593.1L511.1 590.7L512.2 583.3L513.3 575.2L514.3 572.7L515.4 569L516.6 573.6L517.9 578.3L518.9 573.9L520 571.6L521 565.9L522.2 559.5L523.5 550.4L524.6 556.9L525.7 559.7L526.8 558.6L527.8 556.6L529 561.5L530.3 562.8L531.3 567.4L532.4 572.9L533.4 578.3L534.6 587.6L535.9 593.8L537 596.5L538.1 597L539.2 590.4L540.2 584.5L541.2 589.4L542.1 597L543.1 597.7L544.2 598.1L545.2 600L546.3 606.9L547.4 609.3L548.4 613.4L549.5 614.5L550.5 618.6L551.5 618.8L552.6 620.7L553.6 623.3L554.6 623.1L555.7 624.1L556.7 624.8L557.6 625.6L558.5 622.3L559.5 625.9L560.4 621.1L561.3 621.7L562.3 618.8L563.4 621.8L564.4 618.6L565.6 604.8L566.9 587.6L568.1 575.2L569.4 571.9L570.6 569L571.7 572.6L572.8 575.2L586.1 556.6L587.3 566L588.5 569.5L589.8 572L590.8 574.3L591.9 574.5L592.9 578.3L594.5 587.6L596 593.8L597 591.6L598.1 594.8L599.1 597L600.4 604L601.6 606.2L602.7 610.2L603.8 609.3L604.9 607.4L606 606.2L606.9 584.5L608.4 581.4L609.6 584.8L610.9 590.7L612 592.6L613.1 593.8L614.2 598.3L615.2 601.6L616.2 598.5L617.1 593.8L631.7 590.7L632.6 575.2L633.7 567.3L634.8 566L635.8 568.5L636.9 562.8L637.8 568.9L638.8 572L640.1 568.7L641.4 566L642.5 565.1L643.5 566L644.8 573.4L646 578.3L647.6 584.5L648.6 581L649.7 576.3L650.7 572L651.7 571.6L652.8 569.9L653.8 569L654.8 567.5L655.9 565.8L656.9 562.8L658 562.5L659 561.3L660.2 573.3L661.5 584.5L662.8 589.4L664 590.7L665.2 612.4L666.2 611.9L667.1 615.5L668.2 609.8L669.3 606.2L670.8 600L672 595.4L673.3 590.7L674.4 591.4L675.5 594L676.5 590.3L677.6 587.6L678.8 589.3L680 587.6L681.1 587.4L682.3 587.6"/>
<line x1="266.5" y1="500.4" x2="280.7" y2="515.7" stroke="#333" stroke-width="0.6"/><rect x="255.1" y="491.1" width="20.700000000000017" height="9.299999999999955" fill="#fff" stroke="#777" stroke-width="0.8"/><text x="265.45" y="498.25" font-family="'Liberation Serif', serif" font-size="7.2" font-weight="bold" text-anchor="middle">rpoD</text>
<line x1="246" y1="517.4" x2="285" y2="532.5" stroke="#333" stroke-width="0.6"/><rect x="229.9" y="508.7" width="31.900000000000006" height="8.699999999999989" fill="#fff" stroke="#777" stroke-width="0.8"/><text x="245.85000000000002" y="515.55" font-family="'Liberation Serif', serif" font-size="7.2" font-weight="bold" text-anchor="middle">Zn-finger</text>
<line x1="321.4" y1="489.4" x2="294.7" y2="506" stroke="#333" stroke-width="0.6"/><rect x="311.4" y="480.1" width="22.200000000000045" height="9.299999999999955" fill="#fff" stroke="#777" stroke-width="0.8"/><text x="322.5" y="487.25" font-family="'Liberation Serif', serif" font-size="7.2" font-weight="bold" text-anchor="middle">sirB</text>
<line x1="321.4" y1="520.9" x2="298" y2="538" stroke="#333" stroke-width="0.6"/><rect x="311.7" y="512.7" width="25.80000000000001" height="8.199999999999932" fill="#fff" stroke="#777" stroke-width="0.8"/><text x="324.6" y="519.3" font-family="'Liberation Serif', serif" font-size="7.2" font-weight="bold" text-anchor="middle">ACSBG</text>
<line x1="495.9" y1="502.5" x2="486.4" y2="525.9" stroke="#333" stroke-width="0.6"/><rect x="486.2" y="493.8" width="19.900000000000034" height="8.699999999999989" fill="#fff" stroke="#777" stroke-width="0.8"/><text x="496.15" y="500.65" font-family="'Liberation Serif', serif" font-size="7.2" font-weight="bold" text-anchor="middle">KLC</text>
<path stroke="#e8231c" stroke-width="2.2" stroke-linecap="round" d="M280.7 515.7h0M294.7 506h0M486.4 526h0M285 532.5h0M298 538h0"/>
<rect x="50.8" y="476.5" width="631.7" height="220.29999999999995" fill="none" stroke="#555" stroke-width="1"/>
<line x1="50.8" y1="476.5" x2="50.8" y2="696.8" stroke="#333" stroke-width="1.2"/>
<line x1="50.8" y1="696.8" x2="682.5" y2="696.8" stroke="#333" stroke-width="1.2"/>
<line x1="46" y1="476.2" x2="50.8" y2="476.2" stroke="#333" stroke-width="1"/>
<text x="43" y="480.8" font-family="'Liberation Serif', serif" font-size="13" font-weight="bold" text-anchor="end">1.0</text>
<line x1="46" y1="531.5" x2="50.8" y2="531.5" stroke="#333" stroke-width="1"/>
<text x="43" y="536" font-family="'Liberation Serif', serif" font-size="13" font-weight="bold" text-anchor="end">0.5</text>
<line x1="46" y1="586.8" x2="50.8" y2="586.8" stroke="#333" stroke-width="1"/>
<text x="43" y="591.2" font-family="'Liberation Serif', serif" font-size="13" font-weight="bold" text-anchor="end">0.0</text>
<line x1="46" y1="642" x2="50.8" y2="642" stroke="#333" stroke-width="1"/>
<text x="43" y="646.5" font-family="'Liberation Serif', serif" font-size="13" font-weight="bold" text-anchor="end">−0.5</text>
<line x1="46" y1="697.2" x2="50.8" y2="697.2" stroke="#333" stroke-width="1"/>
<text x="43" y="701.8" font-family="'Liberation Serif', serif" font-size="13" font-weight="bold" text-anchor="end">−1.0</text>
<line x1="163.6" y1="696.8" x2="163.6" y2="700.8" stroke="#333" stroke-width="1"/>
<text x="163.6" y="714.5" font-family="'Liberation Serif', serif" font-size="12.5" font-weight="bold" text-anchor="middle">Chr1</text>
<line x1="339.9" y1="696.8" x2="339.9" y2="700.8" stroke="#333" stroke-width="1"/>
<text x="339.9" y="714.5" font-family="'Liberation Serif', serif" font-size="12.5" font-weight="bold" text-anchor="middle">Chr2</text>
<line x1="455.7" y1="696.8" x2="455.7" y2="700.8" stroke="#333" stroke-width="1"/>
<text x="455.7" y="714.5" font-family="'Liberation Serif', serif" font-size="12.5" font-weight="bold" text-anchor="middle">Chr3</text>
<line x1="555.9" y1="696.8" x2="555.9" y2="700.8" stroke="#333" stroke-width="1"/>
<text x="555.9" y="714.5" font-family="'Liberation Serif', serif" font-size="12.5" font-weight="bold" text-anchor="middle">Chr4</text>
<line x1="645" y1="696.8" x2="645" y2="700.8" stroke="#333" stroke-width="1"/>
<text x="645" y="714.5" font-family="'Liberation Serif', serif" font-size="12.5" font-weight="bold" text-anchor="middle">Chr5</text>
<text x="1.5" y="466" font-family="'Liberation Serif', serif" font-size="25" font-weight="bold">f</text>
<text x="-47.3" y="0" transform="translate(17,589.3) rotate(-90)" font-family="'Liberation Serif', serif" font-size="14.5" dominant-baseline="central" textLength="94.6" lengthAdjust="spacing">Δ(SNPindex)</text>
</svg>
</body></html>
